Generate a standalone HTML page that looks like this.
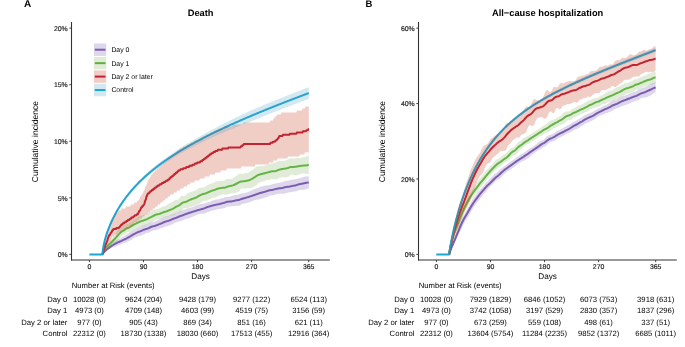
<!DOCTYPE html>
<html><head><meta charset="utf-8"><style>
html,body{margin:0;padding:0;background:#fff;}
svg{display:block;will-change:transform;} text{text-rendering:geometricPrecision;} .t{stroke:currentColor;stroke-width:0.18px;}
</style></head><body>
<svg width="685" height="347" viewBox="0 0 685 347">
<rect width="685" height="347" fill="#fff"/>
<text x="24.0" y="6.8" font-family="&quot;Liberation Sans&quot;, sans-serif" font-size="10" font-weight="bold" fill="#000">A</text>
<text x="365.6" y="6.9" font-family="&quot;Liberation Sans&quot;, sans-serif" font-size="9.5" font-weight="bold" fill="#000">B</text>
<line x1="71.5" y1="22" x2="71.5" y2="260.5" stroke="#333333" stroke-width="1.1"/>
<line x1="71.0" y1="260" x2="329.8" y2="260" stroke="#333333" stroke-width="1.1"/>
<line x1="69.3" y1="254.4" x2="71.5" y2="254.4" stroke="#333333" stroke-width="0.9"/>
<text class="t" x="67.7" y="257.20" font-family="&quot;Liberation Sans&quot;, sans-serif" font-size="6.9" fill="#262626" color="#262626" text-anchor="end">0%</text>
<line x1="69.3" y1="197.82" x2="71.5" y2="197.82" stroke="#333333" stroke-width="0.9"/>
<text class="t" x="67.7" y="200.62" font-family="&quot;Liberation Sans&quot;, sans-serif" font-size="6.9" fill="#262626" color="#262626" text-anchor="end">5%</text>
<line x1="69.3" y1="141.24" x2="71.5" y2="141.24" stroke="#333333" stroke-width="0.9"/>
<text class="t" x="67.7" y="144.04" font-family="&quot;Liberation Sans&quot;, sans-serif" font-size="6.9" fill="#262626" color="#262626" text-anchor="end">10%</text>
<line x1="69.3" y1="84.66" x2="71.5" y2="84.66" stroke="#333333" stroke-width="0.9"/>
<text class="t" x="67.7" y="87.46" font-family="&quot;Liberation Sans&quot;, sans-serif" font-size="6.9" fill="#262626" color="#262626" text-anchor="end">15%</text>
<line x1="69.3" y1="28.080000000000013" x2="71.5" y2="28.080000000000013" stroke="#333333" stroke-width="0.9"/>
<text class="t" x="67.7" y="30.88" font-family="&quot;Liberation Sans&quot;, sans-serif" font-size="6.9" fill="#262626" color="#262626" text-anchor="end">20%</text>
<line x1="89.40" y1="260" x2="89.40" y2="262.2" stroke="#333333" stroke-width="0.9"/>
<text class="t" x="89.40" y="269.0" font-family="&quot;Liberation Sans&quot;, sans-serif" font-size="6.9" fill="#262626" color="#262626" text-anchor="middle">0</text>
<line x1="143.47" y1="260" x2="143.47" y2="262.2" stroke="#333333" stroke-width="0.9"/>
<text class="t" x="143.47" y="269.0" font-family="&quot;Liberation Sans&quot;, sans-serif" font-size="6.9" fill="#262626" color="#262626" text-anchor="middle">90</text>
<line x1="197.54" y1="260" x2="197.54" y2="262.2" stroke="#333333" stroke-width="0.9"/>
<text class="t" x="197.54" y="269.0" font-family="&quot;Liberation Sans&quot;, sans-serif" font-size="6.9" fill="#262626" color="#262626" text-anchor="middle">180</text>
<line x1="251.62" y1="260" x2="251.62" y2="262.2" stroke="#333333" stroke-width="0.9"/>
<text class="t" x="251.62" y="269.0" font-family="&quot;Liberation Sans&quot;, sans-serif" font-size="6.9" fill="#262626" color="#262626" text-anchor="middle">270</text>
<line x1="308.69" y1="260" x2="308.69" y2="262.2" stroke="#333333" stroke-width="0.9"/>
<text class="t" x="308.69" y="269.0" font-family="&quot;Liberation Sans&quot;, sans-serif" font-size="6.9" fill="#262626" color="#262626" text-anchor="middle">365</text>
<text x="200.65" y="278.7" font-family="&quot;Liberation Sans&quot;, sans-serif" font-size="8.2" fill="#000" text-anchor="middle">Days</text>
<text x="200.65" y="16.2" font-family="&quot;Liberation Sans&quot;, sans-serif" font-size="9.3" font-weight="bold" fill="#000" text-anchor="middle">Death</text>
<text transform="translate(38.2,141.5) rotate(-90)" font-family="&quot;Liberation Sans&quot;, sans-serif" font-size="8.55" fill="#000" text-anchor="middle">Cumulative incidence</text>
<text x="71.7" y="287.5" font-family="&quot;Liberation Sans&quot;, sans-serif" font-size="7.7" fill="#000">Number at Risk (events)</text>
<text x="67.4" y="301.50" font-family="&quot;Liberation Sans&quot;, sans-serif" font-size="7.7" fill="#000" text-anchor="end">Day 0</text>
<text x="89.40" y="301.50" font-family="&quot;Liberation Sans&quot;, sans-serif" font-size="7.7" fill="#000" text-anchor="middle">10028 (0)</text>
<text x="143.47" y="301.50" font-family="&quot;Liberation Sans&quot;, sans-serif" font-size="7.7" fill="#000" text-anchor="middle">9624 (204)</text>
<text x="197.54" y="301.50" font-family="&quot;Liberation Sans&quot;, sans-serif" font-size="7.7" fill="#000" text-anchor="middle">9428 (179)</text>
<text x="251.62" y="301.50" font-family="&quot;Liberation Sans&quot;, sans-serif" font-size="7.7" fill="#000" text-anchor="middle">9277 (122)</text>
<text x="308.69" y="301.50" font-family="&quot;Liberation Sans&quot;, sans-serif" font-size="7.7" fill="#000" text-anchor="middle">6524 (113)</text>
<text x="67.4" y="313.13" font-family="&quot;Liberation Sans&quot;, sans-serif" font-size="7.7" fill="#000" text-anchor="end">Day 1</text>
<text x="89.40" y="313.13" font-family="&quot;Liberation Sans&quot;, sans-serif" font-size="7.7" fill="#000" text-anchor="middle">4973 (0)</text>
<text x="143.47" y="313.13" font-family="&quot;Liberation Sans&quot;, sans-serif" font-size="7.7" fill="#000" text-anchor="middle">4709 (148)</text>
<text x="197.54" y="313.13" font-family="&quot;Liberation Sans&quot;, sans-serif" font-size="7.7" fill="#000" text-anchor="middle">4603 (99)</text>
<text x="251.62" y="313.13" font-family="&quot;Liberation Sans&quot;, sans-serif" font-size="7.7" fill="#000" text-anchor="middle">4519 (75)</text>
<text x="308.69" y="313.13" font-family="&quot;Liberation Sans&quot;, sans-serif" font-size="7.7" fill="#000" text-anchor="middle">3156 (59)</text>
<text x="67.4" y="324.76" font-family="&quot;Liberation Sans&quot;, sans-serif" font-size="7.7" fill="#000" text-anchor="end">Day 2 or later</text>
<text x="89.40" y="324.76" font-family="&quot;Liberation Sans&quot;, sans-serif" font-size="7.7" fill="#000" text-anchor="middle">977 (0)</text>
<text x="143.47" y="324.76" font-family="&quot;Liberation Sans&quot;, sans-serif" font-size="7.7" fill="#000" text-anchor="middle">905 (43)</text>
<text x="197.54" y="324.76" font-family="&quot;Liberation Sans&quot;, sans-serif" font-size="7.7" fill="#000" text-anchor="middle">869 (34)</text>
<text x="251.62" y="324.76" font-family="&quot;Liberation Sans&quot;, sans-serif" font-size="7.7" fill="#000" text-anchor="middle">851 (16)</text>
<text x="308.69" y="324.76" font-family="&quot;Liberation Sans&quot;, sans-serif" font-size="7.7" fill="#000" text-anchor="middle">621 (11)</text>
<text x="67.4" y="336.39" font-family="&quot;Liberation Sans&quot;, sans-serif" font-size="7.7" fill="#000" text-anchor="end">Control</text>
<text x="89.40" y="336.39" font-family="&quot;Liberation Sans&quot;, sans-serif" font-size="7.7" fill="#000" text-anchor="middle">22312 (0)</text>
<text x="143.47" y="336.39" font-family="&quot;Liberation Sans&quot;, sans-serif" font-size="7.7" fill="#000" text-anchor="middle">18730 (1338)</text>
<text x="197.54" y="336.39" font-family="&quot;Liberation Sans&quot;, sans-serif" font-size="7.7" fill="#000" text-anchor="middle">18030 (660)</text>
<text x="251.62" y="336.39" font-family="&quot;Liberation Sans&quot;, sans-serif" font-size="7.7" fill="#000" text-anchor="middle">17513 (455)</text>
<text x="308.69" y="336.39" font-family="&quot;Liberation Sans&quot;, sans-serif" font-size="7.7" fill="#000" text-anchor="middle">12916 (364)</text>
<line x1="418.5" y1="22" x2="418.5" y2="260.5" stroke="#333333" stroke-width="1.1"/>
<line x1="418.0" y1="260" x2="676.8" y2="260" stroke="#333333" stroke-width="1.1"/>
<line x1="416.3" y1="254.4" x2="418.5" y2="254.4" stroke="#333333" stroke-width="0.9"/>
<text class="t" x="414.7" y="257.20" font-family="&quot;Liberation Sans&quot;, sans-serif" font-size="6.9" fill="#262626" color="#262626" text-anchor="end">0%</text>
<line x1="416.3" y1="178.97" x2="418.5" y2="178.97" stroke="#333333" stroke-width="0.9"/>
<text class="t" x="414.7" y="181.77" font-family="&quot;Liberation Sans&quot;, sans-serif" font-size="6.9" fill="#262626" color="#262626" text-anchor="end">20%</text>
<line x1="416.3" y1="103.53999999999999" x2="418.5" y2="103.53999999999999" stroke="#333333" stroke-width="0.9"/>
<text class="t" x="414.7" y="106.34" font-family="&quot;Liberation Sans&quot;, sans-serif" font-size="6.9" fill="#262626" color="#262626" text-anchor="end">40%</text>
<line x1="416.3" y1="28.109999999999985" x2="418.5" y2="28.109999999999985" stroke="#333333" stroke-width="0.9"/>
<text class="t" x="414.7" y="30.91" font-family="&quot;Liberation Sans&quot;, sans-serif" font-size="6.9" fill="#262626" color="#262626" text-anchor="end">60%</text>
<line x1="436.40" y1="260" x2="436.40" y2="262.2" stroke="#333333" stroke-width="0.9"/>
<text class="t" x="436.40" y="269.0" font-family="&quot;Liberation Sans&quot;, sans-serif" font-size="6.9" fill="#262626" color="#262626" text-anchor="middle">0</text>
<line x1="490.47" y1="260" x2="490.47" y2="262.2" stroke="#333333" stroke-width="0.9"/>
<text class="t" x="490.47" y="269.0" font-family="&quot;Liberation Sans&quot;, sans-serif" font-size="6.9" fill="#262626" color="#262626" text-anchor="middle">90</text>
<line x1="544.54" y1="260" x2="544.54" y2="262.2" stroke="#333333" stroke-width="0.9"/>
<text class="t" x="544.54" y="269.0" font-family="&quot;Liberation Sans&quot;, sans-serif" font-size="6.9" fill="#262626" color="#262626" text-anchor="middle">180</text>
<line x1="598.62" y1="260" x2="598.62" y2="262.2" stroke="#333333" stroke-width="0.9"/>
<text class="t" x="598.62" y="269.0" font-family="&quot;Liberation Sans&quot;, sans-serif" font-size="6.9" fill="#262626" color="#262626" text-anchor="middle">270</text>
<line x1="655.69" y1="260" x2="655.69" y2="262.2" stroke="#333333" stroke-width="0.9"/>
<text class="t" x="655.69" y="269.0" font-family="&quot;Liberation Sans&quot;, sans-serif" font-size="6.9" fill="#262626" color="#262626" text-anchor="middle">365</text>
<text x="547.65" y="278.7" font-family="&quot;Liberation Sans&quot;, sans-serif" font-size="8.2" fill="#000" text-anchor="middle">Days</text>
<text x="547.65" y="16.2" font-family="&quot;Liberation Sans&quot;, sans-serif" font-size="9.3" font-weight="bold" fill="#000" text-anchor="middle">All−cause hospitalization</text>
<text transform="translate(384.9,141.5) rotate(-90)" font-family="&quot;Liberation Sans&quot;, sans-serif" font-size="8.55" fill="#000" text-anchor="middle">Cumulative incidence</text>
<text x="418.7" y="287.5" font-family="&quot;Liberation Sans&quot;, sans-serif" font-size="7.7" fill="#000">Number at Risk (events)</text>
<text x="414.4" y="301.50" font-family="&quot;Liberation Sans&quot;, sans-serif" font-size="7.7" fill="#000" text-anchor="end">Day 0</text>
<text x="436.40" y="301.50" font-family="&quot;Liberation Sans&quot;, sans-serif" font-size="7.7" fill="#000" text-anchor="middle">10028 (0)</text>
<text x="490.47" y="301.50" font-family="&quot;Liberation Sans&quot;, sans-serif" font-size="7.7" fill="#000" text-anchor="middle">7929 (1829)</text>
<text x="544.54" y="301.50" font-family="&quot;Liberation Sans&quot;, sans-serif" font-size="7.7" fill="#000" text-anchor="middle">6846 (1052)</text>
<text x="598.62" y="301.50" font-family="&quot;Liberation Sans&quot;, sans-serif" font-size="7.7" fill="#000" text-anchor="middle">6073 (753)</text>
<text x="655.69" y="301.50" font-family="&quot;Liberation Sans&quot;, sans-serif" font-size="7.7" fill="#000" text-anchor="middle">3918 (631)</text>
<text x="414.4" y="313.13" font-family="&quot;Liberation Sans&quot;, sans-serif" font-size="7.7" fill="#000" text-anchor="end">Day 1</text>
<text x="436.40" y="313.13" font-family="&quot;Liberation Sans&quot;, sans-serif" font-size="7.7" fill="#000" text-anchor="middle">4973 (0)</text>
<text x="490.47" y="313.13" font-family="&quot;Liberation Sans&quot;, sans-serif" font-size="7.7" fill="#000" text-anchor="middle">3742 (1058)</text>
<text x="544.54" y="313.13" font-family="&quot;Liberation Sans&quot;, sans-serif" font-size="7.7" fill="#000" text-anchor="middle">3197 (529)</text>
<text x="598.62" y="313.13" font-family="&quot;Liberation Sans&quot;, sans-serif" font-size="7.7" fill="#000" text-anchor="middle">2830 (357)</text>
<text x="655.69" y="313.13" font-family="&quot;Liberation Sans&quot;, sans-serif" font-size="7.7" fill="#000" text-anchor="middle">1837 (296)</text>
<text x="414.4" y="324.76" font-family="&quot;Liberation Sans&quot;, sans-serif" font-size="7.7" fill="#000" text-anchor="end">Day 2 or later</text>
<text x="436.40" y="324.76" font-family="&quot;Liberation Sans&quot;, sans-serif" font-size="7.7" fill="#000" text-anchor="middle">977 (0)</text>
<text x="490.47" y="324.76" font-family="&quot;Liberation Sans&quot;, sans-serif" font-size="7.7" fill="#000" text-anchor="middle">673 (259)</text>
<text x="544.54" y="324.76" font-family="&quot;Liberation Sans&quot;, sans-serif" font-size="7.7" fill="#000" text-anchor="middle">559 (108)</text>
<text x="598.62" y="324.76" font-family="&quot;Liberation Sans&quot;, sans-serif" font-size="7.7" fill="#000" text-anchor="middle">498 (61)</text>
<text x="655.69" y="324.76" font-family="&quot;Liberation Sans&quot;, sans-serif" font-size="7.7" fill="#000" text-anchor="middle">337 (51)</text>
<text x="414.4" y="336.39" font-family="&quot;Liberation Sans&quot;, sans-serif" font-size="7.7" fill="#000" text-anchor="end">Control</text>
<text x="436.40" y="336.39" font-family="&quot;Liberation Sans&quot;, sans-serif" font-size="7.7" fill="#000" text-anchor="middle">22312 (0)</text>
<text x="490.47" y="336.39" font-family="&quot;Liberation Sans&quot;, sans-serif" font-size="7.7" fill="#000" text-anchor="middle">13604 (5754)</text>
<text x="544.54" y="336.39" font-family="&quot;Liberation Sans&quot;, sans-serif" font-size="7.7" fill="#000" text-anchor="middle">11284 (2235)</text>
<text x="598.62" y="336.39" font-family="&quot;Liberation Sans&quot;, sans-serif" font-size="7.7" fill="#000" text-anchor="middle">9852 (1372)</text>
<text x="655.69" y="336.39" font-family="&quot;Liberation Sans&quot;, sans-serif" font-size="7.7" fill="#000" text-anchor="middle">6685 (1011)</text>
<path d="M102.40,254.40L102.90,253.42L103.40,252.78L103.90,252.21L104.40,251.68L104.90,251.19L105.40,250.72L105.90,250.27L106.40,249.85L106.90,249.43L107.40,249.03L107.90,248.63L108.40,248.25L108.90,247.86L109.40,247.48L109.90,247.09L110.40,246.71L110.90,246.34L111.40,245.98L111.90,245.64L112.40,245.33L112.90,245.04L113.40,244.76L113.90,244.48L114.40,244.21L114.90,243.93L115.40,243.64L115.90,243.36L116.40,243.09L116.90,242.83L117.40,242.58L117.90,242.36L118.40,242.15L118.90,241.95L119.40,241.75L119.90,241.55L120.40,241.35L120.90,241.13L121.40,240.89L121.90,240.65L122.40,240.41L122.90,240.17L123.40,239.94L123.90,239.71L124.40,239.48L124.90,239.25L125.40,239.02L125.90,238.77L126.40,238.52L126.90,238.24L127.40,237.96L127.90,237.66L128.40,237.37L128.90,237.08L129.40,236.80L129.90,236.53L130.40,236.25L130.90,235.96L131.40,235.65L131.90,235.34L132.40,235.03L132.90,234.72L133.40,234.43L133.90,234.16L134.40,233.91L134.90,233.66L135.40,233.42L135.90,233.16L136.40,232.90L136.90,232.64L137.40,232.40L137.90,232.17L138.40,231.97L138.90,231.79L139.40,231.61L139.90,231.43L140.40,231.23L140.90,231.03L141.40,230.82L141.90,230.60L142.40,230.39L142.90,230.17L143.40,229.95L143.90,229.74L144.40,229.55L144.90,229.37L145.40,229.22L145.90,229.07L146.40,228.93L146.90,228.78L147.40,228.62L147.90,228.43L148.40,228.23L148.90,228.00L149.40,227.75L149.90,227.49L150.40,227.23L150.90,226.98L151.40,226.76L151.90,226.58L152.40,226.45L152.90,226.33L153.40,226.23L153.90,226.12L154.40,225.99L154.90,225.84L155.40,225.68L155.90,225.51L156.40,225.34L156.90,225.16L157.40,224.97L157.90,224.77L158.40,224.57L158.90,224.37L159.40,224.18L159.90,223.99L160.40,223.81L160.90,223.63L161.40,223.43L161.90,223.22L162.40,222.98L162.90,222.73L163.40,222.48L163.90,222.23L164.40,222.02L164.90,221.82L165.40,221.65L165.90,221.50L166.40,221.36L166.90,221.23L167.40,221.09L167.90,220.95L168.40,220.81L168.90,220.65L169.40,220.48L169.90,220.29L170.40,220.08L170.90,219.86L171.40,219.63L171.90,219.40L172.40,219.18L172.90,218.96L173.40,218.75L173.90,218.56L174.40,218.38L174.90,218.21L175.40,218.05L175.90,217.88L176.40,217.70L176.90,217.49L177.40,217.28L177.90,217.05L178.40,216.83L178.90,216.62L179.40,216.42L179.90,216.23L180.40,216.06L180.90,215.90L181.40,215.73L181.90,215.57L182.40,215.39L182.90,215.21L183.40,215.00L183.90,214.80L184.40,214.59L184.90,214.40L185.40,214.22L185.90,214.05L186.40,213.89L186.90,213.72L187.40,213.54L187.90,213.35L188.40,213.17L188.90,212.98L189.40,212.81L189.90,212.65L190.40,212.50L190.90,212.34L191.40,212.18L191.90,212.02L192.40,211.86L192.90,211.70L193.40,211.55L193.90,211.40L194.40,211.26L194.90,211.10L195.40,210.94L195.90,210.77L196.40,210.60L196.90,210.43L197.40,210.27L197.90,210.13L198.40,210.01L198.90,209.89L199.40,209.77L199.90,209.64L200.40,209.50L200.90,209.35L201.40,209.20L201.90,209.06L202.40,208.92L202.90,208.79L203.40,208.65L203.90,208.50L204.40,208.32L204.90,208.11L205.40,207.89L205.90,207.66L206.40,207.45L206.90,207.25L207.40,207.06L207.90,206.89L208.40,206.73L208.90,206.59L209.40,206.45L209.90,206.31L210.40,206.17L210.90,206.02L211.40,205.86L211.90,205.71L212.40,205.58L212.90,205.45L213.40,205.34L213.90,205.23L214.40,205.11L214.90,204.99L215.40,204.86L215.90,204.73L216.40,204.61L216.90,204.51L217.40,204.43L217.90,204.37L218.40,204.30L218.90,204.21L219.40,204.10L219.90,203.97L220.40,203.82L220.90,203.66L221.40,203.51L221.90,203.38L222.40,203.25L222.90,203.14L223.40,203.02L223.90,202.89L224.40,202.73L224.90,202.54L225.40,202.33L225.90,202.12L226.40,201.94L226.90,201.80L227.40,201.70L227.90,201.65L228.40,201.63L228.90,201.61L229.40,201.59L229.90,201.55L230.40,201.51L230.90,201.45L231.40,201.39L231.90,201.31L232.40,201.22L232.90,201.12L233.40,201.01L233.90,200.89L234.40,200.76L234.90,200.64L235.40,200.52L235.90,200.42L236.40,200.32L236.90,200.25L237.40,200.18L237.90,200.11L238.40,200.03L238.90,199.92L239.40,199.77L239.90,199.59L240.40,199.40L240.90,199.20L241.40,199.01L241.90,198.83L242.40,198.68L242.90,198.54L243.40,198.42L243.90,198.30L244.40,198.17L244.90,198.03L245.40,197.87L245.90,197.70L246.40,197.53L246.90,197.37L247.40,197.23L247.90,197.10L248.40,196.98L248.90,196.84L249.40,196.68L249.90,196.51L250.40,196.33L250.90,196.16L251.40,195.99L251.90,195.84L252.40,195.68L252.90,195.52L253.40,195.35L253.90,195.18L254.40,195.01L254.90,194.84L255.40,194.66L255.90,194.48L256.40,194.29L256.90,194.11L257.40,193.94L257.90,193.76L258.40,193.59L258.90,193.41L259.40,193.24L259.90,193.07L260.40,192.92L260.90,192.78L261.40,192.67L261.90,192.56L262.40,192.46L262.90,192.34L263.40,192.20L263.90,192.05L264.40,191.90L264.90,191.74L265.40,191.59L265.90,191.44L266.40,191.29L266.90,191.13L267.40,190.95L267.90,190.76L268.40,190.58L268.90,190.42L269.40,190.30L269.90,190.21L270.40,190.15L270.90,190.10L271.40,190.06L271.90,190.00L272.40,189.91L272.90,189.80L273.40,189.66L273.90,189.51L274.40,189.37L274.90,189.23L275.40,189.11L275.90,189.00L276.40,188.89L276.90,188.78L277.40,188.68L277.90,188.58L278.40,188.50L278.90,188.42L279.40,188.36L279.90,188.30L280.40,188.24L280.90,188.18L281.40,188.13L281.90,188.06L282.40,187.97L282.90,187.86L283.40,187.71L283.90,187.55L284.40,187.38L284.90,187.23L285.40,187.11L285.90,187.01L286.40,186.94L286.90,186.87L287.40,186.82L287.90,186.77L288.40,186.72L288.90,186.67L289.40,186.61L289.90,186.52L290.40,186.41L290.90,186.27L291.40,186.13L291.90,186.00L292.40,185.88L292.90,185.79L293.40,185.73L293.90,185.67L294.40,185.61L294.90,185.53L295.40,185.42L295.90,185.28L296.40,185.10L296.90,184.92L297.40,184.74L297.90,184.58L298.40,184.44L298.90,184.32L299.40,184.23L299.90,184.13L300.40,184.03L300.90,183.93L301.40,183.82L301.90,183.71L302.40,183.61L302.90,183.51L303.40,183.41L303.90,183.29L304.40,183.17L304.90,183.05L305.40,182.94L305.90,182.85L306.40,182.77L306.90,182.70L307.40,182.63L307.90,182.56L308.40,182.48L308.80,182.40" fill="none" stroke="#7a5cb0" stroke-width="2.0" stroke-linejoin="round"/>
<path d="M102.40,254.40L102.90,252.60L103.40,251.52L103.90,250.65L104.40,249.89L104.90,249.21L105.40,248.57L105.90,247.96L106.40,247.39L106.90,246.85L107.40,246.33L107.90,245.82L108.40,245.33L108.90,244.84L109.40,244.34L109.90,243.84L110.40,243.33L110.90,242.82L111.40,242.32L111.90,241.81L112.40,241.30L112.90,240.80L113.40,240.28L113.90,239.77L114.40,239.25L114.90,238.72L115.40,238.19L115.90,237.65L116.40,237.10L116.90,236.53L117.40,235.95L117.90,235.35L118.40,234.76L118.90,234.19L119.40,233.65L119.90,233.14L120.40,232.66L120.90,232.23L121.40,231.83L121.90,231.49L122.40,231.18L122.90,230.90L123.40,230.62L123.90,230.31L124.40,229.98L124.90,229.62L125.40,229.25L125.90,228.90L126.40,228.59L126.90,228.34L127.40,228.12L127.90,227.94L128.40,227.76L128.90,227.55L129.40,227.31L129.90,227.03L130.40,226.72L130.90,226.41L131.40,226.09L131.90,225.78L132.40,225.48L132.90,225.20L133.40,224.92L133.90,224.66L134.40,224.41L134.90,224.16L135.40,223.93L135.90,223.69L136.40,223.45L136.90,223.19L137.40,222.93L137.90,222.66L138.40,222.38L138.90,222.11L139.40,221.86L139.90,221.64L140.40,221.45L140.90,221.29L141.40,221.13L141.90,220.98L142.40,220.82L142.90,220.64L143.40,220.46L143.90,220.26L144.40,220.07L144.90,219.89L145.40,219.72L145.90,219.56L146.40,219.39L146.90,219.19L147.40,218.95L147.90,218.69L148.40,218.42L148.90,218.16L149.40,217.90L149.90,217.67L150.40,217.44L150.90,217.21L151.40,216.95L151.90,216.68L152.40,216.39L152.90,216.10L153.40,215.80L153.90,215.52L154.40,215.26L154.90,215.02L155.40,214.81L155.90,214.65L156.40,214.52L156.90,214.42L157.40,214.33L157.90,214.24L158.40,214.13L158.90,214.00L159.40,213.85L159.90,213.67L160.40,213.49L160.90,213.29L161.40,213.08L161.90,212.87L162.40,212.65L162.90,212.45L163.40,212.26L163.90,212.09L164.40,211.95L164.90,211.81L165.40,211.68L165.90,211.54L166.40,211.38L166.90,211.20L167.40,210.99L167.90,210.77L168.40,210.55L168.90,210.33L169.40,210.12L169.90,209.93L170.40,209.75L170.90,209.57L171.40,209.38L171.90,209.18L172.40,208.96L172.90,208.72L173.40,208.44L173.90,208.14L174.40,207.81L174.90,207.47L175.40,207.14L175.90,206.83L176.40,206.57L176.90,206.34L177.40,206.14L177.90,205.94L178.40,205.72L178.90,205.46L179.40,205.16L179.90,204.80L180.40,204.40L180.90,203.98L181.40,203.55L181.90,203.16L182.40,202.82L182.90,202.56L183.40,202.37L183.90,202.24L184.40,202.15L184.90,202.06L185.40,201.95L185.90,201.80L186.40,201.60L186.90,201.37L187.40,201.11L187.90,200.84L188.40,200.58L188.90,200.33L189.40,200.10L189.90,199.89L190.40,199.68L190.90,199.46L191.40,199.25L191.90,199.04L192.40,198.84L192.90,198.66L193.40,198.51L193.90,198.36L194.40,198.19L194.90,198.01L195.40,197.79L195.90,197.56L196.40,197.31L196.90,197.05L197.40,196.78L197.90,196.49L198.40,196.19L198.90,195.88L199.40,195.58L199.90,195.29L200.40,195.04L200.90,194.82L201.40,194.62L201.90,194.44L202.40,194.27L202.90,194.11L203.40,193.97L203.90,193.84L204.40,193.72L204.90,193.61L205.40,193.47L205.90,193.30L206.40,193.11L206.90,192.88L207.40,192.65L207.90,192.42L208.40,192.20L208.90,192.00L209.40,191.80L209.90,191.59L210.40,191.37L210.90,191.14L211.40,190.91L211.90,190.70L212.40,190.51L212.90,190.36L213.40,190.23L213.90,190.11L214.40,189.97L214.90,189.81L215.40,189.61L215.90,189.39L216.40,189.17L216.90,188.96L217.40,188.79L217.90,188.65L218.40,188.52L218.90,188.41L219.40,188.30L219.90,188.20L220.40,188.11L220.90,188.02L221.40,187.95L221.90,187.88L222.40,187.82L222.90,187.76L223.40,187.72L223.90,187.69L224.40,187.65L224.90,187.58L225.40,187.48L225.90,187.32L226.40,187.13L226.90,186.91L227.40,186.70L227.90,186.51L228.40,186.35L228.90,186.22L229.40,186.11L229.90,186.01L230.40,185.91L230.90,185.82L231.40,185.72L231.90,185.62L232.40,185.50L232.90,185.35L233.40,185.17L233.90,184.96L234.40,184.74L234.90,184.50L235.40,184.26L235.90,184.01L236.40,183.76L236.90,183.50L237.40,183.23L237.90,182.94L238.40,182.64L238.90,182.35L239.40,182.08L239.90,181.84L240.40,181.66L240.90,181.52L241.40,181.44L241.90,181.40L242.40,181.38L242.90,181.36L243.40,181.34L243.90,181.29L244.40,181.22L244.90,181.13L245.40,181.03L245.90,180.93L246.40,180.84L246.90,180.76L247.40,180.67L247.90,180.57L248.40,180.44L248.90,180.28L249.40,180.10L249.90,179.88L250.40,179.65L250.90,179.40L251.40,179.13L251.90,178.86L252.40,178.57L252.90,178.29L253.40,178.00L253.90,177.70L254.40,177.40L254.90,177.08L255.40,176.75L255.90,176.41L256.40,176.08L256.90,175.75L257.40,175.45L257.90,175.19L258.40,174.96L258.90,174.77L259.40,174.60L259.90,174.46L260.40,174.32L260.90,174.19L261.40,174.07L261.90,173.94L262.40,173.80L262.90,173.67L263.40,173.54L263.90,173.42L264.40,173.29L264.90,173.16L265.40,173.03L265.90,172.90L266.40,172.77L266.90,172.64L267.40,172.50L267.90,172.37L268.40,172.24L268.90,172.10L269.40,171.96L269.90,171.81L270.40,171.66L270.90,171.53L271.40,171.43L271.90,171.36L272.40,171.34L272.90,171.33L273.40,171.34L273.90,171.33L274.40,171.29L274.90,171.22L275.40,171.11L275.90,170.97L276.40,170.80L276.90,170.60L277.40,170.39L277.90,170.18L278.40,169.98L278.90,169.79L279.40,169.62L279.90,169.47L280.40,169.35L280.90,169.24L281.40,169.14L281.90,169.06L282.40,168.99L282.90,168.91L283.40,168.84L283.90,168.77L284.40,168.69L284.90,168.62L285.40,168.54L285.90,168.45L286.40,168.35L286.90,168.23L287.40,168.09L287.90,167.94L288.40,167.76L288.90,167.58L289.40,167.39L289.90,167.23L290.40,167.09L290.90,167.00L291.40,166.94L291.90,166.91L292.40,166.89L292.90,166.89L293.40,166.89L293.90,166.88L294.40,166.86L294.90,166.82L295.40,166.76L295.90,166.67L296.40,166.58L296.90,166.49L297.40,166.40L297.90,166.32L298.40,166.24L298.90,166.17L299.40,166.09L299.90,166.00L300.40,165.91L300.90,165.83L301.40,165.75L301.90,165.69L302.40,165.63L302.90,165.59L303.40,165.55L303.90,165.51L304.40,165.49L304.90,165.48L305.40,165.47L305.90,165.45L306.40,165.41L306.90,165.33L307.40,165.21L307.90,165.06L308.40,164.91L308.80,164.80" fill="none" stroke="#5cb43c" stroke-width="2.0" stroke-linejoin="round"/>
<path d="M102.40,254.40L102.90,253.25L103.40,252.10L103.90,249.80L104.40,248.65L104.90,246.35L105.40,245.20L105.90,244.05L106.40,242.90L106.90,241.75L107.40,240.60L107.90,238.30L108.40,237.15L108.90,236.00L109.40,234.85L109.90,234.85L110.40,233.70L110.90,232.55L111.40,232.55L111.90,231.40L112.40,230.25L112.90,230.25L113.40,229.10L113.90,229.10L114.40,229.10L114.90,229.10L115.40,229.10L115.90,229.10L116.40,227.95L116.90,227.95L117.40,227.95L117.90,227.95L118.40,227.95L118.90,227.95L119.40,226.80L119.90,226.80L120.40,225.65L120.90,225.65L121.40,224.50L121.90,224.50L122.40,224.50L122.90,223.35L123.40,223.35L123.90,223.35L124.40,222.20L124.90,222.20L125.40,222.20L125.90,222.20L126.40,221.05L126.90,221.05L127.40,221.05L127.90,219.90L128.40,219.90L128.90,219.90L129.40,219.90L129.90,218.75L130.40,218.75L130.90,218.75L131.40,217.60L131.90,217.60L132.40,217.60L132.90,217.60L133.40,216.45L133.90,216.45L134.40,216.45L134.90,215.30L135.40,215.30L135.90,215.30L136.40,215.30L136.90,214.15L137.40,214.15L137.90,214.15L138.40,213.00L138.90,211.85L139.40,210.70L139.90,210.70L140.40,209.55L140.90,208.40L141.40,207.25L141.90,207.25L142.40,206.10L142.90,206.10L143.40,204.95L143.90,204.95L144.40,203.80L144.90,201.50L145.40,200.35L145.90,199.20L146.40,196.90L146.90,195.75L147.40,194.60L147.90,193.45L148.40,193.45L148.90,193.45L149.40,192.30L149.90,192.30L150.40,191.15L150.90,191.15L151.40,191.15L151.90,190.00L152.40,190.00L152.90,190.00L153.40,188.85L153.90,188.85L154.40,188.85L154.90,187.70L155.40,187.70L155.90,187.70L156.40,186.55L156.90,186.55L157.40,186.55L157.90,185.40L158.40,185.40L158.90,185.40L159.40,185.40L159.90,184.25L160.40,184.25L160.90,184.25L161.40,184.25L161.90,183.10L162.40,183.10L162.90,183.10L163.40,183.10L163.90,181.95L164.40,181.95L164.90,181.95L165.40,181.95L165.90,180.80L166.40,180.80L166.90,180.80L167.40,180.80L167.90,179.65L168.40,179.65L168.90,179.65L169.40,178.50L169.90,178.50L170.40,177.35L170.90,177.35L171.40,177.35L171.90,176.20L172.40,176.20L172.90,176.20L173.40,175.05L173.90,175.05L174.40,173.90L174.90,173.90L175.40,173.90L175.90,172.75L176.40,172.75L176.90,172.75L177.40,171.60L177.90,171.60L178.40,170.45L178.90,170.45L179.40,170.45L179.90,170.45L180.40,169.30L180.90,169.30L181.40,169.30L181.90,169.30L182.40,169.30L182.90,169.30L183.40,168.15L183.90,168.15L184.40,168.15L184.90,168.15L185.40,168.15L185.90,168.15L186.40,167.00L186.90,167.00L187.40,167.00L187.90,167.00L188.40,167.00L188.90,167.00L189.40,165.85L189.90,165.85L190.40,165.85L190.90,165.85L191.40,165.85L191.90,165.85L192.40,164.70L192.90,164.70L193.40,164.70L193.90,164.70L194.40,164.70L194.90,163.55L195.40,163.55L195.90,163.55L196.40,163.55L196.90,163.55L197.40,162.40L197.90,162.40L198.40,162.40L198.90,162.40L199.40,162.40L199.90,162.40L200.40,161.25L200.90,161.25L201.40,161.25L201.90,161.25L202.40,160.10L202.90,160.10L203.40,160.10L203.90,158.95L204.40,158.95L204.90,158.95L205.40,157.80L205.90,157.80L206.40,157.80L206.90,156.65L207.40,156.65L207.90,156.65L208.40,155.50L208.90,155.50L209.40,155.50L209.90,154.35L210.40,154.35L210.90,154.35L211.40,153.20L211.90,153.20L212.40,153.20L212.90,153.20L213.40,152.05L213.90,152.05L214.40,152.05L214.90,152.05L215.40,150.90L215.90,150.90L216.40,150.90L216.90,150.90L217.40,150.90L217.90,149.75L218.40,149.75L218.90,149.75L219.40,149.75L219.90,149.75L220.40,149.75L220.90,149.75L221.40,149.75L221.90,149.75L222.40,148.60L222.90,148.60L223.40,148.60L223.90,148.60L224.40,148.60L224.90,148.60L225.40,148.60L225.90,148.60L226.40,148.60L226.90,148.60L227.40,148.60L227.90,148.60L228.40,147.45L228.90,147.45L229.40,147.45L229.90,147.45L230.40,147.45L230.90,147.45L231.40,147.45L231.90,147.45L232.40,147.45L232.90,147.45L233.40,147.45L233.90,147.45L234.40,147.45L234.90,147.45L235.40,147.45L235.90,147.45L236.40,147.45L236.90,147.45L237.40,147.45L237.90,147.45L238.40,147.45L238.90,147.45L239.40,147.45L239.90,147.45L240.40,147.45L240.90,146.30L241.40,146.30L241.90,146.30L242.40,145.15L242.90,145.15L243.40,145.15L243.90,144.00L244.40,144.00L244.90,144.00L245.40,144.00L245.90,144.00L246.40,144.00L246.90,144.00L247.40,144.00L247.90,144.00L248.40,144.00L248.90,144.00L249.40,144.00L249.90,144.00L250.40,144.00L250.90,144.00L251.40,144.00L251.90,144.00L252.40,144.00L252.90,144.00L253.40,144.00L253.90,144.00L254.40,144.00L254.90,144.00L255.40,144.00L255.90,144.00L256.40,144.00L256.90,144.00L257.40,144.00L257.90,144.00L258.40,144.00L258.90,144.00L259.40,144.00L259.90,144.00L260.40,144.00L260.90,144.00L261.40,144.00L261.90,144.00L262.40,144.00L262.90,144.00L263.40,144.00L263.90,144.00L264.40,144.00L264.90,144.00L265.40,144.00L265.90,144.00L266.40,144.00L266.90,144.00L267.40,144.00L267.90,144.00L268.40,144.00L268.90,144.00L269.40,144.00L269.90,144.00L270.40,142.85L270.90,142.85L271.40,142.85L271.90,142.85L272.40,142.85L272.90,141.70L273.40,141.70L273.90,141.70L274.40,141.70L274.90,141.70L275.40,140.55L275.90,140.55L276.40,140.55L276.90,139.40L277.40,139.40L277.90,138.25L278.40,138.25L278.90,137.10L279.40,135.95L279.90,135.95L280.40,135.95L280.90,135.95L281.40,135.95L281.90,135.95L282.40,135.95L282.90,134.80L283.40,134.80L283.90,134.80L284.40,134.80L284.90,134.80L285.40,134.80L285.90,134.80L286.40,134.80L286.90,134.80L287.40,134.80L287.90,134.80L288.40,134.80L288.90,134.80L289.40,134.80L289.90,133.65L290.40,133.65L290.90,133.65L291.40,133.65L291.90,133.65L292.40,133.65L292.90,133.65L293.40,133.65L293.90,133.65L294.40,133.65L294.90,133.65L295.40,133.65L295.90,133.65L296.40,133.65L296.90,132.50L297.40,132.50L297.90,132.50L298.40,132.50L298.90,132.50L299.40,132.50L299.90,132.50L300.40,132.50L300.90,132.50L301.40,132.50L301.90,132.50L302.40,132.50L302.90,131.35L303.40,131.35L303.90,131.35L304.40,131.35L304.90,131.35L305.40,131.35L305.90,131.35L306.40,130.20L306.90,130.20L307.40,130.20L307.90,130.20L308.40,129.05L308.80,129.05" fill="none" stroke="#c41e3a" stroke-width="2.0" stroke-linejoin="round"/>
<path d="M89.40,254.40L102.40,254.40L102.90,249.58L103.40,246.66L103.90,244.22L104.40,242.05L104.90,240.08L105.40,238.25L105.90,236.53L106.40,234.91L106.90,233.37L107.40,231.89L107.90,230.48L108.40,229.12L108.90,227.82L109.40,226.55L109.90,225.33L110.40,224.14L110.90,222.98L111.40,221.86L111.90,220.77L112.40,219.70L112.90,218.66L113.40,217.64L113.90,216.65L114.40,215.68L114.90,214.73L115.40,213.80L115.90,212.88L116.40,211.99L116.90,211.11L117.40,210.24L117.90,209.40L118.40,208.56L118.90,207.74L119.40,206.94L119.90,206.15L120.40,205.37L120.90,204.60L121.40,203.84L121.90,203.10L122.40,202.36L122.90,201.64L123.40,200.93L123.90,200.22L124.40,199.53L124.90,198.84L125.40,198.17L125.90,197.50L126.40,196.84L126.90,196.19L127.40,195.55L127.90,194.91L128.40,194.29L128.90,193.67L129.40,193.05L129.90,192.45L130.40,191.85L130.90,191.26L131.40,190.67L131.90,190.09L132.40,189.52L132.90,188.95L133.40,188.39L133.90,187.83L134.40,187.28L134.90,186.73L135.40,186.19L135.90,185.66L136.40,185.13L136.90,184.61L137.40,184.09L137.90,183.57L138.40,183.06L138.90,182.56L139.40,182.06L139.90,181.56L140.40,181.07L140.90,180.58L141.40,180.09L141.90,179.61L142.40,179.14L142.90,178.67L143.40,178.20L143.90,177.73L144.40,177.27L144.90,176.82L145.40,176.36L145.90,175.91L146.40,175.47L146.90,175.02L147.40,174.58L147.90,174.15L148.40,173.71L148.90,173.28L149.40,172.86L149.90,172.43L150.40,172.01L150.90,171.59L151.40,171.18L151.90,170.76L152.40,170.35L152.90,169.95L153.40,169.54L153.90,169.14L154.40,168.74L154.90,168.35L155.40,167.95L155.90,167.56L156.40,167.17L156.90,166.78L157.40,166.40L157.90,166.02L158.40,165.64L158.90,165.26L159.40,164.89L159.90,164.51L160.40,164.14L160.90,163.78L161.40,163.41L161.90,163.04L162.40,162.68L162.90,162.32L163.40,161.96L163.90,161.61L164.40,161.25L164.90,160.90L165.40,160.55L165.90,160.20L166.40,159.86L166.90,159.51L167.40,159.17L167.90,158.83L168.40,158.49L168.90,158.15L169.40,157.81L169.90,157.48L170.40,157.14L170.90,156.81L171.40,156.48L171.90,156.16L172.40,155.83L172.90,155.50L173.40,155.18L173.90,154.86L174.40,154.54L174.90,154.22L175.40,153.90L175.90,153.58L176.40,153.27L176.90,152.96L177.40,152.64L177.90,152.33L178.40,152.02L178.90,151.72L179.40,151.41L179.90,151.10L180.40,150.80L180.90,150.50L181.40,150.20L181.90,149.89L182.40,149.60L182.90,149.30L183.40,149.00L183.90,148.70L184.40,148.41L184.90,148.12L185.40,147.82L185.90,147.53L186.40,147.24L186.90,146.95L187.40,146.67L187.90,146.38L188.40,146.09L188.90,145.81L189.40,145.53L189.90,145.24L190.40,144.96L190.90,144.68L191.40,144.40L191.90,144.12L192.40,143.85L192.90,143.57L193.40,143.29L193.90,143.02L194.40,142.74L194.90,142.47L195.40,142.20L195.90,141.93L196.40,141.66L196.90,141.39L197.40,141.12L197.90,140.85L198.40,140.59L198.90,140.32L199.40,140.05L199.90,139.79L200.40,139.53L200.90,139.26L201.40,139.00L201.90,138.74L202.40,138.48L202.90,138.22L203.40,137.96L203.90,137.70L204.40,137.45L204.90,137.19L205.40,136.93L205.90,136.68L206.40,136.42L206.90,136.17L207.40,135.92L207.90,135.67L208.40,135.41L208.90,135.16L209.40,134.91L209.90,134.66L210.40,134.41L210.90,134.17L211.40,133.92L211.90,133.67L212.40,133.42L212.90,133.18L213.40,132.93L213.90,132.69L214.40,132.44L214.90,132.20L215.40,131.96L215.90,131.72L216.40,131.48L216.90,131.23L217.40,130.99L217.90,130.75L218.40,130.52L218.90,130.28L219.40,130.04L219.90,129.80L220.40,129.56L220.90,129.33L221.40,129.09L221.90,128.86L222.40,128.62L222.90,128.39L223.40,128.15L223.90,127.92L224.40,127.69L224.90,127.45L225.40,127.22L225.90,126.99L226.40,126.76L226.90,126.53L227.40,126.30L227.90,126.07L228.40,125.84L228.90,125.61L229.40,125.38L229.90,125.16L230.40,124.93L230.90,124.70L231.40,124.48L231.90,124.25L232.40,124.03L232.90,123.80L233.40,123.58L233.90,123.35L234.40,123.13L234.90,122.91L235.40,122.68L235.90,122.46L236.40,122.24L236.90,122.02L237.40,121.80L237.90,121.58L238.40,121.35L238.90,121.13L239.40,120.91L239.90,120.70L240.40,120.48L240.90,120.26L241.40,120.04L241.90,119.82L242.40,119.61L242.90,119.39L243.40,119.17L243.90,118.95L244.40,118.74L244.90,118.52L245.40,118.31L245.90,118.09L246.40,117.88L246.90,117.66L247.40,117.45L247.90,117.24L248.40,117.02L248.90,116.81L249.40,116.60L249.90,116.39L250.40,116.17L250.90,115.96L251.40,115.75L251.90,115.54L252.40,115.33L252.90,115.12L253.40,114.91L253.90,114.70L254.40,114.49L254.90,114.28L255.40,114.07L255.90,113.86L256.40,113.65L256.90,113.45L257.40,113.24L257.90,113.03L258.40,112.82L258.90,112.62L259.40,112.41L259.90,112.20L260.40,112.00L260.90,111.79L261.40,111.59L261.90,111.38L262.40,111.18L262.90,110.97L263.40,110.77L263.90,110.56L264.40,110.36L264.90,110.16L265.40,109.95L265.90,109.75L266.40,109.55L266.90,109.34L267.40,109.14L267.90,108.94L268.40,108.74L268.90,108.53L269.40,108.33L269.90,108.13L270.40,107.93L270.90,107.73L271.40,107.53L271.90,107.33L272.40,107.13L272.90,106.93L273.40,106.73L273.90,106.53L274.40,106.33L274.90,106.13L275.40,105.93L275.90,105.73L276.40,105.53L276.90,105.34L277.40,105.14L277.90,104.94L278.40,104.74L278.90,104.55L279.40,104.35L279.90,104.15L280.40,103.95L280.90,103.76L281.40,103.56L281.90,103.37L282.40,103.17L282.90,102.97L283.40,102.78L283.90,102.58L284.40,102.39L284.90,102.19L285.40,102.00L285.90,101.80L286.40,101.61L286.90,101.41L287.40,101.22L287.90,101.03L288.40,100.83L288.90,100.64L289.40,100.44L289.90,100.25L290.40,100.06L290.90,99.86L291.40,99.67L291.90,99.48L292.40,99.29L292.90,99.09L293.40,98.90L293.90,98.71L294.40,98.52L294.90,98.33L295.40,98.14L295.90,97.94L296.40,97.75L296.90,97.56L297.40,97.37L297.90,97.18L298.40,96.99L298.90,96.80L299.40,96.61L299.90,96.42L300.40,96.23L300.90,96.04L301.40,95.85L301.90,95.66L302.40,95.47L302.90,95.28L303.40,95.09L303.90,94.90L304.40,94.71L304.90,94.53L305.40,94.34L305.90,94.15L306.40,93.96L306.90,93.77L307.40,93.58L307.90,93.40L308.40,93.21L308.80,93.06" fill="none" stroke="#1ba5d2" stroke-width="2.0" stroke-linejoin="round"/>
<path d="M102.40,254.40L102.90,253.24L103.40,252.48L103.90,251.78L104.40,251.12L104.90,250.51L105.40,249.91L105.90,249.34L106.40,248.79L106.90,248.24L107.40,247.71L107.90,247.18L108.40,246.65L108.90,246.12L109.40,245.59L109.90,245.05L110.40,244.53L110.90,244.02L111.40,243.55L111.90,243.12L112.40,242.72L112.90,242.35L113.40,241.98L113.90,241.60L114.40,241.23L114.90,240.85L115.40,240.56L115.90,240.30L116.40,240.06L116.90,239.83L117.40,239.62L117.90,239.43L118.40,239.23L118.90,239.02L119.40,238.79L119.90,238.55L120.40,238.27L120.90,237.98L121.40,237.67L121.90,237.37L122.40,237.06L122.90,236.76L123.40,236.46L123.90,236.17L124.40,235.86L124.90,235.55L125.40,235.23L125.90,234.89L126.40,234.53L126.90,234.17L127.40,233.81L127.90,233.47L128.40,233.17L128.90,232.88L129.40,232.61L129.90,232.33L130.40,232.02L130.90,231.69L131.40,231.34L131.90,231.00L132.40,230.69L132.90,230.43L133.40,230.21L133.90,230.02L134.40,229.83L134.90,229.61L135.40,229.34L135.90,229.05L136.40,228.74L136.90,228.45L137.40,228.20L137.90,227.97L138.40,227.74L138.90,227.52L139.40,227.28L139.90,227.02L140.40,226.77L140.90,226.52L141.40,226.28L141.90,226.03L142.40,225.79L142.90,225.56L143.40,225.35L143.90,225.17L144.40,225.02L144.90,224.89L145.40,224.77L145.90,224.65L146.40,224.50L146.90,224.31L147.40,224.09L147.90,223.83L148.40,223.54L148.90,223.23L149.40,222.92L149.90,222.65L150.40,222.45L150.90,222.33L151.40,222.27L151.90,222.24L152.40,222.21L152.90,222.14L153.40,222.02L153.90,221.86L154.40,221.64L154.90,221.40L155.40,221.16L155.90,220.92L156.40,220.68L156.90,220.44L157.40,220.20L157.90,219.96L158.40,219.73L158.90,219.51L159.40,219.31L159.90,219.11L160.40,218.89L160.90,218.65L161.40,218.37L161.90,218.04L162.40,217.71L162.90,217.40L163.40,217.14L163.90,216.95L164.40,216.82L164.90,216.71L165.40,216.61L165.90,216.52L166.40,216.41L166.90,216.30L167.40,216.17L167.90,216.04L168.40,215.88L168.90,215.71L169.40,215.51L169.90,215.28L170.40,215.04L170.90,214.81L171.40,214.58L171.90,214.38L172.40,214.20L172.90,214.03L173.40,213.89L173.90,213.76L174.40,213.65L174.90,213.52L175.40,213.37L175.90,213.18L176.40,212.95L176.90,212.69L177.40,212.44L177.90,212.21L178.40,211.99L178.90,211.77L179.40,211.56L179.90,211.35L180.40,211.13L180.90,210.91L181.40,210.68L181.90,210.45L182.40,210.23L182.90,210.02L183.40,209.84L183.90,209.70L184.40,209.60L184.90,209.53L185.40,209.45L185.90,209.34L186.40,209.18L186.90,208.98L187.40,208.76L187.90,208.53L188.40,208.33L188.90,208.16L189.40,208.03L189.90,207.91L190.40,207.78L190.90,207.64L191.40,207.48L191.90,207.30L192.40,207.12L192.90,206.93L193.40,206.73L193.90,206.52L194.40,206.29L194.90,206.04L195.40,205.77L195.90,205.50L196.40,205.26L196.90,205.06L197.40,204.90L197.90,204.78L198.40,204.67L198.90,204.56L199.40,204.45L199.90,204.34L200.40,204.22L200.90,204.11L201.40,204.02L201.90,203.96L202.40,203.90L202.90,203.84L203.40,203.75L203.90,203.61L204.40,203.42L204.90,203.20L205.40,202.99L205.90,202.81L206.40,202.65L206.90,202.51L207.40,202.36L207.90,202.22L208.40,202.09L208.90,201.95L209.40,201.81L209.90,201.64L210.40,201.45L210.90,201.24L211.40,201.04L211.90,200.85L212.40,200.68L212.90,200.53L213.40,200.36L213.90,200.19L214.40,200.00L214.90,199.81L215.40,199.65L215.90,199.53L216.40,199.46L216.90,199.42L217.40,199.40L217.90,199.37L218.40,199.31L218.90,199.20L219.40,199.04L219.90,198.83L220.40,198.62L220.90,198.43L221.40,198.28L221.90,198.16L222.40,198.06L222.90,197.96L223.40,197.83L223.90,197.67L224.40,197.47L224.90,197.26L225.40,197.09L225.90,197.01L226.40,197.02L226.90,197.06L227.40,197.08L227.90,197.06L228.40,197.01L228.90,196.91L229.40,196.78L229.90,196.62L230.40,196.44L230.90,196.26L231.40,196.08L231.90,195.91L232.40,195.75L232.90,195.60L233.40,195.47L233.90,195.35L234.40,195.25L234.90,195.16L235.40,195.09L235.90,195.02L236.40,194.95L236.90,194.89L237.40,194.81L237.90,194.72L238.40,194.58L238.90,194.39L239.40,194.15L239.90,193.90L240.40,193.68L240.90,193.54L241.40,193.46L241.90,193.42L242.40,193.41L242.90,193.39L243.40,193.36L243.90,193.30L244.40,193.19L244.90,193.03L245.40,192.85L245.90,192.67L246.40,192.52L246.90,192.39L247.40,192.28L247.90,192.14L248.40,191.95L248.90,191.72L249.40,191.44L249.90,191.16L250.40,190.90L250.90,190.65L251.40,190.42L251.90,190.19L252.40,189.96L252.90,189.72L253.40,189.48L253.90,189.27L254.40,189.07L254.90,188.88L255.40,188.70L255.90,188.54L256.40,188.40L256.90,188.26L257.40,188.12L257.90,187.94L258.40,187.72L258.90,187.48L259.40,187.25L259.90,187.04L260.40,186.87L260.90,186.74L261.40,186.62L261.90,186.52L262.40,186.40L262.90,186.27L263.40,186.13L263.90,185.99L264.40,185.87L264.90,185.79L265.40,185.73L265.90,185.67L266.40,185.59L266.90,185.48L267.40,185.35L267.90,185.22L268.40,185.12L268.90,185.04L269.40,184.97L269.90,184.89L270.40,184.79L270.90,184.68L271.40,184.57L271.90,184.43L272.40,184.26L272.90,184.07L273.40,183.88L273.90,183.74L274.40,183.64L274.90,183.56L275.40,183.48L275.90,183.39L276.40,183.29L276.90,183.18L277.40,183.09L277.90,183.01L278.40,182.93L278.90,182.85L279.40,182.76L279.90,182.67L280.40,182.57L280.90,182.47L281.40,182.38L281.90,182.26L282.40,182.11L282.90,181.92L283.40,181.69L283.90,181.47L284.40,181.31L284.90,181.19L285.40,181.08L285.90,180.97L286.40,180.86L286.90,180.74L287.40,180.65L287.90,180.57L288.40,180.52L288.90,180.47L289.40,180.41L289.90,180.29L290.40,180.12L290.90,179.94L291.40,179.78L291.90,179.66L292.40,179.58L292.90,179.52L293.40,179.48L293.90,179.44L294.40,179.41L294.90,179.34L295.40,179.22L295.90,179.06L296.40,178.89L296.90,178.76L297.40,178.66L297.90,178.59L298.40,178.52L298.90,178.43L299.40,178.31L299.90,178.16L300.40,177.99L300.90,177.82L301.40,177.65L301.90,177.50L302.40,177.35L302.90,177.21L303.40,177.05L303.90,176.89L304.40,176.74L304.90,176.64L305.40,176.57L305.90,176.54L306.40,176.52L306.90,176.51L307.40,176.49L307.90,176.45L308.40,176.38L308.80,176.31L308.80,188.57L308.40,188.65L307.90,188.72L307.40,188.81L306.90,188.92L306.40,189.05L305.90,189.21L305.40,189.38L304.90,189.55L304.40,189.68L303.90,189.78L303.40,189.83L302.90,189.86L302.40,189.89L301.90,189.92L301.40,189.96L300.90,190.00L300.40,190.02L299.90,190.05L299.40,190.09L298.90,190.16L298.40,190.30L297.90,190.50L297.40,190.74L296.90,190.98L296.40,191.18L295.90,191.32L295.40,191.41L294.90,191.47L294.40,191.52L293.90,191.56L293.40,191.60L292.90,191.66L292.40,191.75L291.90,191.88L291.40,192.01L290.90,192.11L290.40,192.18L289.90,192.22L289.40,192.27L288.90,192.35L288.40,192.46L287.90,192.59L287.40,192.73L286.90,192.88L286.40,193.02L285.90,193.16L285.40,193.32L284.90,193.49L284.40,193.66L283.90,193.77L283.40,193.80L282.90,193.77L282.40,193.71L281.90,193.66L281.40,193.62L280.90,193.62L280.40,193.63L279.90,193.67L279.40,193.72L278.90,193.78L278.40,193.85L277.90,193.94L277.40,194.04L276.90,194.15L276.40,194.26L275.90,194.37L275.40,194.49L274.90,194.65L274.40,194.83L273.90,195.01L273.40,195.15L272.90,195.24L272.40,195.29L271.90,195.33L271.40,195.36L270.90,195.40L270.40,195.47L269.90,195.60L269.40,195.80L268.90,196.07L268.40,196.36L267.90,196.63L267.40,196.83L266.90,196.98L266.40,197.10L265.90,197.21L265.40,197.35L264.90,197.51L264.40,197.68L263.90,197.86L263.40,198.03L262.90,198.19L262.40,198.35L261.90,198.51L261.40,198.67L260.90,198.85L260.40,199.02L259.90,199.19L259.40,199.32L258.90,199.42L258.40,199.48L257.90,199.53L257.40,199.59L256.90,199.67L256.40,199.77L255.90,199.88L255.40,200.00L254.90,200.13L254.40,200.28L253.90,200.46L253.40,200.65L252.90,200.84L252.40,201.04L251.90,201.24L251.40,201.45L250.90,201.68L250.40,201.91L249.90,202.12L249.40,202.29L248.90,202.42L248.40,202.53L247.90,202.65L247.40,202.79L246.90,202.95L246.40,203.12L245.90,203.26L245.40,203.37L244.90,203.43L244.40,203.49L243.90,203.55L243.40,203.66L242.90,203.81L242.40,204.01L241.90,204.26L241.40,204.55L240.90,204.87L240.40,205.16L239.90,205.39L239.40,205.55L238.90,205.65L238.40,205.72L237.90,205.77L237.40,205.80L236.90,205.83L236.40,205.86L235.90,205.90L235.40,205.94L234.90,205.99L234.40,206.04L233.90,206.09L233.40,206.15L232.90,206.20L232.40,206.24L231.90,206.29L231.40,206.33L230.90,206.37L230.40,206.39L229.90,206.39L229.40,206.38L228.90,206.37L228.40,206.36L227.90,206.38L227.40,206.48L226.90,206.68L226.40,207.00L225.90,207.36L225.40,207.69L224.90,207.93L224.40,208.09L223.90,208.20L223.40,208.27L222.90,208.32L222.40,208.38L221.90,208.45L221.40,208.54L220.90,208.64L220.40,208.75L219.90,208.83L219.40,208.91L218.90,208.99L218.40,209.07L217.90,209.17L217.40,209.28L216.90,209.42L216.40,209.58L215.90,209.76L215.40,209.93L214.90,210.06L214.40,210.17L213.90,210.26L213.40,210.35L212.90,210.45L212.40,210.58L211.90,210.73L211.40,210.89L210.90,211.05L210.40,211.20L209.90,211.34L209.40,211.50L208.90,211.68L208.40,211.88L207.90,212.10L207.40,212.33L206.90,212.58L206.40,212.83L205.90,213.08L205.40,213.30L204.90,213.45L204.40,213.53L203.90,213.56L203.40,213.57L202.90,213.59L202.40,213.63L201.90,213.69L201.40,213.76L200.90,213.83L200.40,213.89L199.90,213.96L199.40,214.03L198.90,214.13L198.40,214.25L197.90,214.41L197.40,214.60L196.90,214.82L196.40,215.04L195.90,215.25L195.40,215.44L194.90,215.63L194.40,215.83L193.90,216.06L193.40,216.32L192.90,216.59L192.40,216.86L191.90,217.11L191.40,217.33L190.90,217.52L190.40,217.69L189.90,217.85L189.40,218.00L188.90,218.16L188.40,218.31L187.90,218.44L187.40,218.56L186.90,218.67L186.40,218.79L185.90,218.93L185.40,219.12L184.90,219.35L184.40,219.60L183.90,219.84L183.40,220.07L182.90,220.25L182.40,220.41L181.90,220.53L181.40,220.65L180.90,220.76L180.40,220.88L179.90,221.02L179.40,221.17L178.90,221.35L178.40,221.54L177.90,221.74L177.40,221.94L176.90,222.13L176.40,222.29L175.90,222.45L175.40,222.62L174.90,222.81L174.40,223.04L173.90,223.31L173.40,223.60L172.90,223.89L172.40,224.17L171.90,224.44L171.40,224.69L170.90,224.91L170.40,225.11L169.90,225.28L169.40,225.44L168.90,225.59L168.40,225.75L167.90,225.92L167.40,226.08L166.90,226.23L166.40,226.38L165.90,226.53L165.40,226.69L164.90,226.86L164.40,227.06L163.90,227.29L163.40,227.51L162.90,227.70L162.40,227.86L161.90,227.98L161.40,228.09L160.90,228.22L160.40,228.38L159.90,228.58L159.40,228.79L158.90,229.02L158.40,229.24L157.90,229.43L157.40,229.59L156.90,229.73L156.40,229.85L155.90,229.97L155.40,230.08L154.90,230.18L154.40,230.26L153.90,230.34L153.40,230.42L152.90,230.52L152.40,230.66L151.90,230.88L151.40,231.16L150.90,231.49L150.40,231.81L149.90,232.09L149.40,232.31L148.90,232.48L148.40,232.63L147.90,232.75L147.40,232.87L146.90,232.99L146.40,233.12L145.90,233.28L145.40,233.46L144.90,233.67L144.40,233.92L143.90,234.18L143.40,234.44L142.90,234.69L142.40,234.93L141.90,235.17L141.40,235.39L140.90,235.60L140.40,235.79L139.90,235.95L139.40,236.07L138.90,236.18L138.40,236.31L137.90,236.46L137.40,236.64L136.90,236.83L136.40,237.02L135.90,237.19L135.40,237.34L134.90,237.52L134.40,237.73L133.90,238.00L133.40,238.32L132.90,238.67L132.40,239.02L131.90,239.36L131.40,239.66L130.90,239.94L130.40,240.22L129.90,240.50L129.40,240.80L128.90,241.12L128.40,241.44L127.90,241.74L127.40,242.02L126.90,242.24L126.40,242.43L125.90,242.58L125.40,242.72L124.90,242.85L124.40,242.98L123.90,243.12L123.40,243.28L122.90,243.47L122.40,243.67L121.90,243.89L121.40,244.12L120.90,244.34L120.40,244.55L119.90,244.75L119.40,244.94L118.90,245.14L118.40,245.33L117.90,245.53L117.40,245.75L116.90,245.97L116.40,246.18L115.90,246.40L115.40,246.61L114.90,246.80L114.40,246.92L113.90,247.04L113.40,247.18L112.90,247.34L112.40,247.54L111.90,247.76L111.40,248.01L110.90,248.26L110.40,248.51L109.90,248.75L109.40,249.00L108.90,249.25L108.40,249.52L107.90,249.80L107.40,250.10L106.90,250.41L106.40,250.74L105.90,251.09L105.40,251.45L104.90,251.83L104.40,252.22L103.90,252.64L103.40,253.09L102.90,253.61L102.40,254.40Z" fill="#7a5cb0" fill-opacity="0.25" stroke="none"/>
<path d="M102.40,254.40L102.90,252.22L103.40,250.98L103.90,249.94L104.40,249.01L104.90,248.16L105.40,247.36L105.90,246.60L106.40,245.88L106.90,245.19L107.40,244.52L107.90,243.87L108.40,243.21L108.90,242.55L109.40,241.89L109.90,241.22L110.40,240.56L110.90,239.90L111.40,239.24L111.90,238.56L112.40,237.86L112.90,237.13L113.40,236.38L113.90,235.60L114.40,234.81L114.90,234.01L115.40,233.29L115.90,232.57L116.40,231.84L116.90,231.10L117.40,230.35L117.90,229.66L118.40,229.07L118.90,228.56L119.40,228.11L119.90,227.72L120.40,227.39L120.90,227.13L121.40,226.93L121.90,226.76L122.40,226.57L122.90,226.32L123.40,225.98L123.90,225.57L124.40,225.10L124.90,224.66L125.40,224.33L125.90,224.14L126.40,224.06L126.90,224.04L127.40,224.01L127.90,223.92L128.40,223.75L128.90,223.47L129.40,223.10L129.90,222.65L130.40,222.20L130.90,221.76L131.40,221.35L131.90,220.97L132.40,220.60L132.90,220.23L133.40,219.87L133.90,219.54L134.40,219.23L134.90,218.92L135.40,218.61L135.90,218.27L136.40,217.91L136.90,217.54L137.40,217.16L137.90,216.81L138.40,216.50L138.90,216.25L139.40,216.08L139.90,215.96L140.40,215.89L140.90,215.82L141.40,215.72L141.90,215.58L142.40,215.41L142.90,215.21L143.40,215.01L143.90,214.82L144.40,214.66L144.90,214.52L145.40,214.40L145.90,214.24L146.40,214.03L146.90,213.75L147.40,213.40L147.90,213.06L148.40,212.77L148.90,212.53L149.40,212.31L149.90,212.08L150.40,211.82L150.90,211.50L151.40,211.14L151.90,210.79L152.40,210.46L152.90,210.20L153.40,209.99L153.90,209.82L154.40,209.70L154.90,209.60L155.40,209.53L155.90,209.47L156.40,209.39L156.90,209.28L157.40,209.14L157.90,208.96L158.40,208.75L158.90,208.51L159.40,208.26L159.90,208.02L160.40,207.77L160.90,207.51L161.40,207.27L161.90,207.05L162.40,206.87L162.90,206.73L163.40,206.61L163.90,206.49L164.40,206.35L164.90,206.17L165.40,205.94L165.90,205.66L166.40,205.32L166.90,204.93L167.40,204.53L167.90,204.16L168.40,203.84L168.90,203.58L169.40,203.36L169.90,203.17L170.40,202.98L170.90,202.78L171.40,202.55L171.90,202.28L172.40,201.97L172.90,201.62L173.40,201.22L173.90,200.81L174.40,200.43L174.90,200.14L175.40,199.98L175.90,199.93L176.40,199.93L176.90,199.90L177.40,199.79L177.90,199.57L178.40,199.22L178.90,198.73L179.40,198.12L179.90,197.43L180.40,196.76L180.90,196.22L181.40,195.91L181.90,195.84L182.40,195.94L182.90,196.06L183.40,196.12L183.90,196.08L184.40,195.96L184.90,195.77L185.40,195.49L185.90,195.09L186.40,194.60L186.90,194.10L187.40,193.64L187.90,193.27L188.40,192.98L188.90,192.76L189.40,192.56L189.90,192.36L190.40,192.13L190.90,191.87L191.40,191.64L191.90,191.45L192.40,191.33L192.90,191.23L193.40,191.13L193.90,190.99L194.40,190.79L194.90,190.54L195.40,190.28L195.90,190.02L196.40,189.77L196.90,189.50L197.40,189.17L197.90,188.81L198.40,188.46L198.90,188.16L199.40,187.96L199.90,187.85L200.40,187.80L200.90,187.75L201.40,187.67L201.90,187.55L202.40,187.41L202.90,187.28L203.40,187.17L203.90,187.07L204.40,186.94L204.90,186.77L205.40,186.51L205.90,186.17L206.40,185.78L206.90,185.41L207.40,185.11L207.90,184.90L208.40,184.73L208.90,184.55L209.40,184.34L209.90,184.08L210.40,183.80L210.90,183.56L211.40,183.40L211.90,183.32L212.40,183.27L212.90,183.21L213.40,183.08L213.90,182.88L214.40,182.57L214.90,182.19L215.40,181.78L215.90,181.44L216.40,181.23L216.90,181.15L217.40,181.14L217.90,181.14L218.40,181.14L218.90,181.12L219.40,181.10L219.90,181.07L220.40,181.04L220.90,181.00L221.40,180.94L221.90,180.86L222.40,180.78L222.90,180.70L223.40,180.63L223.90,180.55L224.40,180.45L224.90,180.28L225.40,179.99L225.90,179.60L226.40,179.22L226.90,178.94L227.40,178.82L227.90,178.81L228.40,178.85L228.90,178.90L229.40,178.92L229.90,178.93L230.40,178.92L230.90,178.88L231.40,178.81L231.90,178.68L232.40,178.48L232.90,178.21L233.40,177.87L233.90,177.50L234.40,177.15L234.90,176.83L235.40,176.52L235.90,176.20L236.40,175.86L236.90,175.46L237.40,175.03L237.90,174.60L238.40,174.22L238.90,173.95L239.40,173.80L239.90,173.76L240.40,173.76L240.90,173.76L241.40,173.74L241.90,173.71L242.40,173.69L242.90,173.67L243.40,173.63L243.90,173.56L244.40,173.45L244.90,173.32L245.40,173.21L245.90,173.13L246.40,173.05L246.90,172.97L247.40,172.86L247.90,172.70L248.40,172.48L248.90,172.21L249.40,171.89L249.90,171.56L250.40,171.23L250.90,170.90L251.40,170.57L251.90,170.26L252.40,169.96L252.90,169.66L253.40,169.35L253.90,168.99L254.40,168.57L254.90,168.09L255.40,167.60L255.90,167.13L256.40,166.75L256.90,166.50L257.40,166.35L257.90,166.28L258.40,166.24L258.90,166.20L259.40,166.17L259.90,166.15L260.40,166.12L260.90,166.08L261.40,166.02L261.90,165.95L262.40,165.88L262.90,165.80L263.40,165.72L263.90,165.63L264.40,165.53L264.90,165.42L265.40,165.30L265.90,165.19L266.40,165.07L266.90,164.93L267.40,164.78L267.90,164.62L268.40,164.42L268.90,164.20L269.40,163.96L269.90,163.73L270.40,163.55L270.90,163.43L271.40,163.34L271.90,163.27L272.40,163.20L272.90,163.14L273.40,163.09L273.90,163.05L274.40,162.96L274.90,162.81L275.40,162.57L275.90,162.27L276.40,161.95L276.90,161.65L277.40,161.39L277.90,161.19L278.40,161.06L278.90,160.99L279.40,160.96L279.90,160.95L280.40,160.95L280.90,160.95L281.40,160.94L281.90,160.92L282.40,160.89L282.90,160.84L283.40,160.79L283.90,160.74L284.40,160.68L284.90,160.61L285.40,160.52L285.90,160.39L286.40,160.22L286.90,160.00L287.40,159.72L287.90,159.41L288.40,159.09L288.90,158.82L289.40,158.62L289.90,158.52L290.40,158.48L290.90,158.46L291.40,158.44L291.90,158.44L292.40,158.45L292.90,158.48L293.40,158.51L293.90,158.52L294.40,158.51L294.90,158.44L295.40,158.34L295.90,158.22L296.40,158.12L296.90,158.06L297.40,158.04L297.90,158.05L298.40,158.06L298.90,158.05L299.40,158.02L299.90,157.96L300.40,157.88L300.90,157.80L301.40,157.70L301.90,157.59L302.40,157.47L302.90,157.34L303.40,157.22L303.90,157.11L304.40,157.03L304.90,156.95L305.40,156.87L305.90,156.76L306.40,156.58L306.90,156.30L307.40,155.96L307.90,155.65L308.40,155.47L308.80,155.35L308.80,173.67L308.40,173.79L307.90,173.94L307.40,173.97L306.90,173.90L306.40,173.80L305.90,173.71L305.40,173.63L304.90,173.55L304.40,173.50L303.90,173.47L303.40,173.46L302.90,173.48L302.40,173.51L301.90,173.56L301.40,173.66L300.90,173.79L300.40,173.95L299.90,174.12L299.40,174.30L298.90,174.49L298.40,174.69L297.90,174.90L297.40,175.11L296.90,175.31L296.40,175.45L295.90,175.52L295.40,175.51L294.90,175.43L294.40,175.30L293.90,175.14L293.40,174.97L292.90,174.80L292.40,174.67L291.90,174.60L291.40,174.63L290.90,174.79L290.40,175.09L289.90,175.50L289.40,175.96L288.90,176.38L288.40,176.73L287.90,177.00L287.40,177.20L286.90,177.35L286.40,177.45L285.90,177.51L285.40,177.52L284.90,177.49L284.40,177.43L283.90,177.36L283.40,177.28L282.90,177.20L282.40,177.15L281.90,177.13L281.40,177.16L280.90,177.24L280.40,177.37L279.90,177.56L279.40,177.81L278.90,178.09L278.40,178.40L277.90,178.71L277.40,178.98L276.90,179.20L276.40,179.33L275.90,179.40L275.40,179.39L274.90,179.35L274.40,179.30L273.90,179.25L273.40,179.20L272.90,179.15L272.40,179.12L271.90,179.15L271.40,179.26L270.90,179.45L270.40,179.65L269.90,179.81L269.40,179.92L268.90,179.98L268.40,180.03L267.90,180.08L267.40,180.14L266.90,180.22L266.40,180.32L265.90,180.43L265.40,180.57L264.90,180.71L264.40,180.87L263.90,181.03L263.40,181.21L262.90,181.39L262.40,181.57L261.90,181.74L261.40,181.90L260.90,182.06L260.40,182.23L259.90,182.43L259.40,182.67L258.90,182.96L258.40,183.32L257.90,183.77L257.40,184.28L256.90,184.81L256.40,185.30L255.90,185.70L255.40,186.01L254.90,186.25L254.40,186.47L253.90,186.70L253.40,186.95L252.90,187.21L252.40,187.47L251.90,187.71L251.40,187.91L250.90,188.07L250.40,188.18L249.90,188.23L249.40,188.22L248.90,188.18L248.40,188.13L247.90,188.11L247.40,188.14L246.90,188.22L246.40,188.34L245.90,188.49L245.40,188.62L244.90,188.70L244.40,188.71L243.90,188.66L243.40,188.59L242.90,188.52L242.40,188.47L241.90,188.47L241.40,188.56L240.90,188.80L240.40,189.21L239.90,189.77L239.40,190.40L238.90,191.01L238.40,191.52L237.90,191.91L237.40,192.19L236.90,192.40L236.40,192.59L235.90,192.76L235.40,192.93L234.90,193.08L234.40,193.21L233.90,193.28L233.40,193.31L232.90,193.31L232.40,193.31L231.90,193.34L231.40,193.38L230.90,193.44L230.40,193.50L229.90,193.55L229.40,193.62L228.90,193.72L228.40,193.89L227.90,194.12L227.40,194.41L226.90,194.65L226.40,194.76L225.90,194.73L225.40,194.63L224.90,194.51L224.40,194.43L223.90,194.38L223.40,194.36L222.90,194.38L222.40,194.45L221.90,194.55L221.40,194.68L220.90,194.85L220.40,195.03L219.90,195.24L219.40,195.45L218.90,195.66L218.40,195.87L217.90,196.11L217.40,196.41L216.90,196.75L216.40,197.09L215.90,197.34L215.40,197.47L214.90,197.48L214.40,197.46L213.90,197.45L213.40,197.52L212.90,197.66L212.40,197.92L211.90,198.25L211.40,198.61L210.90,198.91L210.40,199.12L209.90,199.28L209.40,199.43L208.90,199.62L208.40,199.86L207.90,200.14L207.40,200.40L206.90,200.59L206.40,200.68L205.90,200.68L205.40,200.67L204.90,200.67L204.40,200.74L203.90,200.87L203.40,201.07L202.90,201.33L202.40,201.61L201.90,201.90L201.40,202.22L200.90,202.58L200.40,202.97L199.90,203.39L199.40,203.77L198.90,204.07L198.40,204.28L197.90,204.43L197.40,204.57L196.90,204.74L196.40,204.96L195.90,205.19L195.40,205.41L194.90,205.59L194.40,205.74L193.90,205.89L193.40,206.07L192.90,206.28L192.40,206.53L191.90,206.77L191.40,206.97L190.90,207.12L190.40,207.24L189.90,207.38L189.40,207.56L188.90,207.79L188.40,208.04L187.90,208.26L187.40,208.41L186.90,208.45L186.40,208.40L185.90,208.30L185.40,208.21L184.90,208.16L184.40,208.18L183.90,208.29L183.40,208.57L182.90,209.07L182.40,209.80L181.90,210.65L181.40,211.46L180.90,212.10L180.40,212.51L179.90,212.72L179.40,212.81L178.90,212.84L178.40,212.87L177.90,212.93L177.40,213.04L176.90,213.24L176.40,213.55L175.90,213.94L175.40,214.36L174.90,214.72L174.40,214.97L173.90,215.12L173.40,215.20L172.90,215.26L172.40,215.32L171.90,215.41L171.40,215.51L170.90,215.64L170.40,215.79L169.90,215.97L169.40,216.16L168.90,216.36L168.40,216.53L167.90,216.67L167.40,216.76L166.90,216.83L166.40,216.88L165.90,216.96L165.40,217.06L164.90,217.19L164.40,217.34L163.90,217.53L163.40,217.73L162.90,217.94L162.40,218.14L161.90,218.31L161.40,218.46L160.90,218.59L160.40,218.72L159.90,218.86L159.40,219.01L158.90,219.14L158.40,219.23L157.90,219.29L157.40,219.33L156.90,219.38L156.40,219.47L155.90,219.64L155.40,219.90L154.90,220.23L154.40,220.60L153.90,220.98L153.40,221.36L152.90,221.70L152.40,222.00L151.90,222.22L151.40,222.38L150.90,222.52L150.40,222.68L149.90,222.90L149.40,223.21L148.90,223.59L148.40,223.99L147.90,224.36L147.40,224.67L146.90,224.92L146.40,225.14L145.90,225.37L145.40,225.60L144.90,225.84L144.40,226.06L143.90,226.24L143.40,226.36L142.90,226.43L142.40,226.46L141.90,226.49L141.40,226.55L140.90,226.65L140.40,226.84L139.90,227.11L139.40,227.42L138.90,227.76L138.40,228.09L137.90,228.38L137.40,228.63L136.90,228.85L136.40,229.04L135.90,229.22L135.40,229.41L134.90,229.60L134.40,229.82L133.90,230.03L133.40,230.25L132.90,230.45L132.40,230.67L131.90,230.90L131.40,231.16L130.90,231.41L130.40,231.64L129.90,231.80L129.40,231.92L128.90,232.01L128.40,232.11L127.90,232.25L127.40,232.47L126.90,232.79L126.40,233.21L125.90,233.69L125.40,234.14L124.90,234.49L124.40,234.73L123.90,234.89L123.40,235.03L122.90,235.22L122.40,235.50L121.90,235.87L121.40,236.35L120.90,236.91L120.40,237.52L119.90,238.15L119.40,238.82L118.90,239.50L118.40,240.17L117.90,240.79L117.40,241.31L116.90,241.73L116.40,242.11L115.90,242.47L115.40,242.82L114.90,243.17L114.40,243.45L113.90,243.76L113.40,244.09L112.90,244.43L112.40,244.79L111.90,245.16L111.40,245.53L110.90,245.89L110.40,246.24L109.90,246.56L109.40,246.87L108.90,247.17L108.40,247.47L107.90,247.78L107.40,248.12L106.90,248.47L106.40,248.86L105.90,249.27L105.40,249.71L104.90,250.18L104.40,250.71L103.90,251.31L103.40,252.03L102.90,252.95L102.40,254.40Z" fill="#83b363" fill-opacity="0.25" stroke="none"/>
<path d="M102.40,254.40L102.90,252.40L103.40,250.40L103.90,248.40L104.40,246.40L104.90,244.40L105.40,242.40L105.90,240.40L106.40,238.40L106.90,236.40L107.40,234.40L107.90,234.40L108.40,232.40L108.90,230.40L109.40,228.40L109.90,228.40L110.40,226.40L110.90,224.40L111.40,224.40L111.90,222.40L112.40,220.40L112.90,220.40L113.40,218.40L113.90,218.40L114.40,216.40L114.90,216.40L115.40,214.40L115.90,214.40L116.40,212.40L116.90,212.40L117.40,212.40L117.90,212.40L118.40,210.40L118.90,210.40L119.40,210.40L119.90,210.40L120.40,210.40L120.90,210.40L121.40,208.40L121.90,208.40L122.40,208.40L122.90,208.40L123.40,208.40L123.90,208.40L124.40,208.40L124.90,208.40L125.40,208.40L125.90,206.40L126.40,206.40L126.90,206.40L127.40,206.40L127.90,206.40L128.40,206.40L128.90,206.40L129.40,206.40L129.90,206.40L130.40,206.40L130.90,204.40L131.40,204.40L131.90,204.40L132.40,204.40L132.90,204.40L133.40,204.40L133.90,204.40L134.40,202.40L134.90,202.40L135.40,202.40L135.90,202.40L136.40,202.40L136.90,202.40L137.40,200.40L137.90,200.40L138.40,200.40L138.90,200.40L139.40,198.40L139.90,198.40L140.40,196.40L140.90,196.40L141.40,194.40L141.90,194.40L142.40,194.40L142.90,192.40L143.40,192.40L143.90,190.40L144.40,190.40L144.90,188.40L145.40,186.40L145.90,186.40L146.40,184.40L146.90,184.40L147.40,182.40L147.90,180.40L148.40,180.40L148.90,178.40L149.40,178.40L149.90,178.40L150.40,176.40L150.90,176.40L151.40,174.40L151.90,174.40L152.40,174.40L152.90,172.40L153.40,172.40L153.90,172.40L154.40,172.40L154.90,170.40L155.40,170.40L155.90,170.40L156.40,170.40L156.90,168.40L157.40,168.40L157.90,168.40L158.40,168.40L158.90,166.40L159.40,166.40L159.90,166.40L160.40,166.40L160.90,164.40L161.40,164.40L161.90,164.40L162.40,164.40L162.90,164.40L163.40,162.40L163.90,162.40L164.40,162.40L164.90,162.40L165.40,160.40L165.90,160.40L166.40,160.40L166.90,160.40L167.40,160.40L167.90,158.40L168.40,158.40L168.90,158.40L169.40,158.40L169.90,156.40L170.40,156.40L170.90,156.40L171.40,156.40L171.90,156.40L172.40,154.40L172.90,154.40L173.40,154.40L173.90,154.40L174.40,154.40L174.90,152.40L175.40,152.40L175.90,152.40L176.40,152.40L176.90,150.40L177.40,150.40L177.90,150.40L178.40,150.40L178.90,150.40L179.40,148.40L179.90,148.40L180.40,148.40L180.90,148.40L181.40,148.40L181.90,148.40L182.40,148.40L182.90,146.40L183.40,146.40L183.90,146.40L184.40,146.40L184.90,146.40L185.40,146.40L185.90,146.40L186.40,146.40L186.90,144.40L187.40,144.40L187.90,144.40L188.40,144.40L188.90,144.40L189.40,144.40L189.90,144.40L190.40,144.40L190.90,142.40L191.40,142.40L191.90,142.40L192.40,142.40L192.90,142.40L193.40,142.40L193.90,142.40L194.40,142.40L194.90,140.40L195.40,140.40L195.90,140.40L196.40,140.40L196.90,140.40L197.40,140.40L197.90,140.40L198.40,140.40L198.90,138.40L199.40,138.40L199.90,138.40L200.40,138.40L200.90,138.40L201.40,138.40L201.90,138.40L202.40,138.40L202.90,136.40L203.40,136.40L203.90,136.40L204.40,136.40L204.90,136.40L205.40,136.40L205.90,136.40L206.40,134.40L206.90,134.40L207.40,134.40L207.90,134.40L208.40,134.40L208.90,134.40L209.40,134.40L209.90,134.40L210.40,132.40L210.90,132.40L211.40,132.40L211.90,132.40L212.40,132.40L212.90,132.40L213.40,132.40L213.90,132.40L214.40,130.40L214.90,130.40L215.40,130.40L215.90,130.40L216.40,130.40L216.90,130.40L217.40,130.40L217.90,130.40L218.40,128.40L218.90,128.40L219.40,128.40L219.90,128.40L220.40,128.40L220.90,128.40L221.40,128.40L221.90,128.40L222.40,128.40L222.90,128.40L223.40,128.40L223.90,128.40L224.40,126.40L224.90,126.40L225.40,126.40L225.90,126.40L226.40,126.40L226.90,126.40L227.40,126.40L227.90,126.40L228.40,126.40L228.90,126.40L229.40,126.40L229.90,126.40L230.40,126.40L230.90,126.40L231.40,126.40L231.90,126.40L232.40,126.40L232.90,124.40L233.40,124.40L233.90,124.40L234.40,124.40L234.90,124.40L235.40,124.40L235.90,124.40L236.40,124.40L236.90,124.40L237.40,124.40L237.90,124.40L238.40,124.40L238.90,124.40L239.40,124.40L239.90,124.40L240.40,124.40L240.90,124.40L241.40,124.40L241.90,124.40L242.40,124.40L242.90,124.40L243.40,122.40L243.90,122.40L244.40,122.40L244.90,122.40L245.40,122.40L245.90,122.40L246.40,122.40L246.90,122.40L247.40,122.40L247.90,122.40L248.40,122.40L248.90,122.40L249.40,122.40L249.90,122.40L250.40,122.40L250.90,122.40L251.40,122.40L251.90,122.40L252.40,122.40L252.90,122.40L253.40,122.40L253.90,122.40L254.40,122.40L254.90,122.40L255.40,122.40L255.90,122.40L256.40,122.40L256.90,122.40L257.40,122.40L257.90,122.40L258.40,122.40L258.90,122.40L259.40,122.40L259.90,122.40L260.40,122.40L260.90,122.40L261.40,122.40L261.90,122.40L262.40,122.40L262.90,122.40L263.40,122.40L263.90,122.40L264.40,122.40L264.90,122.40L265.40,122.40L265.90,122.40L266.40,122.40L266.90,122.40L267.40,122.40L267.90,122.40L268.40,122.40L268.90,122.40L269.40,122.40L269.90,122.40L270.40,120.40L270.90,120.40L271.40,120.40L271.90,120.40L272.40,120.40L272.90,120.40L273.40,118.40L273.90,118.40L274.40,118.40L274.90,116.40L275.40,116.40L275.90,116.40L276.40,116.40L276.90,114.40L277.40,114.40L277.90,114.40L278.40,114.40L278.90,114.40L279.40,114.40L279.90,114.40L280.40,114.40L280.90,114.40L281.40,112.40L281.90,112.40L282.40,112.40L282.90,112.40L283.40,112.40L283.90,112.40L284.40,112.40L284.90,112.40L285.40,112.40L285.90,112.40L286.40,112.40L286.90,112.40L287.40,112.40L287.90,112.40L288.40,112.40L288.90,112.40L289.40,112.40L289.90,112.40L290.40,112.40L290.90,112.40L291.40,112.40L291.90,112.40L292.40,112.40L292.90,112.40L293.40,112.40L293.90,112.40L294.40,112.40L294.90,112.40L295.40,112.40L295.90,112.40L296.40,112.40L296.90,110.40L297.40,110.40L297.90,110.40L298.40,110.40L298.90,110.40L299.40,110.40L299.90,110.40L300.40,110.40L300.90,110.40L301.40,110.40L301.90,110.40L302.40,108.40L302.90,108.40L303.40,108.40L303.90,108.40L304.40,108.40L304.90,108.40L305.40,106.40L305.90,106.40L306.40,106.40L306.90,106.40L307.40,106.40L307.90,106.40L308.40,106.40L308.80,106.40L308.80,152.40L308.40,152.40L307.90,152.40L307.40,152.40L306.90,152.40L306.40,152.40L305.90,152.40L305.40,152.40L304.90,152.40L304.40,154.40L303.90,154.40L303.40,154.40L302.90,154.40L302.40,154.40L301.90,154.40L301.40,154.40L300.90,154.40L300.40,154.40L299.90,154.40L299.40,156.40L298.90,156.40L298.40,156.40L297.90,156.40L297.40,156.40L296.90,156.40L296.40,156.40L295.90,156.40L295.40,156.40L294.90,156.40L294.40,156.40L293.90,156.40L293.40,156.40L292.90,156.40L292.40,156.40L291.90,156.40L291.40,156.40L290.90,156.40L290.40,156.40L289.90,156.40L289.40,156.40L288.90,156.40L288.40,156.40L287.90,156.40L287.40,158.40L286.90,158.40L286.40,158.40L285.90,158.40L285.40,158.40L284.90,158.40L284.40,158.40L283.90,158.40L283.40,158.40L282.90,158.40L282.40,158.40L281.90,158.40L281.40,158.40L280.90,158.40L280.40,158.40L279.90,158.40L279.40,158.40L278.90,158.40L278.40,158.40L277.90,158.40L277.40,158.40L276.90,160.40L276.40,160.40L275.90,160.40L275.40,160.40L274.90,160.40L274.40,160.40L273.90,160.40L273.40,160.40L272.90,162.40L272.40,162.40L271.90,162.40L271.40,162.40L270.90,162.40L270.40,162.40L269.90,162.40L269.40,162.40L268.90,162.40L268.40,164.40L267.90,164.40L267.40,164.40L266.90,164.40L266.40,164.40L265.90,164.40L265.40,164.40L264.90,164.40L264.40,164.40L263.90,164.40L263.40,164.40L262.90,164.40L262.40,164.40L261.90,164.40L261.40,164.40L260.90,164.40L260.40,164.40L259.90,164.40L259.40,164.40L258.90,164.40L258.40,164.40L257.90,164.40L257.40,164.40L256.90,164.40L256.40,164.40L255.90,164.40L255.40,164.40L254.90,166.40L254.40,166.40L253.90,166.40L253.40,166.40L252.90,166.40L252.40,166.40L251.90,166.40L251.40,166.40L250.90,166.40L250.40,166.40L249.90,166.40L249.40,166.40L248.90,166.40L248.40,166.40L247.90,166.40L247.40,166.40L246.90,166.40L246.40,166.40L245.90,166.40L245.40,166.40L244.90,166.40L244.40,166.40L243.90,166.40L243.40,166.40L242.90,166.40L242.40,166.40L241.90,166.40L241.40,166.40L240.90,168.40L240.40,168.40L239.90,168.40L239.40,168.40L238.90,168.40L238.40,168.40L237.90,168.40L237.40,168.40L236.90,168.40L236.40,168.40L235.90,168.40L235.40,168.40L234.90,168.40L234.40,168.40L233.90,168.40L233.40,168.40L232.90,168.40L232.40,168.40L231.90,168.40L231.40,168.40L230.90,168.40L230.40,168.40L229.90,168.40L229.40,168.40L228.90,168.40L228.40,168.40L227.90,168.40L227.40,168.40L226.90,168.40L226.40,170.40L225.90,170.40L225.40,170.40L224.90,170.40L224.40,170.40L223.90,170.40L223.40,170.40L222.90,170.40L222.40,170.40L221.90,170.40L221.40,170.40L220.90,170.40L220.40,172.40L219.90,172.40L219.40,172.40L218.90,172.40L218.40,172.40L217.90,172.40L217.40,172.40L216.90,172.40L216.40,172.40L215.90,172.40L215.40,172.40L214.90,174.40L214.40,174.40L213.90,174.40L213.40,174.40L212.90,174.40L212.40,174.40L211.90,174.40L211.40,174.40L210.90,174.40L210.40,174.40L209.90,174.40L209.40,176.40L208.90,176.40L208.40,176.40L207.90,176.40L207.40,176.40L206.90,176.40L206.40,176.40L205.90,176.40L205.40,176.40L204.90,176.40L204.40,178.40L203.90,178.40L203.40,178.40L202.90,178.40L202.40,178.40L201.90,178.40L201.40,178.40L200.90,178.40L200.40,178.40L199.90,178.40L199.40,180.40L198.90,180.40L198.40,180.40L197.90,180.40L197.40,180.40L196.90,180.40L196.40,180.40L195.90,180.40L195.40,180.40L194.90,180.40L194.40,182.40L193.90,182.40L193.40,182.40L192.90,182.40L192.40,182.40L191.90,182.40L191.40,182.40L190.90,182.40L190.40,182.40L189.90,184.40L189.40,184.40L188.90,184.40L188.40,184.40L187.90,184.40L187.40,184.40L186.90,186.40L186.40,186.40L185.90,186.40L185.40,186.40L184.90,186.40L184.40,186.40L183.90,186.40L183.40,188.40L182.90,188.40L182.40,188.40L181.90,188.40L181.40,188.40L180.90,188.40L180.40,188.40L179.90,190.40L179.40,190.40L178.90,190.40L178.40,190.40L177.90,190.40L177.40,190.40L176.90,190.40L176.40,192.40L175.90,192.40L175.40,192.40L174.90,192.40L174.40,192.40L173.90,192.40L173.40,194.40L172.90,194.40L172.40,194.40L171.90,194.40L171.40,194.40L170.90,194.40L170.40,194.40L169.90,196.40L169.40,196.40L168.90,196.40L168.40,196.40L167.90,196.40L167.40,198.40L166.90,198.40L166.40,198.40L165.90,198.40L165.40,198.40L164.90,200.40L164.40,200.40L163.90,200.40L163.40,200.40L162.90,200.40L162.40,202.40L161.90,202.40L161.40,202.40L160.90,202.40L160.40,202.40L159.90,204.40L159.40,204.40L158.90,204.40L158.40,204.40L157.90,204.40L157.40,206.40L156.90,206.40L156.40,206.40L155.90,206.40L155.40,206.40L154.90,208.40L154.40,208.40L153.90,208.40L153.40,208.40L152.90,208.40L152.40,210.40L151.90,210.40L151.40,210.40L150.90,210.40L150.40,210.40L149.90,212.40L149.40,212.40L148.90,212.40L148.40,212.40L147.90,212.40L147.40,214.40L146.90,214.40L146.40,214.40L145.90,214.40L145.40,214.40L144.90,214.40L144.40,216.40L143.90,216.40L143.40,216.40L142.90,216.40L142.40,216.40L141.90,218.40L141.40,218.40L140.90,218.40L140.40,218.40L139.90,218.40L139.40,220.40L138.90,220.40L138.40,220.40L137.90,220.40L137.40,220.40L136.90,222.40L136.40,222.40L135.90,222.40L135.40,222.40L134.90,222.40L134.40,222.40L133.90,224.40L133.40,224.40L132.90,224.40L132.40,224.40L131.90,224.40L131.40,226.40L130.90,226.40L130.40,226.40L129.90,226.40L129.40,226.40L128.90,226.40L128.40,228.40L127.90,228.40L127.40,228.40L126.90,228.40L126.40,228.40L125.90,228.40L125.40,228.40L124.90,228.40L124.40,230.40L123.90,230.40L123.40,230.40L122.90,230.40L122.40,230.40L121.90,230.40L121.40,230.40L120.90,232.40L120.40,232.40L119.90,232.40L119.40,232.40L118.90,232.40L118.40,232.40L117.90,232.40L117.40,234.40L116.90,234.40L116.40,234.40L115.90,234.40L115.40,234.40L114.90,234.40L114.40,234.40L113.90,236.40L113.40,236.40L112.90,236.40L112.40,236.40L111.90,238.40L111.40,238.40L110.90,240.40L110.40,240.40L109.90,242.40L109.40,242.40L108.90,244.40L108.40,244.40L107.90,244.40L107.40,246.40L106.90,246.40L106.40,248.40L105.90,248.40L105.40,250.40L104.90,250.40L104.40,252.40L103.90,252.40L103.40,254.40L102.90,254.40L102.40,254.40Z" fill="#c33717" fill-opacity="0.25" stroke="none"/>
<path d="M102.40,254.40L102.90,249.40L103.40,246.41L103.90,243.90L104.40,241.66L104.90,239.63L105.40,237.74L105.90,235.97L106.40,234.30L106.90,232.72L107.40,231.20L107.90,229.75L108.40,228.35L108.90,227.00L109.40,225.70L109.90,224.43L110.40,223.21L110.90,222.02L111.40,220.87L111.90,219.74L112.40,218.64L112.90,217.57L113.40,216.52L113.90,215.50L114.40,214.50L114.90,213.52L115.40,212.56L115.90,211.61L116.40,210.69L116.90,209.78L117.40,208.89L117.90,208.02L118.40,207.16L118.90,206.31L119.40,205.48L119.90,204.66L120.40,203.87L120.90,203.10L121.40,202.34L121.90,201.58L122.40,200.84L122.90,200.11L123.40,199.39L123.90,198.68L124.40,197.98L124.90,197.29L125.40,196.60L125.90,195.93L126.40,195.26L126.90,194.60L127.40,193.95L127.90,193.31L128.40,192.67L128.90,192.04L129.40,191.42L129.90,190.81L130.40,190.20L130.90,189.60L131.40,189.00L131.90,188.41L132.40,187.83L132.90,187.25L133.40,186.68L133.90,186.12L134.40,185.56L134.90,185.00L135.40,184.46L135.90,183.91L136.40,183.37L136.90,182.84L137.40,182.31L137.90,181.79L138.40,181.27L138.90,180.75L139.40,180.24L139.90,179.73L140.40,179.23L140.90,178.73L141.40,178.24L141.90,177.75L142.40,177.26L142.90,176.78L143.40,176.30L143.90,175.83L144.40,175.36L144.90,174.89L145.40,174.43L145.90,173.97L146.40,173.51L146.90,173.06L147.40,172.61L147.90,172.16L148.40,171.72L148.90,171.28L149.40,170.84L149.90,170.40L150.40,169.97L150.90,169.54L151.40,169.12L151.90,168.70L152.40,168.28L152.90,167.86L153.40,167.44L153.90,167.03L154.40,166.62L154.90,166.21L155.40,165.81L155.90,165.41L156.40,165.01L156.90,164.61L157.40,164.22L157.90,163.82L158.40,163.43L158.90,163.04L159.40,162.66L159.90,162.27L160.40,161.89L160.90,161.51L161.40,161.13L161.90,160.75L162.40,160.37L162.90,160.00L163.40,159.63L163.90,159.26L164.40,158.89L164.90,158.52L165.40,158.16L165.90,157.79L166.40,157.43L166.90,157.07L167.40,156.72L167.90,156.36L168.40,156.01L168.90,155.66L169.40,155.30L169.90,154.96L170.40,154.61L170.90,154.26L171.40,153.92L171.90,153.58L172.40,153.24L172.90,152.90L173.40,152.56L173.90,152.22L174.40,151.89L174.90,151.55L175.40,151.22L175.90,150.89L176.40,150.56L176.90,150.24L177.40,149.91L177.90,149.58L178.40,149.26L178.90,148.94L179.40,148.62L179.90,148.30L180.40,147.98L180.90,147.66L181.40,147.34L181.90,147.03L182.40,146.72L182.90,146.40L183.40,146.09L183.90,145.78L184.40,145.47L184.90,145.17L185.40,144.86L185.90,144.55L186.40,144.25L186.90,143.95L187.40,143.64L187.90,143.34L188.40,143.04L188.90,142.74L189.40,142.44L189.90,142.15L190.40,141.85L190.90,141.56L191.40,141.26L191.90,140.97L192.40,140.68L192.90,140.39L193.40,140.09L193.90,139.81L194.40,139.52L194.90,139.23L195.40,138.94L195.90,138.66L196.40,138.37L196.90,138.09L197.40,137.80L197.90,137.52L198.40,137.24L198.90,136.96L199.40,136.68L199.90,136.40L200.40,136.12L200.90,135.84L201.40,135.55L201.90,135.27L202.40,134.99L202.90,134.71L203.40,134.43L203.90,134.15L204.40,133.88L204.90,133.60L205.40,133.32L205.90,133.05L206.40,132.77L206.90,132.50L207.40,132.22L207.90,131.95L208.40,131.68L208.90,131.41L209.40,131.14L209.90,130.87L210.40,130.60L210.90,130.33L211.40,130.06L211.90,129.79L212.40,129.53L212.90,129.26L213.40,129.00L213.90,128.73L214.40,128.47L214.90,128.20L215.40,127.94L215.90,127.68L216.40,127.42L216.90,127.15L217.40,126.89L217.90,126.63L218.40,126.37L218.90,126.12L219.40,125.86L219.90,125.60L220.40,125.34L220.90,125.08L221.40,124.83L221.90,124.57L222.40,124.32L222.90,124.06L223.40,123.81L223.90,123.55L224.40,123.30L224.90,123.05L225.40,122.80L225.90,122.54L226.40,122.29L226.90,122.04L227.40,121.79L227.90,121.54L228.40,121.29L228.90,121.04L229.40,120.80L229.90,120.55L230.40,120.30L230.90,120.05L231.40,119.81L231.90,119.56L232.40,119.31L232.90,119.07L233.40,118.82L233.90,118.58L234.40,118.34L234.90,118.09L235.40,117.85L235.90,117.61L236.40,117.36L236.90,117.12L237.40,116.88L237.90,116.64L238.40,116.40L238.90,116.16L239.40,115.92L239.90,115.68L240.40,115.44L240.90,115.20L241.40,114.96L241.90,114.72L242.40,114.49L242.90,114.25L243.40,114.01L243.90,113.77L244.40,113.54L244.90,113.30L245.40,113.07L245.90,112.83L246.40,112.60L246.90,112.36L247.40,112.13L247.90,111.89L248.40,111.66L248.90,111.42L249.40,111.19L249.90,110.96L250.40,110.74L250.90,110.53L251.40,110.31L251.90,110.10L252.40,109.88L252.90,109.67L253.40,109.45L253.90,109.24L254.40,109.03L254.90,108.82L255.40,108.60L255.90,108.39L256.40,108.18L256.90,107.97L257.40,107.76L257.90,107.55L258.40,107.34L258.90,107.12L259.40,106.91L259.90,106.70L260.40,106.50L260.90,106.29L261.40,106.08L261.90,105.87L262.40,105.66L262.90,105.45L263.40,105.24L263.90,105.03L264.40,104.83L264.90,104.62L265.40,104.41L265.90,104.21L266.40,104.00L266.90,103.79L267.40,103.59L267.90,103.38L268.40,103.18L268.90,102.97L269.40,102.76L269.90,102.56L270.40,102.35L270.90,102.15L271.40,101.95L271.90,101.74L272.40,101.54L272.90,101.33L273.40,101.13L273.90,100.93L274.40,100.72L274.90,100.52L275.40,100.32L275.90,100.12L276.40,99.91L276.90,99.71L277.40,99.51L277.90,99.31L278.40,99.11L278.90,98.91L279.40,98.71L279.90,98.50L280.40,98.30L280.90,98.10L281.40,97.90L281.90,97.70L282.40,97.50L282.90,97.30L283.40,97.10L283.90,96.90L284.40,96.71L284.90,96.51L285.40,96.31L285.90,96.11L286.40,95.91L286.90,95.71L287.40,95.51L287.90,95.32L288.40,95.12L288.90,94.92L289.40,94.72L289.90,94.53L290.40,94.33L290.90,94.13L291.40,93.94L291.90,93.74L292.40,93.54L292.90,93.35L293.40,93.15L293.90,92.95L294.40,92.76L294.90,92.56L295.40,92.37L295.90,92.17L296.40,91.98L296.90,91.78L297.40,91.59L297.90,91.39L298.40,91.20L298.90,91.00L299.40,90.81L299.90,90.62L300.40,90.42L300.90,90.23L301.40,90.03L301.90,89.84L302.40,89.65L302.90,89.45L303.40,89.26L303.90,89.07L304.40,88.87L304.90,88.68L305.40,88.49L305.90,88.30L306.40,88.10L306.90,87.91L307.40,87.72L307.90,87.53L308.40,87.34L308.80,87.18L308.80,98.93L308.40,99.08L307.90,99.26L307.40,99.45L306.90,99.63L306.40,99.81L305.90,100.00L305.40,100.18L304.90,100.37L304.40,100.55L303.90,100.74L303.40,100.92L302.90,101.11L302.40,101.29L301.90,101.48L301.40,101.66L300.90,101.85L300.40,102.04L299.90,102.22L299.40,102.41L298.90,102.59L298.40,102.78L297.90,102.97L297.40,103.15L296.90,103.34L296.40,103.53L295.90,103.72L295.40,103.90L294.90,104.09L294.40,104.28L293.90,104.47L293.40,104.65L292.90,104.84L292.40,105.03L291.90,105.22L291.40,105.41L290.90,105.60L290.40,105.79L289.90,105.98L289.40,106.16L288.90,106.35L288.40,106.54L287.90,106.73L287.40,106.92L286.90,107.11L286.40,107.30L285.90,107.50L285.40,107.69L284.90,107.88L284.40,108.07L283.90,108.26L283.40,108.45L282.90,108.64L282.40,108.84L281.90,109.03L281.40,109.22L280.90,109.41L280.40,109.61L279.90,109.80L279.40,109.99L278.90,110.19L278.40,110.38L277.90,110.57L277.40,110.77L276.90,110.96L276.40,111.16L275.90,111.35L275.40,111.54L274.90,111.74L274.40,111.94L273.90,112.13L273.40,112.33L272.90,112.52L272.40,112.72L271.90,112.92L271.40,113.11L270.90,113.31L270.40,113.51L269.90,113.70L269.40,113.90L268.90,114.10L268.40,114.30L267.90,114.50L267.40,114.69L266.90,114.89L266.40,115.09L265.90,115.29L265.40,115.49L264.90,115.69L264.40,115.89L263.90,116.09L263.40,116.29L262.90,116.49L262.40,116.69L261.90,116.90L261.40,117.10L260.90,117.30L260.40,117.50L259.90,117.70L259.40,117.91L258.90,118.11L258.40,118.31L257.90,118.52L257.40,118.72L256.90,118.93L256.40,119.13L255.90,119.33L255.40,119.54L254.90,119.75L254.40,119.95L253.90,120.16L253.40,120.36L252.90,120.57L252.40,120.78L251.90,120.98L251.40,121.19L250.90,121.40L250.40,121.61L249.90,121.81L249.40,122.00L248.90,122.20L248.40,122.39L247.90,122.58L247.40,122.78L246.90,122.97L246.40,123.16L245.90,123.36L245.40,123.55L244.90,123.75L244.40,123.94L243.90,124.14L243.40,124.33L242.90,124.53L242.40,124.73L241.90,124.92L241.40,125.12L240.90,125.32L240.40,125.52L239.90,125.71L239.40,125.91L238.90,126.11L238.40,126.31L237.90,126.51L237.40,126.71L236.90,126.91L236.40,127.11L235.90,127.31L235.40,127.52L234.90,127.72L234.40,127.92L233.90,128.13L233.40,128.33L232.90,128.53L232.40,128.74L231.90,128.94L231.40,129.15L230.90,129.35L230.40,129.56L229.90,129.77L229.40,129.97L228.90,130.18L228.40,130.39L227.90,130.60L227.40,130.81L226.90,131.02L226.40,131.23L225.90,131.44L225.40,131.65L224.90,131.86L224.40,132.07L223.90,132.28L223.40,132.50L222.90,132.71L222.40,132.92L221.90,133.14L221.40,133.35L220.90,133.57L220.40,133.79L219.90,134.00L219.40,134.22L218.90,134.44L218.40,134.66L217.90,134.87L217.40,135.09L216.90,135.31L216.40,135.53L215.90,135.76L215.40,135.98L214.90,136.20L214.40,136.42L213.90,136.65L213.40,136.87L212.90,137.10L212.40,137.32L211.90,137.55L211.40,137.77L210.90,138.00L210.40,138.23L209.90,138.46L209.40,138.69L208.90,138.92L208.40,139.15L207.90,139.38L207.40,139.61L206.90,139.84L206.40,140.08L205.90,140.31L205.40,140.55L204.90,140.78L204.40,141.02L203.90,141.25L203.40,141.49L202.90,141.73L202.40,141.97L201.90,142.21L201.40,142.45L200.90,142.69L200.40,142.93L199.90,143.18L199.40,143.43L198.90,143.68L198.40,143.93L197.90,144.18L197.40,144.44L196.90,144.69L196.40,144.94L195.90,145.20L195.40,145.46L194.90,145.71L194.40,145.97L193.90,146.23L193.40,146.49L192.90,146.75L192.40,147.02L191.90,147.28L191.40,147.54L190.90,147.81L190.40,148.07L189.90,148.34L189.40,148.61L188.90,148.88L188.40,149.15L187.90,149.42L187.40,149.69L186.90,149.96L186.40,150.24L185.90,150.51L185.40,150.79L184.90,151.07L184.40,151.35L183.90,151.63L183.40,151.91L182.90,152.19L182.40,152.47L181.90,152.76L181.40,153.05L180.90,153.33L180.40,153.62L179.90,153.91L179.40,154.20L178.90,154.49L178.40,154.79L177.90,155.08L177.40,155.38L176.90,155.68L176.40,155.98L175.90,156.28L175.40,156.58L174.90,156.88L174.40,157.19L173.90,157.49L173.40,157.80L172.90,158.11L172.40,158.42L171.90,158.73L171.40,159.05L170.90,159.36L170.40,159.68L169.90,160.00L169.40,160.32L168.90,160.64L168.40,160.97L167.90,161.29L167.40,161.62L166.90,161.95L166.40,162.28L165.90,162.61L165.40,162.94L164.90,163.28L164.40,163.62L163.90,163.96L163.40,164.30L162.90,164.65L162.40,164.99L161.90,165.34L161.40,165.69L160.90,166.04L160.40,166.40L159.90,166.75L159.40,167.12L158.90,167.48L158.40,167.85L157.90,168.22L157.40,168.59L156.90,168.96L156.40,169.34L155.90,169.71L155.40,170.09L154.90,170.48L154.40,170.86L153.90,171.25L153.40,171.64L152.90,172.04L152.40,172.43L151.90,172.83L151.40,173.23L150.90,173.64L150.40,174.05L149.90,174.46L149.40,174.87L148.90,175.29L148.40,175.71L147.90,176.13L147.40,176.56L146.90,176.99L146.40,177.42L145.90,177.86L145.40,178.30L144.90,178.74L144.40,179.19L143.90,179.64L143.40,180.09L142.90,180.55L142.40,181.01L141.90,181.48L141.40,181.95L140.90,182.42L140.40,182.90L139.90,183.38L139.40,183.87L138.90,184.36L138.40,184.86L137.90,185.36L137.40,185.86L136.90,186.37L136.40,186.89L135.90,187.41L135.40,187.93L134.90,188.46L134.40,189.00L133.90,189.54L133.40,190.09L132.90,190.64L132.40,191.20L131.90,191.76L131.40,192.34L130.90,192.91L130.40,193.50L129.90,194.09L129.40,194.68L128.90,195.29L128.40,195.90L127.90,196.52L127.40,197.15L126.90,197.78L126.40,198.42L125.90,199.07L125.40,199.73L124.90,200.40L124.40,201.08L123.90,201.76L123.40,202.46L122.90,203.17L122.40,203.88L121.90,204.61L121.40,205.35L120.90,206.10L120.40,206.86L119.90,207.63L119.40,208.40L118.90,209.18L118.40,209.97L117.90,210.77L117.40,211.60L116.90,212.43L116.40,213.28L115.90,214.15L115.40,215.04L114.90,215.94L114.40,216.86L113.90,217.80L113.40,218.77L112.90,219.75L112.40,220.76L111.90,221.79L111.40,222.85L110.90,223.94L110.40,225.06L109.90,226.22L109.40,227.40L108.90,228.63L108.40,229.90L107.90,231.22L107.40,232.59L106.90,234.02L106.40,235.51L105.90,237.08L105.40,238.75L104.90,240.52L104.40,242.44L103.90,244.54L103.40,246.91L102.90,249.76L102.40,254.40Z" fill="#4fa3c7" fill-opacity="0.25" stroke="none"/>
<path d="M449.20,254.40L449.70,252.82L450.20,251.23L450.70,249.79L451.20,248.45L451.70,247.17L452.20,245.95L452.70,244.76L453.20,243.59L453.70,242.42L454.20,241.24L454.70,240.06L455.20,238.86L455.70,237.64L456.20,236.42L456.70,235.19L457.20,233.97L457.70,232.74L458.20,231.52L458.70,230.31L459.20,229.11L459.70,227.92L460.20,226.75L460.70,225.59L461.20,224.46L461.70,223.36L462.20,222.29L462.70,221.27L463.20,220.30L463.70,219.37L464.20,218.47L464.70,217.61L465.20,216.76L465.70,215.91L466.20,215.07L466.70,214.22L467.20,213.36L467.70,212.49L468.20,211.60L468.70,210.72L469.20,209.84L469.70,208.97L470.20,208.12L470.70,207.28L471.20,206.45L471.70,205.62L472.20,204.81L472.70,204.00L473.20,203.22L473.70,202.48L474.20,201.76L474.70,201.08L475.20,200.41L475.70,199.75L476.20,199.09L476.70,198.42L477.20,197.75L477.70,197.08L478.20,196.42L478.70,195.76L479.20,195.11L479.70,194.47L480.20,193.83L480.70,193.20L481.20,192.59L481.70,191.99L482.20,191.41L482.70,190.84L483.20,190.28L483.70,189.72L484.20,189.15L484.70,188.58L485.20,188.00L485.70,187.43L486.20,186.87L486.70,186.33L487.20,185.82L487.70,185.34L488.20,184.88L488.70,184.42L489.20,183.97L489.70,183.50L490.20,183.02L490.70,182.54L491.20,182.06L491.70,181.56L492.20,181.06L492.70,180.54L493.20,180.02L493.70,179.48L494.20,178.96L494.70,178.46L495.20,177.99L495.70,177.55L496.20,177.16L496.70,176.78L497.20,176.40L497.70,176.00L498.20,175.57L498.70,175.12L499.20,174.65L499.70,174.18L500.20,173.71L500.70,173.24L501.20,172.78L501.70,172.33L502.20,171.89L502.70,171.45L503.20,171.02L503.70,170.60L504.20,170.19L504.70,169.80L505.20,169.42L505.70,169.06L506.20,168.71L506.70,168.35L507.20,167.98L507.70,167.61L508.20,167.24L508.70,166.87L509.20,166.50L509.70,166.15L510.20,165.80L510.70,165.46L511.20,165.12L511.70,164.78L512.20,164.43L512.70,164.06L513.20,163.69L513.70,163.31L514.20,162.93L514.70,162.55L515.20,162.18L515.70,161.81L516.20,161.46L516.70,161.12L517.20,160.79L517.70,160.46L518.20,160.14L518.70,159.82L519.20,159.50L519.70,159.19L520.20,158.87L520.70,158.54L521.20,158.23L521.70,157.92L522.20,157.61L522.70,157.30L523.20,156.98L523.70,156.64L524.20,156.29L524.70,155.93L525.20,155.59L525.70,155.26L526.20,154.95L526.70,154.63L527.20,154.31L527.70,153.96L528.20,153.60L528.70,153.22L529.20,152.84L529.70,152.46L530.20,152.10L530.70,151.75L531.20,151.41L531.70,151.08L532.20,150.74L532.70,150.41L533.20,150.07L533.70,149.75L534.20,149.42L534.70,149.09L535.20,148.75L535.70,148.40L536.20,148.06L536.70,147.71L537.20,147.37L537.70,147.03L538.20,146.70L538.70,146.36L539.20,146.01L539.70,145.65L540.20,145.28L540.70,144.91L541.20,144.54L541.70,144.20L542.20,143.88L542.70,143.60L543.20,143.35L543.70,143.10L544.20,142.83L544.70,142.52L545.20,142.17L545.70,141.78L546.20,141.37L546.70,140.95L547.20,140.55L547.70,140.18L548.20,139.84L548.70,139.52L549.20,139.23L549.70,138.97L550.20,138.73L550.70,138.51L551.20,138.31L551.70,138.12L552.20,137.91L552.70,137.68L553.20,137.44L553.70,137.17L554.20,136.89L554.70,136.59L555.20,136.28L555.70,135.95L556.20,135.62L556.70,135.31L557.20,135.01L557.70,134.74L558.20,134.48L558.70,134.23L559.20,133.98L559.70,133.72L560.20,133.46L560.70,133.20L561.20,132.94L561.70,132.70L562.20,132.47L562.70,132.23L563.20,131.99L563.70,131.74L564.20,131.46L564.70,131.16L565.20,130.86L565.70,130.57L566.20,130.29L566.70,130.02L567.20,129.77L567.70,129.53L568.20,129.29L568.70,129.04L569.20,128.78L569.70,128.50L570.20,128.22L570.70,127.92L571.20,127.60L571.70,127.26L572.20,126.92L572.70,126.59L573.20,126.27L573.70,125.98L574.20,125.71L574.70,125.46L575.20,125.23L575.70,125.00L576.20,124.76L576.70,124.51L577.20,124.23L577.70,123.94L578.20,123.61L578.70,123.28L579.20,122.95L579.70,122.63L580.20,122.34L580.70,122.07L581.20,121.81L581.70,121.55L582.20,121.27L582.70,120.97L583.20,120.64L583.70,120.30L584.20,119.97L584.70,119.66L585.20,119.36L585.70,119.09L586.20,118.83L586.70,118.58L587.20,118.35L587.70,118.11L588.20,117.88L588.70,117.66L589.20,117.43L589.70,117.21L590.20,116.99L590.70,116.78L591.20,116.57L591.70,116.35L592.20,116.12L592.70,115.87L593.20,115.60L593.70,115.30L594.20,114.99L594.70,114.68L595.20,114.36L595.70,114.05L596.20,113.76L596.70,113.47L597.20,113.19L597.70,112.92L598.20,112.66L598.70,112.41L599.20,112.17L599.70,111.93L600.20,111.70L600.70,111.46L601.20,111.21L601.70,110.94L602.20,110.66L602.70,110.37L603.20,110.08L603.70,109.81L604.20,109.56L604.70,109.33L605.20,109.13L605.70,108.94L606.20,108.76L606.70,108.56L607.20,108.36L607.70,108.13L608.20,107.89L608.70,107.64L609.20,107.38L609.70,107.12L610.20,106.84L610.70,106.55L611.20,106.26L611.70,105.97L612.20,105.69L612.70,105.45L613.20,105.23L613.70,105.04L614.20,104.86L614.70,104.67L615.20,104.49L615.70,104.30L616.20,104.11L616.70,103.92L617.20,103.71L617.70,103.48L618.20,103.22L618.70,102.93L619.20,102.64L619.70,102.36L620.20,102.10L620.70,101.86L621.20,101.63L621.70,101.41L622.20,101.19L622.70,100.98L623.20,100.78L623.70,100.59L624.20,100.42L624.70,100.25L625.20,100.07L625.70,99.88L626.20,99.68L626.70,99.46L627.20,99.24L627.70,99.04L628.20,98.85L628.70,98.68L629.20,98.51L629.70,98.33L630.20,98.14L630.70,97.94L631.20,97.73L631.70,97.53L632.20,97.33L632.70,97.14L633.20,96.95L633.70,96.77L634.20,96.59L634.70,96.42L635.20,96.26L635.70,96.09L636.20,95.91L636.70,95.71L637.20,95.48L637.70,95.23L638.20,94.95L638.70,94.66L639.20,94.37L639.70,94.10L640.20,93.85L640.70,93.62L641.20,93.42L641.70,93.24L642.20,93.08L642.70,92.93L643.20,92.80L643.70,92.66L644.20,92.51L644.70,92.34L645.20,92.15L645.70,91.92L646.20,91.68L646.70,91.43L647.20,91.19L647.70,90.94L648.20,90.70L648.70,90.47L649.20,90.24L649.70,90.00L650.20,89.77L650.70,89.52L651.20,89.28L651.70,89.05L652.20,88.82L652.70,88.59L653.20,88.38L653.70,88.16L654.20,87.95L654.70,87.74L655.20,87.53L655.60,87.36" fill="none" stroke="#7a5cb0" stroke-width="2.0" stroke-linejoin="round"/>
<path d="M449.20,254.40L449.70,250.42L450.20,247.69L450.70,245.36L451.20,243.26L451.70,241.34L452.20,239.54L452.70,237.85L453.20,236.24L453.70,234.71L454.20,233.24L454.70,231.82L455.20,230.46L455.70,229.13L456.20,227.83L456.70,226.55L457.20,225.29L457.70,224.03L458.20,222.78L458.70,221.51L459.20,220.24L459.70,218.96L460.20,217.69L460.70,216.45L461.20,215.23L461.70,214.04L462.20,212.85L462.70,211.66L463.20,210.46L463.70,209.29L464.20,208.15L464.70,207.09L465.20,206.09L465.70,205.14L466.20,204.22L466.70,203.31L467.20,202.39L467.70,201.45L468.20,200.50L468.70,199.55L469.20,198.63L469.70,197.75L470.20,196.94L470.70,196.18L471.20,195.45L471.70,194.74L472.20,194.02L472.70,193.29L473.20,192.54L473.70,191.80L474.20,191.08L474.70,190.39L475.20,189.72L475.70,189.07L476.20,188.43L476.70,187.77L477.20,187.10L477.70,186.42L478.20,185.73L478.70,185.04L479.20,184.36L479.70,183.70L480.20,183.06L480.70,182.45L481.20,181.86L481.70,181.29L482.20,180.73L482.70,180.16L483.20,179.57L483.70,178.95L484.20,178.33L484.70,177.71L485.20,177.10L485.70,176.49L486.20,175.89L486.70,175.28L487.20,174.67L487.70,174.07L488.20,173.48L488.70,172.90L489.20,172.33L489.70,171.76L490.20,171.19L490.70,170.63L491.20,170.08L491.70,169.55L492.20,169.04L492.70,168.52L493.20,168.01L493.70,167.49L494.20,166.96L494.70,166.44L495.20,165.92L495.70,165.43L496.20,164.97L496.70,164.54L497.20,164.14L497.70,163.79L498.20,163.45L498.70,163.12L499.20,162.79L499.70,162.45L500.20,162.09L500.70,161.74L501.20,161.38L501.70,161.02L502.20,160.64L502.70,160.24L503.20,159.83L503.70,159.43L504.20,159.05L504.70,158.71L505.20,158.41L505.70,158.11L506.20,157.79L506.70,157.42L507.20,156.99L507.70,156.53L508.20,156.03L508.70,155.51L509.20,154.98L509.70,154.45L510.20,153.91L510.70,153.37L511.20,152.87L511.70,152.42L512.20,152.03L512.70,151.69L513.20,151.40L513.70,151.11L514.20,150.81L514.70,150.47L515.20,150.08L515.70,149.65L516.20,149.17L516.70,148.66L517.20,148.14L517.70,147.63L518.20,147.15L518.70,146.71L519.20,146.33L519.70,145.98L520.20,145.66L520.70,145.35L521.20,145.03L521.70,144.69L522.20,144.31L522.70,143.90L523.20,143.48L523.70,143.07L524.20,142.67L524.70,142.30L525.20,141.96L525.70,141.65L526.20,141.35L526.70,141.05L527.20,140.75L527.70,140.43L528.20,140.09L528.70,139.73L529.20,139.37L529.70,139.01L530.20,138.67L530.70,138.34L531.20,138.04L531.70,137.73L532.20,137.43L532.70,137.11L533.20,136.79L533.70,136.46L534.20,136.14L534.70,135.81L535.20,135.50L535.70,135.19L536.20,134.89L536.70,134.57L537.20,134.24L537.70,133.89L538.20,133.54L538.70,133.21L539.20,132.90L539.70,132.60L540.20,132.30L540.70,131.99L541.20,131.66L541.70,131.31L542.20,130.96L542.70,130.60L543.20,130.27L543.70,129.96L544.20,129.68L544.70,129.43L545.20,129.20L545.70,128.97L546.20,128.73L546.70,128.47L547.20,128.18L547.70,127.85L548.20,127.51L548.70,127.14L549.20,126.78L549.70,126.41L550.20,126.05L550.70,125.70L551.20,125.36L551.70,125.05L552.20,124.76L552.70,124.50L553.20,124.24L553.70,123.99L554.20,123.72L554.70,123.44L555.20,123.17L555.70,122.89L556.20,122.63L556.70,122.36L557.20,122.09L557.70,121.80L558.20,121.52L558.70,121.23L559.20,120.94L559.70,120.66L560.20,120.39L560.70,120.11L561.20,119.83L561.70,119.54L562.20,119.23L562.70,118.89L563.20,118.54L563.70,118.17L564.20,117.79L564.70,117.42L565.20,117.06L565.70,116.74L566.20,116.45L566.70,116.19L567.20,115.97L567.70,115.78L568.20,115.60L568.70,115.43L569.20,115.25L569.70,115.04L570.20,114.82L570.70,114.57L571.20,114.30L571.70,114.01L572.20,113.71L572.70,113.42L573.20,113.16L573.70,112.93L574.20,112.73L574.70,112.53L575.20,112.34L575.70,112.12L576.20,111.89L576.70,111.64L577.20,111.38L577.70,111.12L578.20,110.85L578.70,110.57L579.20,110.30L579.70,110.04L580.20,109.80L580.70,109.58L581.20,109.39L581.70,109.22L582.20,109.04L582.70,108.83L583.20,108.60L583.70,108.34L584.20,108.07L584.70,107.81L585.20,107.57L585.70,107.33L586.20,107.09L586.70,106.84L587.20,106.57L587.70,106.28L588.20,105.98L588.70,105.69L589.20,105.43L589.70,105.19L590.20,104.98L590.70,104.77L591.20,104.56L591.70,104.33L592.20,104.08L592.70,103.82L593.20,103.55L593.70,103.28L594.20,103.03L594.70,102.78L595.20,102.55L595.70,102.34L596.20,102.16L596.70,102.01L597.20,101.89L597.70,101.78L598.20,101.65L598.70,101.49L599.20,101.27L599.70,101.00L600.20,100.70L600.70,100.40L601.20,100.13L601.70,99.88L602.20,99.67L602.70,99.48L603.20,99.28L603.70,99.08L604.20,98.86L604.70,98.63L605.20,98.37L605.70,98.11L606.20,97.86L606.70,97.62L607.20,97.40L607.70,97.19L608.20,96.99L608.70,96.77L609.20,96.55L609.70,96.32L610.20,96.09L610.70,95.89L611.20,95.70L611.70,95.53L612.20,95.36L612.70,95.18L613.20,94.96L613.70,94.71L614.20,94.45L614.70,94.17L615.20,93.90L615.70,93.64L616.20,93.40L616.70,93.17L617.20,92.97L617.70,92.77L618.20,92.58L618.70,92.37L619.20,92.14L619.70,91.88L620.20,91.59L620.70,91.29L621.20,91.01L621.70,90.74L622.20,90.49L622.70,90.24L623.20,89.98L623.70,89.70L624.20,89.41L624.70,89.12L625.20,88.86L625.70,88.64L626.20,88.47L626.70,88.33L627.20,88.22L627.70,88.12L628.20,87.99L628.70,87.83L629.20,87.64L629.70,87.42L630.20,87.20L630.70,87.01L631.20,86.84L631.70,86.68L632.20,86.52L632.70,86.33L633.20,86.09L633.70,85.79L634.20,85.47L634.70,85.16L635.20,84.89L635.70,84.67L636.20,84.52L636.70,84.41L637.20,84.31L637.70,84.20L638.20,84.05L638.70,83.86L639.20,83.63L639.70,83.40L640.20,83.17L640.70,82.96L641.20,82.77L641.70,82.58L642.20,82.39L642.70,82.17L643.20,81.94L643.70,81.69L644.20,81.44L644.70,81.21L645.20,81.00L645.70,80.82L646.20,80.65L646.70,80.49L647.20,80.32L647.70,80.16L648.20,80.02L648.70,79.88L649.20,79.75L649.70,79.61L650.20,79.46L650.70,79.28L651.20,79.06L651.70,78.82L652.20,78.55L652.70,78.29L653.20,78.05L653.70,77.85L654.20,77.68L654.70,77.53L655.20,77.38L655.60,77.26" fill="none" stroke="#5cb43c" stroke-width="2.0" stroke-linejoin="round"/>
<path d="M449.20,254.40L449.70,251.22L450.20,248.49L450.70,245.99L451.20,243.64L451.70,241.40L452.20,239.27L452.70,237.22L453.20,235.25L453.70,233.34L454.20,231.48L454.70,229.66L455.20,227.88L455.70,226.12L456.20,224.39L456.70,222.69L457.20,221.02L457.70,219.38L458.20,217.77L458.70,216.21L459.20,214.69L459.70,213.23L460.20,211.81L460.70,210.44L461.20,209.10L461.70,207.78L462.20,206.46L462.70,205.15L463.20,203.84L463.70,202.54L464.20,201.25L464.70,199.95L465.20,198.61L465.70,197.25L466.20,195.86L466.70,194.46L467.20,193.08L467.70,191.71L468.20,190.37L468.70,189.04L469.20,187.70L469.70,186.35L470.20,184.99L470.70,183.63L471.20,182.31L471.70,181.04L472.20,179.83L472.70,178.67L473.20,177.56L473.70,176.47L474.20,175.39L474.70,174.32L475.20,173.27L475.70,172.23L476.20,171.22L476.70,170.24L477.20,169.29L477.70,168.36L478.20,167.45L478.70,166.57L479.20,165.71L479.70,164.86L480.20,164.02L480.70,163.18L481.20,162.32L481.70,161.45L482.20,160.57L482.70,159.70L483.20,158.84L483.70,158.00L484.20,157.21L484.70,156.47L485.20,155.79L485.70,155.15L486.20,154.55L486.70,153.99L487.20,153.44L487.70,152.90L488.20,152.37L488.70,151.82L489.20,151.24L489.70,150.62L490.20,149.99L490.70,149.36L491.20,148.76L491.70,148.22L492.20,147.72L492.70,147.25L493.20,146.79L493.70,146.32L494.20,145.84L494.70,145.36L495.20,144.88L495.70,144.41L496.20,143.96L496.70,143.53L497.20,143.10L497.70,142.68L498.20,142.27L498.70,141.87L499.20,141.50L499.70,141.17L500.20,140.87L500.70,140.58L501.20,140.27L501.70,139.93L502.20,139.53L502.70,139.10L503.20,138.64L503.70,138.15L504.20,137.64L504.70,137.09L505.20,136.49L505.70,135.86L506.20,135.21L506.70,134.58L507.20,133.99L507.70,133.44L508.20,132.93L508.70,132.44L509.20,131.96L509.70,131.47L510.20,130.98L510.70,130.49L511.20,130.03L511.70,129.60L512.20,129.21L512.70,128.85L513.20,128.50L513.70,128.16L514.20,127.81L514.70,127.44L515.20,127.08L515.70,126.74L516.20,126.43L516.70,126.13L517.20,125.82L517.70,125.49L518.20,125.11L518.70,124.67L519.20,124.19L519.70,123.70L520.20,123.22L520.70,122.76L521.20,122.33L521.70,121.91L522.20,121.48L522.70,121.04L523.20,120.58L523.70,120.09L524.20,119.57L524.70,119.03L525.20,118.47L525.70,117.89L526.20,117.33L526.70,116.79L527.20,116.30L527.70,115.88L528.20,115.53L528.70,115.24L529.20,114.98L529.70,114.74L530.20,114.47L530.70,114.15L531.20,113.76L531.70,113.30L532.20,112.76L532.70,112.19L533.20,111.58L533.70,110.98L534.20,110.39L534.70,109.85L535.20,109.36L535.70,108.94L536.20,108.62L536.70,108.38L537.20,108.20L537.70,108.07L538.20,107.94L538.70,107.81L539.20,107.66L539.70,107.50L540.20,107.34L540.70,107.19L541.20,107.03L541.70,106.87L542.20,106.68L542.70,106.45L543.20,106.16L543.70,105.80L544.20,105.38L544.70,104.89L545.20,104.37L545.70,103.83L546.20,103.27L546.70,102.73L547.20,102.20L547.70,101.73L548.20,101.32L548.70,101.01L549.20,100.80L549.70,100.67L550.20,100.58L550.70,100.49L551.20,100.34L551.70,100.12L552.20,99.83L552.70,99.46L553.20,99.03L553.70,98.57L554.20,98.10L554.70,97.67L555.20,97.31L555.70,97.02L556.20,96.83L556.70,96.69L557.20,96.59L557.70,96.48L558.20,96.34L558.70,96.14L559.20,95.88L559.70,95.58L560.20,95.26L560.70,94.94L561.20,94.64L561.70,94.38L562.20,94.19L562.70,94.05L563.20,93.96L563.70,93.88L564.20,93.79L564.70,93.65L565.20,93.47L565.70,93.25L566.20,93.02L566.70,92.81L567.20,92.62L567.70,92.44L568.20,92.27L568.70,92.07L569.20,91.85L569.70,91.61L570.20,91.39L570.70,91.19L571.20,91.01L571.70,90.84L572.20,90.70L572.70,90.57L573.20,90.46L573.70,90.37L574.20,90.30L574.70,90.23L575.20,90.16L575.70,90.04L576.20,89.88L576.70,89.64L577.20,89.36L577.70,89.03L578.20,88.71L578.70,88.41L579.20,88.15L579.70,87.92L580.20,87.71L580.70,87.50L581.20,87.26L581.70,87.01L582.20,86.77L582.70,86.57L583.20,86.41L583.70,86.29L584.20,86.19L584.70,86.09L585.20,85.97L585.70,85.81L586.20,85.63L586.70,85.45L587.20,85.29L587.70,85.13L588.20,84.98L588.70,84.81L589.20,84.60L589.70,84.33L590.20,84.01L590.70,83.66L591.20,83.32L591.70,83.00L592.20,82.72L592.70,82.45L593.20,82.20L593.70,81.95L594.20,81.71L594.70,81.50L595.20,81.32L595.70,81.17L596.20,81.03L596.70,80.90L597.20,80.75L597.70,80.57L598.20,80.36L598.70,80.13L599.20,79.86L599.70,79.57L600.20,79.29L600.70,79.04L601.20,78.82L601.70,78.66L602.20,78.53L602.70,78.42L603.20,78.32L603.70,78.19L604.20,78.04L604.70,77.85L605.20,77.65L605.70,77.45L606.20,77.25L606.70,77.06L607.20,76.88L607.70,76.70L608.20,76.51L608.70,76.29L609.20,76.04L609.70,75.77L610.20,75.50L610.70,75.25L611.20,75.06L611.70,74.92L612.20,74.82L612.70,74.74L613.20,74.64L613.70,74.47L614.20,74.23L614.70,73.94L615.20,73.61L615.70,73.27L616.20,72.93L616.70,72.61L617.20,72.29L617.70,71.97L618.20,71.67L618.70,71.37L619.20,71.09L619.70,70.82L620.20,70.55L620.70,70.25L621.20,69.92L621.70,69.56L622.20,69.19L622.70,68.85L623.20,68.53L623.70,68.27L624.20,68.05L624.70,67.87L625.20,67.73L625.70,67.62L626.20,67.54L626.70,67.45L627.20,67.35L627.70,67.22L628.20,67.04L628.70,66.82L629.20,66.58L629.70,66.33L630.20,66.07L630.70,65.83L631.20,65.59L631.70,65.36L632.20,65.18L632.70,65.06L633.20,64.99L633.70,64.98L634.20,65.00L634.70,65.02L635.20,65.03L635.70,65.02L636.20,64.99L636.70,64.92L637.20,64.82L637.70,64.66L638.20,64.46L638.70,64.22L639.20,63.95L639.70,63.70L640.20,63.47L640.70,63.28L641.20,63.12L641.70,62.98L642.20,62.82L642.70,62.62L643.20,62.41L643.70,62.17L644.20,61.95L644.70,61.75L645.20,61.58L645.70,61.43L646.20,61.29L646.70,61.14L647.20,60.97L647.70,60.79L648.20,60.59L648.70,60.40L649.20,60.23L649.70,60.08L650.20,59.98L650.70,59.92L651.20,59.89L651.70,59.86L652.20,59.78L652.70,59.65L653.20,59.47L653.70,59.26L654.20,59.05L654.70,58.86L655.20,58.70L655.60,58.58" fill="none" stroke="#c41e3a" stroke-width="2.0" stroke-linejoin="round"/>
<path d="M436.30,254.40L449.20,254.40L449.70,250.49L450.20,247.32L450.70,244.43L451.20,241.71L451.70,239.12L452.20,236.65L452.70,234.27L453.20,231.98L453.70,229.76L454.20,227.60L454.70,225.51L455.20,223.48L455.70,221.50L456.20,219.58L456.70,217.69L457.20,215.86L457.70,214.06L458.20,212.31L458.70,210.59L459.20,208.91L459.70,207.27L460.20,205.66L460.70,204.08L461.20,202.53L461.70,201.01L462.20,199.52L462.70,198.06L463.20,196.62L463.70,195.22L464.20,193.83L464.70,192.47L465.20,191.14L465.70,189.82L466.20,188.53L466.70,187.27L467.20,186.02L467.70,184.79L468.20,183.58L468.70,182.39L469.20,181.23L469.70,180.07L470.20,178.94L470.70,177.83L471.20,176.73L471.70,175.64L472.20,174.58L472.70,173.53L473.20,172.49L473.70,171.47L474.20,170.47L474.70,169.48L475.20,168.50L475.70,167.54L476.20,166.59L476.70,165.65L477.20,164.73L477.70,163.82L478.20,162.92L478.70,162.03L479.20,161.16L479.70,160.30L480.20,159.44L480.70,158.60L481.20,157.77L481.70,156.95L482.20,156.15L482.70,155.35L483.20,154.56L483.70,153.78L484.20,153.01L484.70,152.25L485.20,151.50L485.70,150.76L486.20,150.03L486.70,149.30L487.20,148.59L487.70,147.88L488.20,147.18L488.70,146.49L489.20,145.81L489.70,145.13L490.20,144.47L490.70,143.81L491.20,143.15L491.70,142.51L492.20,141.87L492.70,141.24L493.20,140.62L493.70,140.00L494.20,139.39L494.70,138.78L495.20,138.18L495.70,137.59L496.20,137.01L496.70,136.43L497.20,135.85L497.70,135.29L498.20,134.73L498.70,134.17L499.20,133.62L499.70,133.07L500.20,132.53L500.70,132.00L501.20,131.47L501.70,130.94L502.20,130.43L502.70,129.91L503.20,129.40L503.70,128.90L504.20,128.40L504.70,127.90L505.20,127.41L505.70,126.92L506.20,126.44L506.70,125.96L507.20,125.49L507.70,125.02L508.20,124.56L508.70,124.10L509.20,123.64L509.70,123.18L510.20,122.74L510.70,122.29L511.20,121.85L511.70,121.41L512.20,120.98L512.70,120.54L513.20,120.12L513.70,119.69L514.20,119.27L514.70,118.85L515.20,118.44L515.70,118.03L516.20,117.62L516.70,117.22L517.20,116.82L517.70,116.42L518.20,116.02L518.70,115.63L519.20,115.24L519.70,114.85L520.20,114.47L520.70,114.09L521.20,113.71L521.70,113.34L522.20,112.96L522.70,112.59L523.20,112.23L523.70,111.86L524.20,111.50L524.70,111.14L525.20,110.78L525.70,110.42L526.20,110.07L526.70,109.72L527.20,109.37L527.70,109.03L528.20,108.68L528.70,108.34L529.20,108.00L529.70,107.66L530.20,107.33L530.70,106.99L531.20,106.66L531.70,106.33L532.20,106.01L532.70,105.68L533.20,105.36L533.70,105.03L534.20,104.71L534.70,104.40L535.20,104.08L535.70,103.77L536.20,103.45L536.70,103.14L537.20,102.83L537.70,102.53L538.20,102.22L538.70,101.92L539.20,101.61L539.70,101.31L540.20,101.01L540.70,100.71L541.20,100.42L541.70,100.12L542.20,99.83L542.70,99.54L543.20,99.25L543.70,98.96L544.20,98.67L544.70,98.38L545.20,98.10L545.70,97.81L546.20,97.53L546.70,97.25L547.20,96.97L547.70,96.69L548.20,96.41L548.70,96.14L549.20,95.86L549.70,95.59L550.20,95.32L550.70,95.04L551.20,94.77L551.70,94.51L552.20,94.24L552.70,93.97L553.20,93.70L553.70,93.44L554.20,93.18L554.70,92.91L555.20,92.65L555.70,92.39L556.20,92.13L556.70,91.87L557.20,91.61L557.70,91.36L558.20,91.10L558.70,90.85L559.20,90.59L559.70,90.34L560.20,90.09L560.70,89.84L561.20,89.59L561.70,89.34L562.20,89.09L562.70,88.84L563.20,88.59L563.70,88.35L564.20,88.10L564.70,87.86L565.20,87.61L565.70,87.37L566.20,87.13L566.70,86.88L567.20,86.64L567.70,86.40L568.20,86.16L568.70,85.93L569.20,85.69L569.70,85.45L570.20,85.21L570.70,84.98L571.20,84.74L571.70,84.51L572.20,84.27L572.70,84.04L573.20,83.81L573.70,83.57L574.20,83.34L574.70,83.11L575.20,82.88L575.70,82.65L576.20,82.42L576.70,82.19L577.20,81.97L577.70,81.74L578.20,81.51L578.70,81.29L579.20,81.06L579.70,80.83L580.20,80.61L580.70,80.38L581.20,80.16L581.70,79.94L582.20,79.72L582.70,79.49L583.20,79.27L583.70,79.05L584.20,78.83L584.70,78.61L585.20,78.39L585.70,78.17L586.20,77.95L586.70,77.73L587.20,77.51L587.70,77.30L588.20,77.08L588.70,76.86L589.20,76.64L589.70,76.43L590.20,76.21L590.70,76.00L591.20,75.78L591.70,75.57L592.20,75.35L592.70,75.14L593.20,74.93L593.70,74.71L594.20,74.50L594.70,74.29L595.20,74.08L595.70,73.87L596.20,73.65L596.70,73.44L597.20,73.23L597.70,73.02L598.20,72.81L598.70,72.60L599.20,72.39L599.70,72.18L600.20,71.98L600.70,71.77L601.20,71.56L601.70,71.35L602.20,71.14L602.70,70.94L603.20,70.73L603.70,70.52L604.20,70.32L604.70,70.11L605.20,69.91L605.70,69.70L606.20,69.50L606.70,69.29L607.20,69.09L607.70,68.88L608.20,68.68L608.70,68.47L609.20,68.27L609.70,68.07L610.20,67.86L610.70,67.66L611.20,67.46L611.70,67.25L612.20,67.05L612.70,66.85L613.20,66.65L613.70,66.45L614.20,66.25L614.70,66.04L615.20,65.84L615.70,65.64L616.20,65.44L616.70,65.24L617.20,65.04L617.70,64.84L618.20,64.64L618.70,64.44L619.20,64.24L619.70,64.04L620.20,63.85L620.70,63.65L621.20,63.45L621.70,63.25L622.20,63.05L622.70,62.85L623.20,62.66L623.70,62.46L624.20,62.26L624.70,62.06L625.20,61.87L625.70,61.67L626.20,61.47L626.70,61.28L627.20,61.08L627.70,60.88L628.20,60.69L628.70,60.49L629.20,60.29L629.70,60.10L630.20,59.90L630.70,59.71L631.20,59.51L631.70,59.32L632.20,59.12L632.70,58.93L633.20,58.73L633.70,58.54L634.20,58.34L634.70,58.15L635.20,57.96L635.70,57.76L636.20,57.57L636.70,57.37L637.20,57.18L637.70,56.99L638.20,56.79L638.70,56.60L639.20,56.41L639.70,56.21L640.20,56.02L640.70,55.83L641.20,55.63L641.70,55.44L642.20,55.25L642.70,55.06L643.20,54.86L643.70,54.67L644.20,54.48L644.70,54.29L645.20,54.10L645.70,53.90L646.20,53.71L646.70,53.52L647.20,53.33L647.70,53.14L648.20,52.95L648.70,52.75L649.20,52.56L649.70,52.37L650.20,52.18L650.70,51.99L651.20,51.80L651.70,51.61L652.20,51.42L652.70,51.23L653.20,51.04L653.70,50.85L654.20,50.66L654.70,50.47L655.20,50.28L655.60,50.12" fill="none" stroke="#1ba5d2" stroke-width="2.0" stroke-linejoin="round"/>
<path d="M449.20,254.40L449.70,252.53L450.20,250.67L450.70,249.01L451.20,247.45L451.70,245.96L452.20,244.51L452.70,243.10L453.20,241.68L453.70,240.26L454.20,238.82L454.70,237.36L455.20,235.87L455.70,234.38L456.20,232.88L456.70,231.39L457.20,229.92L457.70,228.46L458.20,227.02L458.70,225.60L459.20,224.21L459.70,222.86L460.20,221.61L460.70,220.51L461.20,219.46L461.70,218.47L462.20,217.55L462.70,216.70L463.20,215.90L463.70,215.13L464.20,214.39L464.70,213.63L465.20,212.82L465.70,211.98L466.20,211.10L466.70,210.16L467.20,209.19L467.70,208.21L468.20,207.23L468.70,206.27L469.20,205.34L469.70,204.44L470.20,203.55L470.70,202.66L471.20,201.76L471.70,200.86L472.20,199.98L472.70,199.15L473.20,198.39L473.70,197.69L474.20,197.04L474.70,196.40L475.20,195.74L475.70,195.05L476.20,194.35L476.70,193.65L477.20,192.98L477.70,192.35L478.20,191.75L478.70,191.17L479.20,190.60L479.70,190.04L480.20,189.49L480.70,188.98L481.20,188.48L481.70,187.98L482.20,187.47L482.70,186.93L483.20,186.36L483.70,185.76L484.20,185.13L484.70,184.50L485.20,183.87L485.70,183.26L486.20,182.70L486.70,182.19L487.20,181.70L487.70,181.22L488.20,180.71L488.70,180.17L489.20,179.60L489.70,179.02L490.20,178.46L490.70,177.92L491.20,177.41L491.70,176.89L492.20,176.36L492.70,175.81L493.20,175.26L493.70,174.73L494.20,174.26L494.70,173.86L495.20,173.52L495.70,173.23L496.20,172.94L496.70,172.61L497.20,172.22L497.70,171.78L498.20,171.29L498.70,170.79L499.20,170.30L499.70,169.84L500.20,169.41L500.70,168.98L501.20,168.55L501.70,168.13L502.20,167.71L502.70,167.31L503.20,166.93L503.70,166.58L504.20,166.26L504.70,165.95L505.20,165.64L505.70,165.30L506.20,164.92L506.70,164.51L507.20,164.06L507.70,163.62L508.20,163.19L508.70,162.80L509.20,162.45L509.70,162.13L510.20,161.84L510.70,161.56L511.20,161.28L511.70,160.98L512.20,160.67L512.70,160.33L513.20,159.98L513.70,159.62L514.20,159.25L514.70,158.89L515.20,158.53L515.70,158.17L516.20,157.81L516.70,157.45L517.20,157.09L517.70,156.72L518.20,156.36L518.70,156.00L519.20,155.64L519.70,155.28L520.20,154.93L520.70,154.60L521.20,154.30L521.70,154.02L522.20,153.72L522.70,153.40L523.20,153.05L523.70,152.67L524.20,152.31L524.70,151.98L525.20,151.69L525.70,151.40L526.20,151.10L526.70,150.75L527.20,150.36L527.70,149.93L528.20,149.49L528.70,149.09L529.20,148.74L529.70,148.46L530.20,148.21L530.70,147.97L531.20,147.72L531.70,147.45L532.20,147.16L532.70,146.86L533.20,146.55L533.70,146.22L534.20,145.86L534.70,145.47L535.20,145.05L535.70,144.62L536.20,144.19L536.70,143.77L537.20,143.37L537.70,142.98L538.20,142.60L538.70,142.23L539.20,141.87L539.70,141.52L540.20,141.20L540.70,140.92L541.20,140.70L541.70,140.52L542.20,140.37L542.70,140.19L543.20,139.95L543.70,139.61L544.20,139.17L544.70,138.63L545.20,138.04L545.70,137.45L546.20,136.94L546.70,136.52L547.20,136.19L547.70,135.91L548.20,135.65L548.70,135.42L549.20,135.21L549.70,135.03L550.20,134.88L550.70,134.75L551.20,134.61L551.70,134.44L552.20,134.23L552.70,133.98L553.20,133.68L553.70,133.35L554.20,132.98L554.70,132.58L555.20,132.18L555.70,131.79L556.20,131.46L556.70,131.18L557.20,130.95L557.70,130.73L558.20,130.50L558.70,130.25L559.20,129.97L559.70,129.68L560.20,129.39L560.70,129.13L561.20,128.89L561.70,128.67L562.20,128.45L562.70,128.21L563.20,127.95L563.70,127.65L564.20,127.34L564.70,127.03L565.20,126.76L565.70,126.52L566.20,126.30L566.70,126.08L567.20,125.83L567.70,125.55L568.20,125.25L568.70,124.93L569.20,124.61L569.70,124.29L570.20,123.97L570.70,123.64L571.20,123.29L571.70,122.95L572.20,122.63L572.70,122.35L573.20,122.11L573.70,121.90L574.20,121.68L574.70,121.46L575.20,121.22L575.70,120.95L576.20,120.67L576.70,120.37L577.20,120.04L577.70,119.69L578.20,119.34L578.70,119.03L579.20,118.76L579.70,118.53L580.20,118.32L580.70,118.08L581.20,117.80L581.70,117.46L582.20,117.06L582.70,116.63L583.20,116.22L583.70,115.87L584.20,115.57L584.70,115.32L585.20,115.10L585.70,114.88L586.20,114.67L586.70,114.45L587.20,114.23L587.70,114.01L588.20,113.77L588.70,113.53L589.20,113.29L589.70,113.07L590.20,112.87L590.70,112.69L591.20,112.50L591.70,112.30L592.20,112.06L592.70,111.78L593.20,111.46L593.70,111.12L594.20,110.78L594.70,110.45L595.20,110.14L595.70,109.84L596.20,109.54L596.70,109.25L597.20,108.97L597.70,108.70L598.20,108.46L598.70,108.24L599.20,108.05L599.70,107.86L600.20,107.67L600.70,107.44L601.20,107.19L601.70,106.90L602.20,106.59L602.70,106.30L603.20,106.04L603.70,105.83L604.20,105.66L604.70,105.51L605.20,105.36L605.70,105.19L606.20,104.98L606.70,104.73L607.20,104.43L607.70,104.09L608.20,103.72L608.70,103.34L609.20,102.94L609.70,102.52L610.20,102.10L610.70,101.67L611.20,101.29L611.70,100.99L612.20,100.77L612.70,100.61L613.20,100.48L613.70,100.34L614.20,100.18L614.70,100.00L615.20,99.81L615.70,99.62L616.20,99.42L616.70,99.19L617.20,98.91L617.70,98.57L618.20,98.19L618.70,97.81L619.20,97.48L619.70,97.22L620.20,97.00L620.70,96.80L621.20,96.61L621.70,96.41L622.20,96.23L622.70,96.07L623.20,95.95L623.70,95.85L624.20,95.76L624.70,95.64L625.20,95.49L625.70,95.30L626.20,95.08L626.70,94.86L627.20,94.66L627.70,94.48L628.20,94.29L628.70,94.07L629.20,93.83L629.70,93.55L630.20,93.27L630.70,93.02L631.20,92.81L631.70,92.63L632.20,92.49L632.70,92.35L633.20,92.22L633.70,92.08L634.20,91.94L634.70,91.78L635.20,91.61L635.70,91.40L636.20,91.16L636.70,90.87L637.20,90.53L637.70,90.17L638.20,89.80L638.70,89.47L639.20,89.20L639.70,88.97L640.20,88.78L640.70,88.60L641.20,88.42L641.70,88.26L642.20,88.11L642.70,87.98L643.20,87.85L643.70,87.72L644.20,87.56L644.70,87.34L645.20,87.07L645.70,86.77L646.20,86.47L646.70,86.18L647.20,85.90L647.70,85.62L648.20,85.34L648.70,85.06L649.20,84.77L649.70,84.49L650.20,84.21L650.70,83.96L651.20,83.74L651.70,83.53L652.20,83.33L652.70,83.14L653.20,82.95L653.70,82.76L654.20,82.54L654.70,82.32L655.20,82.10L655.60,81.92L655.60,92.31L655.20,92.51L654.70,92.77L654.20,93.04L653.70,93.35L653.20,93.69L652.70,94.04L652.20,94.41L651.70,94.76L651.20,95.10L650.70,95.39L650.20,95.65L649.70,95.87L649.20,96.06L648.70,96.26L648.20,96.46L647.70,96.68L647.20,96.91L646.70,97.13L646.20,97.30L645.70,97.43L645.20,97.49L644.70,97.52L644.20,97.53L643.70,97.56L643.20,97.63L642.70,97.73L642.20,97.89L641.70,98.08L641.20,98.32L640.70,98.60L640.20,98.91L639.70,99.25L639.20,99.58L638.70,99.88L638.20,100.11L637.70,100.28L637.20,100.42L636.70,100.54L636.20,100.67L635.70,100.82L635.20,100.98L634.70,101.15L634.20,101.31L633.70,101.47L633.20,101.63L632.70,101.80L632.20,102.01L631.70,102.25L631.20,102.52L630.70,102.81L630.20,103.07L629.70,103.31L629.20,103.53L628.70,103.73L628.20,103.94L627.70,104.17L627.20,104.40L626.70,104.62L626.20,104.80L625.70,104.94L625.20,105.07L624.70,105.20L624.20,105.36L623.70,105.54L623.20,105.76L622.70,105.97L622.20,106.18L621.70,106.37L621.20,106.55L620.70,106.76L620.20,107.01L619.70,107.28L619.20,107.56L618.70,107.79L618.20,107.96L617.70,108.09L617.20,108.23L616.70,108.39L616.20,108.59L615.70,108.81L615.20,109.05L614.70,109.28L614.20,109.50L613.70,109.72L613.20,109.96L612.70,110.25L612.20,110.57L611.70,110.89L611.20,111.18L610.70,111.42L610.20,111.63L609.70,111.83L609.20,112.04L608.70,112.26L608.20,112.49L607.70,112.69L607.20,112.88L606.70,113.06L606.20,113.23L605.70,113.40L605.20,113.58L604.70,113.78L604.20,114.00L603.70,114.24L603.20,114.47L602.70,114.69L602.20,114.87L601.70,115.03L601.20,115.19L600.70,115.35L600.20,115.54L599.70,115.76L599.20,116.00L598.70,116.27L598.20,116.56L597.70,116.87L597.20,117.18L596.70,117.51L596.20,117.86L595.70,118.23L595.20,118.63L594.70,119.02L594.20,119.40L593.70,119.74L593.20,120.04L592.70,120.31L592.20,120.56L591.70,120.79L591.20,121.04L590.70,121.29L590.20,121.54L589.70,121.80L589.20,122.04L588.70,122.26L588.20,122.47L587.70,122.66L587.20,122.85L586.70,123.05L586.20,123.27L585.70,123.52L585.20,123.80L584.70,124.12L584.20,124.47L583.70,124.83L583.20,125.15L582.70,125.42L582.20,125.67L581.70,125.91L581.20,126.17L580.70,126.49L580.20,126.86L579.70,127.28L579.20,127.70L578.70,128.07L578.20,128.38L577.70,128.61L577.20,128.79L576.70,128.94L576.20,129.09L575.70,129.26L575.20,129.45L574.70,129.68L574.20,129.94L573.70,130.24L573.20,130.58L572.70,130.93L572.20,131.25L571.70,131.53L571.20,131.78L570.70,132.01L570.20,132.24L569.70,132.46L569.20,132.68L568.70,132.89L568.20,133.10L567.70,133.31L567.20,133.54L566.70,133.79L566.20,134.09L565.70,134.43L565.20,134.77L564.70,135.08L564.20,135.36L563.70,135.59L563.20,135.80L562.70,136.02L562.20,136.25L561.70,136.51L561.20,136.79L560.70,137.08L560.20,137.36L559.70,137.62L559.20,137.86L558.70,138.11L558.20,138.37L557.70,138.68L557.20,139.03L556.70,139.42L556.20,139.81L555.70,140.16L555.20,140.47L554.70,140.74L554.20,140.97L553.70,141.19L553.20,141.37L552.70,141.53L552.20,141.66L551.70,141.78L551.20,141.91L550.70,142.07L550.20,142.27L549.70,142.52L549.20,142.82L548.70,143.17L548.20,143.57L547.70,144.03L547.20,144.55L546.70,145.09L546.20,145.60L545.70,146.03L545.20,146.35L544.70,146.59L544.20,146.78L543.70,146.98L543.20,147.22L542.70,147.52L542.20,147.89L541.70,148.31L541.20,148.73L540.70,149.12L540.20,149.46L539.70,149.74L539.20,149.99L538.70,150.21L538.20,150.45L537.70,150.71L537.20,151.01L536.70,151.35L536.20,151.72L535.70,152.10L535.20,152.48L534.70,152.86L534.20,153.22L533.70,153.58L533.20,153.94L532.70,154.29L532.20,154.63L531.70,154.97L531.20,155.33L530.70,155.72L530.20,156.16L529.70,156.65L529.20,157.16L528.70,157.65L528.20,158.08L527.70,158.45L527.20,158.77L526.70,159.06L526.20,159.35L525.70,159.65L525.20,159.96L524.70,160.27L524.20,160.56L523.70,160.79L523.20,160.98L522.70,161.16L522.20,161.36L521.70,161.60L521.20,161.87L520.70,162.16L520.20,162.46L519.70,162.76L519.20,163.06L518.70,163.39L518.20,163.73L517.70,164.09L517.20,164.47L516.70,164.87L516.20,165.28L515.70,165.71L515.20,166.14L514.70,166.57L514.20,166.98L513.70,167.36L513.20,167.72L512.70,168.05L512.20,168.35L511.70,168.65L511.20,168.94L510.70,169.25L510.20,169.58L509.70,169.93L509.20,170.29L508.70,170.66L508.20,171.02L507.70,171.37L507.20,171.70L506.70,172.01L506.20,172.34L505.70,172.68L505.20,173.06L504.70,173.48L504.20,173.93L503.70,174.41L503.20,174.90L502.70,175.41L502.20,175.92L501.70,176.44L501.20,176.96L500.70,177.47L500.20,177.98L499.70,178.47L499.20,178.92L498.70,179.30L498.20,179.60L497.70,179.86L497.20,180.09L496.70,180.36L496.20,180.68L495.70,181.10L495.20,181.59L494.70,182.15L494.20,182.72L493.70,183.27L493.20,183.78L492.70,184.26L492.20,184.73L491.70,185.21L491.20,185.71L490.70,186.23L490.20,186.76L489.70,187.27L489.20,187.77L488.70,188.27L488.20,188.80L487.70,189.37L487.20,189.99L486.70,190.63L486.20,191.28L485.70,191.91L485.20,192.50L484.70,193.05L484.20,193.58L483.70,194.10L483.20,194.65L482.70,195.24L482.20,195.87L481.70,196.55L481.20,197.25L480.70,197.97L480.20,198.68L479.70,199.35L479.20,199.98L478.70,200.61L478.20,201.23L477.70,201.85L477.20,202.46L476.70,203.06L476.20,203.66L475.70,204.26L475.20,204.91L474.70,205.61L474.20,206.38L473.70,207.21L473.20,208.08L472.70,208.94L472.20,209.77L471.70,210.58L471.20,211.38L470.70,212.19L470.20,213.04L469.70,213.91L469.20,214.79L468.70,215.67L468.20,216.51L467.70,217.33L467.20,218.12L466.70,218.89L466.20,219.67L465.70,220.47L465.20,221.29L464.70,222.15L464.20,223.06L463.70,224.01L463.20,225.02L462.70,226.06L462.20,227.15L461.70,228.25L461.20,229.38L460.70,230.51L460.20,231.66L459.70,232.70L459.20,233.69L458.70,234.69L458.20,235.71L457.70,236.74L457.20,237.77L456.70,238.80L456.20,239.81L455.70,240.79L455.20,241.76L454.70,242.70L454.20,243.62L453.70,244.55L453.20,245.48L452.70,246.42L452.20,247.40L451.70,248.42L451.20,249.48L450.70,250.61L450.20,251.82L449.70,253.12L449.20,254.40Z" fill="#7a5cb0" fill-opacity="0.25" stroke="none"/>
<path d="M449.20,254.40L449.70,249.79L450.20,246.72L450.70,244.08L451.20,241.71L451.70,239.54L452.20,237.52L452.70,235.61L453.20,233.80L453.70,232.06L454.20,230.39L454.70,228.76L455.20,227.17L455.70,225.61L456.20,224.06L456.70,222.53L457.20,221.00L457.70,219.47L458.20,217.92L458.70,216.36L459.20,214.82L459.70,213.32L460.20,211.96L460.70,210.77L461.20,209.60L461.70,208.42L462.20,207.20L462.70,205.98L463.20,204.81L463.70,203.75L464.20,202.85L464.70,202.08L465.20,201.32L465.70,200.54L466.20,199.70L466.70,198.77L467.20,197.78L467.70,196.75L468.20,195.74L468.70,194.83L469.20,194.03L469.70,193.35L470.20,192.73L470.70,192.13L471.20,191.47L471.70,190.73L472.20,189.91L472.70,189.04L473.20,188.18L473.70,187.37L474.20,186.62L474.70,185.92L475.20,185.22L475.70,184.49L476.20,183.72L476.70,182.91L477.20,182.11L477.70,181.33L478.20,180.59L478.70,179.91L479.20,179.28L479.70,178.70L480.20,178.18L480.70,177.70L481.20,177.21L481.70,176.66L482.20,176.02L482.70,175.30L483.20,174.53L483.70,173.76L484.20,173.04L484.70,172.39L485.20,171.79L485.70,171.22L486.20,170.66L486.70,170.11L487.20,169.59L487.70,169.09L488.20,168.59L488.70,168.07L489.20,167.52L489.70,166.93L490.20,166.35L490.70,165.79L491.20,165.27L491.70,164.77L492.20,164.24L492.70,163.67L493.20,163.05L493.70,162.40L494.20,161.75L494.70,161.16L495.20,160.63L495.70,160.18L496.20,159.82L496.70,159.55L497.20,159.35L497.70,159.16L498.20,158.95L498.70,158.68L499.20,158.35L499.70,157.97L500.20,157.57L500.70,157.15L501.20,156.72L501.70,156.26L502.20,155.78L502.70,155.30L503.20,154.88L503.70,154.57L504.20,154.36L504.70,154.19L505.20,154.00L505.70,153.72L506.20,153.32L506.70,152.80L507.20,152.21L507.70,151.62L508.20,151.07L508.70,150.53L509.20,150.00L509.70,149.46L510.20,148.94L510.70,148.51L511.20,148.19L511.70,147.97L512.20,147.82L512.70,147.66L513.20,147.46L513.70,147.17L514.20,146.79L514.70,146.29L515.20,145.68L515.70,145.01L516.20,144.31L516.70,143.64L517.20,143.04L517.70,142.54L518.20,142.14L518.70,141.83L519.20,141.56L519.70,141.30L520.20,141.00L520.70,140.66L521.20,140.26L521.70,139.79L522.20,139.28L522.70,138.78L523.20,138.35L523.70,137.99L524.20,137.71L524.70,137.47L525.20,137.25L525.70,137.04L526.20,136.82L526.70,136.58L527.20,136.31L527.70,135.99L528.20,135.65L528.70,135.30L529.20,135.00L529.70,134.74L530.20,134.50L530.70,134.25L531.20,133.97L531.70,133.65L532.20,133.30L532.70,132.93L533.20,132.55L533.70,132.18L534.20,131.82L534.70,131.50L535.20,131.19L535.70,130.89L536.20,130.57L536.70,130.22L537.20,129.86L537.70,129.53L538.20,129.26L538.70,129.04L539.20,128.82L539.70,128.57L540.20,128.24L540.70,127.85L541.20,127.39L541.70,126.93L542.20,126.49L542.70,126.11L543.20,125.81L543.70,125.57L544.20,125.34L544.70,125.11L545.20,124.84L545.70,124.52L546.20,124.15L546.70,123.72L547.20,123.24L547.70,122.75L548.20,122.28L548.70,121.85L549.20,121.46L549.70,121.11L550.20,120.78L550.70,120.49L551.20,120.27L551.70,120.10L552.20,119.98L552.70,119.86L553.20,119.70L553.70,119.50L554.20,119.27L554.70,119.03L555.20,118.80L555.70,118.59L556.20,118.36L556.70,118.11L557.20,117.83L557.70,117.52L558.20,117.20L558.70,116.89L559.20,116.57L559.70,116.24L560.20,115.90L560.70,115.54L561.20,115.15L561.70,114.72L562.20,114.23L562.70,113.70L563.20,113.16L563.70,112.66L564.20,112.22L564.70,111.88L565.20,111.64L565.70,111.50L566.20,111.45L566.70,111.46L567.20,111.48L567.70,111.48L568.20,111.43L568.70,111.33L569.20,111.15L569.70,110.91L570.20,110.61L570.70,110.26L571.20,109.87L571.70,109.49L572.20,109.15L572.70,108.87L573.20,108.65L573.70,108.44L574.20,108.22L574.70,107.97L575.20,107.69L575.70,107.38L576.20,107.05L576.70,106.73L577.20,106.42L577.70,106.12L578.20,105.81L578.70,105.52L579.20,105.25L579.70,105.04L580.20,104.88L580.70,104.77L581.20,104.66L581.70,104.52L582.20,104.33L582.70,104.05L583.20,103.73L583.70,103.40L584.20,103.11L584.70,102.85L585.20,102.61L585.70,102.34L586.20,102.01L586.70,101.63L587.20,101.23L587.70,100.86L588.20,100.57L588.70,100.38L589.20,100.27L589.70,100.19L590.20,100.10L590.70,99.97L591.20,99.77L591.70,99.53L592.20,99.26L592.70,99.01L593.20,98.79L593.70,98.60L594.20,98.43L594.70,98.27L595.20,98.14L595.70,98.03L596.20,97.96L596.70,97.89L597.20,97.81L597.70,97.68L598.20,97.47L598.70,97.15L599.20,96.73L599.70,96.28L600.20,95.91L600.70,95.65L601.20,95.48L601.70,95.35L602.20,95.20L602.70,94.99L603.20,94.71L603.70,94.37L604.20,93.96L604.70,93.53L605.20,93.11L605.70,92.72L606.20,92.40L606.70,92.13L607.20,91.90L607.70,91.68L608.20,91.47L608.70,91.25L609.20,91.05L609.70,90.89L610.20,90.79L610.70,90.71L611.20,90.63L611.70,90.50L612.20,90.29L612.70,89.98L613.20,89.60L613.70,89.17L614.20,88.76L614.70,88.40L615.20,88.10L615.70,87.84L616.20,87.62L616.70,87.43L617.20,87.26L617.70,87.09L618.20,86.91L618.70,86.69L619.20,86.41L619.70,86.07L620.20,85.75L620.70,85.47L621.20,85.25L621.70,85.03L622.20,84.77L622.70,84.45L623.20,84.08L623.70,83.71L624.20,83.41L624.70,83.22L625.20,83.15L625.70,83.17L626.20,83.20L626.70,83.22L627.20,83.19L627.70,83.09L628.20,82.90L628.70,82.61L629.20,82.27L629.70,81.96L630.20,81.73L630.70,81.57L631.20,81.45L631.70,81.31L632.20,81.10L632.70,80.78L633.20,80.36L633.70,79.92L634.20,79.58L634.70,79.41L635.20,79.37L635.70,79.37L636.20,79.34L636.70,79.25L637.20,79.11L637.70,78.90L638.20,78.61L638.70,78.26L639.20,77.92L639.70,77.64L640.20,77.43L640.70,77.26L641.20,77.09L641.70,76.89L642.20,76.65L642.70,76.36L643.20,76.08L643.70,75.83L644.20,75.65L644.70,75.51L645.20,75.37L645.70,75.20L646.20,74.98L646.70,74.73L647.20,74.48L647.70,74.25L648.20,74.06L648.70,73.90L649.20,73.75L649.70,73.59L650.20,73.38L650.70,73.13L651.20,72.83L651.70,72.53L652.20,72.30L652.70,72.15L653.20,72.08L653.70,72.04L654.20,71.97L654.70,71.85L655.20,71.67L655.60,71.52L655.60,82.88L655.20,82.99L654.70,83.13L654.20,83.32L653.70,83.59L653.20,83.91L652.70,84.24L652.20,84.51L651.70,84.68L651.20,84.76L650.70,84.78L650.20,84.80L649.70,84.86L649.20,84.95L648.70,85.09L648.20,85.26L647.70,85.45L647.20,85.62L646.70,85.77L646.20,85.91L645.70,86.08L645.20,86.30L644.70,86.58L644.20,86.89L643.70,87.19L643.20,87.42L642.70,87.59L642.20,87.74L641.70,87.90L641.20,88.11L640.70,88.37L640.20,88.68L639.70,88.98L639.20,89.22L638.70,89.37L638.20,89.43L637.70,89.46L637.20,89.50L636.70,89.57L636.20,89.72L635.70,90.01L635.20,90.44L634.70,90.95L634.20,91.40L633.70,91.69L633.20,91.83L632.70,91.91L632.20,91.99L631.70,92.13L631.20,92.33L630.70,92.59L630.20,92.87L629.70,93.10L629.20,93.25L628.70,93.31L628.20,93.34L627.70,93.39L627.20,93.48L626.70,93.64L626.20,93.88L625.70,94.21L625.20,94.61L624.70,95.02L624.20,95.35L623.70,95.57L623.20,95.70L622.70,95.80L622.20,95.94L621.70,96.14L621.20,96.43L620.70,96.75L620.20,97.05L619.70,97.29L619.20,97.49L618.70,97.68L618.20,97.90L617.70,98.15L617.20,98.42L616.70,98.72L616.20,99.04L615.70,99.38L615.20,99.72L614.70,100.04L614.20,100.32L613.70,100.51L613.20,100.64L612.70,100.73L612.20,100.82L611.70,100.95L611.20,101.11L610.70,101.34L610.20,101.59L609.70,101.83L609.20,102.03L608.70,102.20L608.20,102.37L607.70,102.56L607.20,102.81L606.70,103.10L606.20,103.43L605.70,103.74L605.20,104.01L604.70,104.19L604.20,104.31L603.70,104.36L603.20,104.40L602.70,104.45L602.20,104.57L601.70,104.78L601.20,105.10L600.70,105.50L600.20,105.91L599.70,106.24L599.20,106.48L598.70,106.64L598.20,106.78L597.70,106.92L597.20,107.05L596.70,107.20L596.20,107.36L595.70,107.54L595.20,107.72L594.70,107.87L594.20,108.03L593.70,108.19L593.20,108.38L592.70,108.57L592.20,108.76L591.70,108.92L591.20,109.09L590.70,109.28L590.20,109.51L589.70,109.81L589.20,110.17L588.70,110.57L588.20,110.96L587.70,111.29L587.20,111.54L586.70,111.73L586.20,111.89L585.70,112.07L585.20,112.27L584.70,112.51L584.20,112.76L583.70,112.97L583.20,113.13L582.70,113.26L582.20,113.39L581.70,113.55L581.20,113.77L580.70,114.05L580.20,114.37L579.70,114.70L579.20,115.01L578.70,115.29L578.20,115.54L577.70,115.79L577.20,116.05L576.70,116.29L576.20,116.53L575.70,116.74L575.20,116.95L574.70,117.17L574.20,117.44L573.70,117.77L573.20,118.16L572.70,118.58L572.20,118.98L571.70,119.30L571.20,119.54L570.70,119.69L570.20,119.80L569.70,119.89L569.20,119.97L568.70,120.07L568.20,120.20L567.70,120.39L567.20,120.65L566.70,121.00L566.20,121.42L565.70,121.90L565.20,122.40L564.70,122.88L564.20,123.32L563.70,123.69L563.20,123.98L562.70,124.20L562.20,124.36L561.70,124.51L561.20,124.66L560.70,124.84L560.20,125.05L559.70,125.28L559.20,125.55L558.70,125.84L558.20,126.13L557.70,126.41L557.20,126.67L556.70,126.92L556.20,127.17L555.70,127.45L555.20,127.75L554.70,128.04L554.20,128.31L553.70,128.56L553.20,128.82L552.70,129.10L552.20,129.44L551.70,129.83L551.20,130.23L550.70,130.61L550.20,130.97L549.70,131.29L549.20,131.60L548.70,131.89L548.20,132.14L547.70,132.34L547.20,132.52L546.70,132.68L546.20,132.85L545.70,133.07L545.20,133.32L544.70,133.62L544.20,133.96L543.70,134.35L543.20,134.75L542.70,135.14L542.20,135.47L541.70,135.74L541.20,135.94L540.70,136.10L540.20,136.27L539.70,136.47L539.20,136.74L538.70,137.07L538.20,137.43L537.70,137.78L537.20,138.09L536.70,138.37L536.20,138.64L535.70,138.94L535.20,139.26L534.70,139.61L534.20,139.97L533.70,140.31L533.20,140.64L532.70,140.96L532.20,141.28L531.70,141.59L531.20,141.92L530.70,142.28L530.20,142.67L529.70,143.08L529.20,143.48L528.70,143.82L528.20,144.09L527.70,144.32L527.20,144.53L526.70,144.75L526.20,145.00L525.70,145.29L525.20,145.64L524.70,146.04L524.20,146.51L523.70,147.02L523.20,147.52L522.70,147.99L522.20,148.40L521.70,148.76L521.20,149.11L520.70,149.48L520.20,149.89L519.70,150.36L519.20,150.90L518.70,151.52L518.20,152.17L517.70,152.81L517.20,153.39L516.70,153.88L516.20,154.27L515.70,154.56L515.20,154.79L514.70,154.97L514.20,155.14L513.70,155.34L513.20,155.60L512.70,155.95L512.20,156.41L511.70,156.99L511.20,157.64L510.70,158.27L510.20,158.83L509.70,159.33L509.20,159.78L508.70,160.20L508.20,160.60L507.70,160.96L507.20,161.23L506.70,161.44L506.20,161.61L505.70,161.81L505.20,162.10L504.70,162.49L504.20,162.99L503.70,163.54L503.20,164.08L502.70,164.56L502.20,164.99L501.70,165.39L501.20,165.78L500.70,166.16L500.20,166.51L499.70,166.82L499.20,167.08L498.70,167.33L498.20,167.60L497.70,167.94L497.20,168.36L496.70,168.86L496.20,169.40L495.70,169.97L495.20,170.53L494.70,171.06L494.20,171.56L493.70,172.01L493.20,172.43L492.70,172.85L492.20,173.29L491.70,173.79L491.20,174.33L490.70,174.90L490.20,175.45L489.70,175.99L489.20,176.53L488.70,177.10L488.20,177.71L487.70,178.36L487.20,179.03L486.70,179.70L486.20,180.36L485.70,181.02L485.20,181.71L484.70,182.43L484.20,183.13L483.70,183.78L483.20,184.37L482.70,184.91L482.20,185.45L481.70,186.02L481.20,186.65L480.70,187.34L480.20,188.08L479.70,188.81L479.20,189.53L478.70,190.22L478.20,190.89L477.70,191.52L477.20,192.12L476.70,192.68L476.20,193.22L475.70,193.77L475.20,194.36L474.70,195.02L474.20,195.72L473.70,196.42L473.20,197.08L472.70,197.68L472.20,198.23L471.70,198.79L471.20,199.41L470.70,200.13L470.20,200.98L469.70,201.95L469.20,202.98L468.70,204.02L468.20,205.02L467.70,205.95L467.20,206.85L466.70,207.75L466.20,208.70L465.70,209.74L465.20,210.89L464.70,212.13L464.20,213.44L463.70,214.76L463.20,215.99L462.70,217.13L462.20,218.23L461.70,219.34L461.20,220.50L460.70,221.72L460.20,222.98L459.70,224.14L459.20,225.19L458.70,226.22L458.20,227.24L457.70,228.26L457.20,229.32L456.70,230.40L456.20,231.50L455.70,232.63L455.20,233.77L454.70,234.95L454.20,236.16L453.70,237.42L453.20,238.74L452.70,240.12L452.20,241.57L451.70,243.12L451.20,244.79L450.70,246.60L450.20,248.63L449.70,251.04L449.20,254.40Z" fill="#83b363" fill-opacity="0.25" stroke="none"/>
<path d="M449.20,254.40L449.70,250.26L450.20,246.79L450.70,243.59L451.20,240.59L451.70,237.75L452.20,235.06L452.70,232.48L453.20,230.02L453.70,227.64L454.20,225.31L454.70,223.02L455.20,220.77L455.70,218.55L456.20,216.36L456.70,214.21L457.20,212.11L457.70,210.09L458.20,208.16L458.70,206.35L459.20,204.66L459.70,203.07L460.20,201.67L460.70,200.42L461.20,199.09L461.70,197.66L462.20,196.16L462.70,194.64L463.20,193.15L463.70,191.68L464.20,190.12L464.70,188.46L465.20,186.74L465.70,184.99L466.20,183.32L466.70,181.78L467.20,180.38L467.70,179.02L468.20,177.61L468.70,176.09L469.20,174.45L469.70,172.76L470.20,171.16L470.70,169.74L471.20,168.53L471.70,167.49L472.20,166.54L472.70,165.57L473.20,164.51L473.70,163.37L474.20,162.19L474.70,161.04L475.20,159.99L475.70,159.06L476.20,158.24L476.70,157.49L477.20,156.74L477.70,155.99L478.20,155.27L478.70,154.59L479.20,153.90L479.70,153.13L480.20,152.24L480.70,151.24L481.20,150.18L481.70,149.11L482.20,148.11L482.70,147.22L483.20,146.49L483.70,145.94L484.20,145.58L484.70,145.35L485.20,145.16L485.70,144.95L486.20,144.68L486.70,144.36L487.20,143.98L487.70,143.51L488.20,142.89L488.70,142.08L489.20,141.12L489.70,140.14L490.20,139.33L490.70,138.79L491.20,138.50L491.70,138.31L492.20,138.07L492.70,137.69L493.20,137.19L493.70,136.65L494.20,136.14L494.70,135.73L495.20,135.42L495.70,135.20L496.20,135.01L496.70,134.81L497.20,134.57L497.70,134.30L498.20,134.06L498.70,133.91L499.20,133.83L499.70,133.72L500.20,133.49L500.70,133.06L501.20,132.39L501.70,131.51L502.20,130.55L502.70,129.63L503.20,128.79L503.70,127.97L504.20,127.07L504.70,126.08L505.20,125.08L505.70,124.22L506.20,123.65L506.70,123.38L507.20,123.30L507.70,123.25L508.20,123.07L508.70,122.73L509.20,122.24L509.70,121.69L510.20,121.20L510.70,120.85L511.20,120.65L511.70,120.55L512.20,120.47L512.70,120.32L513.20,120.04L513.70,119.64L514.20,119.18L514.70,118.75L515.20,118.43L515.70,118.22L516.20,118.02L516.70,117.74L517.20,117.29L517.70,116.64L518.20,115.84L518.70,115.02L519.20,114.35L519.70,113.93L520.20,113.71L520.70,113.58L521.20,113.39L521.70,113.05L522.20,112.54L522.70,111.87L523.20,111.08L523.70,110.23L524.20,109.33L524.70,108.45L525.20,107.65L525.70,107.01L526.20,106.62L526.70,106.51L527.20,106.61L527.70,106.83L528.20,107.01L528.70,107.08L529.20,106.98L529.70,106.70L530.20,106.18L530.70,105.37L531.20,104.29L531.70,103.08L532.20,101.91L532.70,100.90L533.20,100.10L533.70,99.53L534.20,99.20L534.70,99.15L535.20,99.34L535.70,99.70L536.20,100.07L536.70,100.33L537.20,100.45L537.70,100.47L538.20,100.42L538.70,100.31L539.20,100.18L539.70,100.04L540.20,99.89L540.70,99.69L541.20,99.43L541.70,99.07L542.20,98.55L542.70,97.81L543.20,96.85L543.70,95.69L544.20,94.46L544.70,93.27L545.20,92.23L545.70,91.37L546.20,90.70L546.70,90.24L547.20,90.06L547.70,90.22L548.20,90.69L548.70,91.26L549.20,91.71L549.70,91.93L550.20,91.96L550.70,91.83L551.20,91.43L551.70,90.71L552.20,89.75L552.70,88.70L553.20,87.74L553.70,87.03L554.20,86.68L554.70,86.72L555.20,87.02L555.70,87.35L556.20,87.51L556.70,87.45L557.20,87.22L557.70,86.85L558.20,86.29L558.70,85.56L559.20,84.78L559.70,84.07L560.20,83.53L560.70,83.22L561.20,83.13L561.70,83.22L562.20,83.36L562.70,83.45L563.20,83.44L563.70,83.36L564.20,83.17L564.70,82.83L565.20,82.41L565.70,82.06L566.20,81.89L566.70,81.85L567.20,81.84L567.70,81.76L568.20,81.56L568.70,81.29L569.20,81.03L569.70,80.91L570.20,80.95L570.70,81.07L571.20,81.17L571.70,81.23L572.20,81.25L572.70,81.25L573.20,81.23L573.70,81.18L574.20,81.08L574.70,80.90L575.20,80.61L575.70,80.12L576.20,79.38L576.70,78.45L577.20,77.52L577.70,76.81L578.20,76.46L578.70,76.41L579.20,76.47L579.70,76.50L580.20,76.39L580.70,76.15L581.20,75.84L581.70,75.60L582.20,75.54L582.70,75.59L583.20,75.63L583.70,75.56L584.20,75.40L584.70,75.16L585.20,74.85L585.70,74.52L586.20,74.28L586.70,74.16L587.20,74.11L587.70,74.05L588.20,73.90L588.70,73.57L589.20,73.01L589.70,72.31L590.20,71.67L590.70,71.28L591.20,71.17L591.70,71.19L592.20,71.20L592.70,71.10L593.20,70.93L593.70,70.76L594.20,70.67L594.70,70.64L595.20,70.63L595.70,70.56L596.20,70.39L596.70,70.12L597.20,69.75L597.70,69.26L598.20,68.68L598.70,68.05L599.20,67.45L599.70,67.00L600.20,66.77L600.70,66.73L601.20,66.78L601.70,66.80L602.20,66.72L602.70,66.56L603.20,66.33L603.70,66.05L604.20,65.75L604.70,65.49L605.20,65.35L605.70,65.35L606.20,65.44L606.70,65.57L607.20,65.65L607.70,65.63L608.20,65.46L608.70,65.14L609.20,64.74L609.70,64.41L610.20,64.26L610.70,64.31L611.20,64.46L611.70,64.53L612.20,64.47L612.70,64.27L613.20,63.87L613.70,63.20L614.20,62.34L614.70,61.53L615.20,60.96L615.70,60.64L616.20,60.46L616.70,60.31L617.20,60.18L617.70,60.07L618.20,60.04L618.70,60.06L619.20,60.07L619.70,59.97L620.20,59.67L620.70,59.17L621.20,58.57L621.70,58.06L622.20,57.76L622.70,57.70L623.20,57.78L623.70,57.88L624.20,57.92L624.70,57.91L625.20,57.84L625.70,57.73L626.20,57.57L626.70,57.35L627.20,57.02L627.70,56.54L628.20,55.96L628.70,55.40L629.20,54.95L629.70,54.66L630.20,54.46L630.70,54.35L631.20,54.36L631.70,54.55L632.20,54.86L632.70,55.17L633.20,55.34L633.70,55.37L634.20,55.32L634.70,55.22L635.20,55.06L635.70,54.85L636.20,54.56L636.70,54.20L637.20,53.72L637.70,53.12L638.20,52.47L638.70,51.89L639.20,51.52L639.70,51.39L640.20,51.40L640.70,51.39L641.20,51.26L641.70,51.00L642.20,50.61L642.70,50.17L643.20,49.79L643.70,49.65L644.20,49.76L644.70,50.05L645.20,50.36L645.70,50.59L646.20,50.69L646.70,50.63L647.20,50.45L647.70,50.18L648.20,49.88L648.70,49.60L649.20,49.39L649.70,49.26L650.20,49.15L650.70,49.01L651.20,48.85L651.70,48.64L652.20,48.28L652.70,47.71L653.20,47.11L653.70,46.68L654.20,46.44L654.70,46.29L655.20,46.14L655.60,45.99L655.60,70.66L655.20,70.82L654.70,71.12L654.20,71.51L653.70,71.88L653.20,72.07L652.70,72.04L652.20,71.92L651.70,71.86L651.20,71.86L650.70,71.85L650.20,71.89L649.70,72.03L649.20,72.19L648.70,72.30L648.20,72.32L647.70,72.25L647.20,72.12L646.70,71.97L646.20,71.86L645.70,71.84L645.20,71.96L644.70,72.27L644.20,72.70L643.70,73.12L643.20,73.42L642.70,73.57L642.20,73.67L641.70,73.82L641.20,74.09L640.70,74.49L640.20,75.03L639.70,75.64L639.20,76.14L638.70,76.41L638.20,76.45L637.70,76.37L637.20,76.30L636.70,76.31L636.20,76.38L635.70,76.49L635.20,76.60L634.70,76.68L634.20,76.73L633.70,76.74L633.20,76.78L632.70,76.97L632.20,77.36L631.70,77.83L631.20,78.25L630.70,78.58L630.20,78.88L629.70,79.20L629.20,79.52L628.70,79.75L628.20,79.84L627.70,79.84L627.20,79.83L626.70,79.83L626.20,79.84L625.70,79.85L625.20,79.88L624.70,79.99L624.20,80.20L623.70,80.57L623.20,81.12L622.70,81.78L622.20,82.41L621.70,82.86L621.20,83.10L620.70,83.23L620.20,83.38L619.70,83.67L619.20,84.10L618.70,84.62L618.20,85.14L617.70,85.57L617.20,85.91L616.70,86.22L616.20,86.54L615.70,86.87L615.20,87.11L614.70,87.12L614.20,86.85L613.70,86.46L613.20,86.14L612.70,86.01L612.20,86.02L611.70,86.19L611.20,86.59L610.70,87.16L610.20,87.73L609.70,88.14L609.20,88.35L608.70,88.45L608.20,88.54L607.70,88.71L607.20,88.96L606.70,89.28L606.20,89.63L605.70,89.94L605.20,90.15L604.70,90.21L604.20,90.15L603.70,90.03L603.20,89.92L602.70,89.88L602.20,89.96L601.70,90.23L601.20,90.72L600.70,91.39L600.20,92.09L599.70,92.65L599.20,92.99L598.70,93.13L598.20,93.14L597.70,93.10L597.20,93.05L596.70,93.02L596.20,93.03L595.70,93.13L595.20,93.32L594.70,93.63L594.20,93.97L593.70,94.29L593.20,94.54L592.70,94.80L592.20,95.16L591.70,95.67L591.20,96.28L590.70,96.79L590.20,97.04L589.70,96.98L589.20,96.77L588.70,96.61L588.20,96.61L587.70,96.77L587.20,97.05L586.70,97.39L586.20,97.68L585.70,97.85L585.20,97.91L584.70,97.91L584.20,97.94L583.70,98.02L583.20,98.22L582.70,98.57L582.20,98.98L581.70,99.28L581.20,99.39L580.70,99.40L580.20,99.48L579.70,99.77L579.20,100.33L578.70,101.12L578.20,101.94L577.70,102.55L577.20,102.79L576.70,102.69L576.20,102.43L575.70,102.21L575.20,102.11L574.70,102.10L574.20,102.16L573.70,102.28L573.20,102.47L572.70,102.69L572.20,102.92L571.70,103.13L571.20,103.35L570.70,103.60L570.20,103.89L569.70,104.12L569.20,104.21L568.70,104.15L568.20,104.03L567.70,103.99L567.20,104.11L566.70,104.40L566.20,104.76L565.70,105.05L565.20,105.18L564.70,105.21L564.20,105.27L563.70,105.44L563.20,105.72L562.70,106.11L562.20,106.69L561.70,107.44L561.20,108.21L560.70,108.84L560.20,109.22L559.70,109.32L559.20,109.16L558.70,108.82L558.20,108.45L557.70,108.18L557.20,108.06L556.70,108.10L556.20,108.41L555.70,109.12L555.20,110.20L554.70,111.41L554.20,112.44L553.70,113.07L553.20,113.26L552.70,113.06L552.20,112.63L551.70,112.12L551.20,111.71L550.70,111.51L550.20,111.49L549.70,111.64L549.20,112.08L548.70,112.97L548.20,114.23L547.70,115.57L547.20,116.71L546.70,117.56L546.20,118.15L545.70,118.56L545.20,118.79L544.70,118.80L544.20,118.58L543.70,118.21L543.20,117.78L542.70,117.44L542.20,117.22L541.70,117.13L541.20,117.14L540.70,117.21L540.20,117.32L539.70,117.45L539.20,117.57L538.70,117.69L538.20,117.83L537.70,118.03L537.20,118.36L536.70,118.89L536.20,119.73L535.70,120.87L535.20,122.16L534.70,123.42L534.20,124.48L533.70,125.29L533.20,125.85L532.70,126.16L532.20,126.19L531.70,125.94L531.20,125.53L530.70,125.15L530.20,124.97L529.70,125.04L529.20,125.36L528.70,125.93L528.20,126.78L527.70,127.91L527.20,129.22L526.70,130.55L526.20,131.72L525.70,132.61L525.20,133.23L524.70,133.61L524.20,133.85L523.70,134.00L523.20,134.10L522.70,134.21L522.20,134.36L521.70,134.63L521.20,135.09L520.70,135.73L520.20,136.48L519.70,137.18L519.20,137.62L518.70,137.73L518.20,137.56L517.70,137.31L517.20,137.16L516.70,137.22L516.20,137.50L515.70,137.95L515.20,138.45L514.70,138.88L514.20,139.20L513.70,139.44L513.20,139.74L512.70,140.17L512.20,140.78L511.70,141.53L511.20,142.32L510.70,143.03L510.20,143.59L509.70,143.99L509.20,144.32L508.70,144.72L508.20,145.34L507.70,146.24L507.20,147.39L506.70,148.62L506.20,149.68L505.70,150.37L505.20,150.67L504.70,150.70L504.20,150.67L503.70,150.72L503.20,150.85L502.70,150.98L502.20,151.02L501.70,150.94L501.20,150.86L500.70,150.90L500.20,151.15L499.70,151.60L499.20,152.20L498.70,152.85L498.20,153.41L497.70,153.85L497.20,154.20L496.70,154.55L496.20,154.95L495.70,155.40L495.20,155.88L494.70,156.35L494.20,156.76L493.70,157.13L493.20,157.49L492.70,157.95L492.20,158.59L491.70,159.47L491.20,160.53L490.70,161.58L490.20,162.38L489.70,162.85L489.20,163.03L488.70,163.11L488.20,163.25L487.70,163.54L487.20,163.98L486.70,164.55L486.20,165.24L485.70,166.08L485.20,167.09L484.70,168.28L484.20,169.55L483.70,170.79L483.20,171.91L482.70,172.83L482.20,173.57L481.70,174.15L481.20,174.61L480.70,175.03L480.20,175.50L479.70,176.11L479.20,176.91L478.70,177.88L478.20,178.95L477.70,180.06L477.20,181.21L476.70,182.42L476.20,183.71L475.70,185.01L475.20,186.30L474.70,187.55L474.20,188.77L473.70,189.99L473.20,191.31L472.70,192.78L472.20,194.40L471.70,196.11L471.20,197.80L470.70,199.33L470.20,200.61L469.70,201.63L469.20,202.49L468.70,203.29L468.20,204.17L467.70,205.17L467.20,206.28L466.70,207.39L466.20,208.43L465.70,209.35L465.20,210.20L464.70,211.07L464.20,212.01L463.70,213.12L463.20,214.35L462.70,215.59L462.20,216.81L461.70,218.03L461.20,219.29L460.70,220.65L460.20,222.12L459.70,223.53L459.20,224.88L458.70,226.21L458.20,227.52L457.70,228.80L457.20,230.05L456.70,231.29L456.20,232.52L455.70,233.77L455.20,235.03L454.70,236.32L454.20,237.65L453.70,239.04L453.20,240.48L452.70,241.98L452.20,243.54L451.70,245.14L451.20,246.79L450.70,248.50L450.20,250.29L449.70,252.23L449.20,254.40Z" fill="#c33717" fill-opacity="0.25" stroke="none"/>
<path d="M449.20,254.40L449.70,250.32L450.20,247.03L450.70,244.01L451.20,241.19L451.70,238.50L452.20,235.93L452.70,233.47L453.20,231.09L453.70,228.79L454.20,226.56L454.70,224.39L455.20,222.29L455.70,220.24L456.20,218.25L456.70,216.31L457.20,214.41L457.70,212.56L458.20,210.74L458.70,208.97L459.20,207.24L459.70,205.55L460.20,203.89L460.70,202.26L461.20,200.67L461.70,199.11L462.20,197.57L462.70,196.07L463.20,194.60L463.70,193.15L464.20,191.73L464.70,190.33L465.20,188.96L465.70,187.61L466.20,186.29L466.70,184.99L467.20,183.71L467.70,182.45L468.20,181.21L468.70,179.99L469.20,178.80L469.70,177.62L470.20,176.48L470.70,175.39L471.20,174.31L471.70,173.25L472.20,172.21L472.70,171.18L473.20,170.17L473.70,169.17L474.20,168.19L474.70,167.22L475.20,166.26L475.70,165.32L476.20,164.38L476.70,163.47L477.20,162.56L477.70,161.67L478.20,160.78L478.70,159.91L479.20,159.06L479.70,158.21L480.20,157.37L480.70,156.54L481.20,155.73L481.70,154.92L482.20,154.13L482.70,153.34L483.20,152.57L483.70,151.80L484.20,151.04L484.70,150.30L485.20,149.56L485.70,148.83L486.20,148.11L486.70,147.39L487.20,146.69L487.70,145.99L488.20,145.30L488.70,144.62L489.20,143.95L489.70,143.28L490.20,142.62L490.70,141.97L491.20,141.33L491.70,140.69L492.20,140.06L492.70,139.44L493.20,138.82L493.70,138.21L494.20,137.61L494.70,137.01L495.20,136.42L495.70,135.83L496.20,135.26L496.70,134.68L497.20,134.12L497.70,133.55L498.20,133.00L498.70,132.45L499.20,131.90L499.70,131.36L500.20,130.83L500.70,130.30L501.20,129.77L501.70,129.25L502.20,128.74L502.70,128.23L503.20,127.72L503.70,127.22L504.20,126.73L504.70,126.23L505.20,125.75L505.70,125.26L506.20,124.79L506.70,124.31L507.20,123.84L507.70,123.37L508.20,122.91L508.70,122.45L509.20,122.00L509.70,121.55L510.20,121.10L510.70,120.66L511.20,120.22L511.70,119.78L512.20,119.35L512.70,118.92L513.20,118.50L513.70,118.08L514.20,117.66L514.70,117.24L515.20,116.83L515.70,116.42L516.20,116.01L516.70,115.61L517.20,115.21L517.70,114.81L518.20,114.42L518.70,114.03L519.20,113.64L519.70,113.25L520.20,112.87L520.70,112.49L521.20,112.11L521.70,111.74L522.20,111.37L522.70,111.00L523.20,110.63L523.70,110.27L524.20,109.90L524.70,109.54L525.20,109.19L525.70,108.83L526.20,108.48L526.70,108.13L527.20,107.78L527.70,107.43L528.20,107.09L528.70,106.75L529.20,106.41L529.70,106.07L530.20,105.73L530.70,105.40L531.20,105.07L531.70,104.74L532.20,104.41L532.70,104.08L533.20,103.76L533.70,103.44L534.20,103.12L534.70,102.80L535.20,102.48L535.70,102.17L536.20,101.85L536.70,101.54L537.20,101.23L537.70,100.92L538.20,100.62L538.70,100.31L539.20,100.01L539.70,99.71L540.20,99.41L540.70,99.11L541.20,98.81L541.70,98.51L542.20,98.22L542.70,97.93L543.20,97.63L543.70,97.34L544.20,97.05L544.70,96.77L545.20,96.48L545.70,96.20L546.20,95.91L546.70,95.63L547.20,95.35L547.70,95.07L548.20,94.79L548.70,94.51L549.20,94.24L549.70,93.96L550.20,93.69L550.70,93.41L551.20,93.14L551.70,92.87L552.20,92.60L552.70,92.33L553.20,92.06L553.70,91.80L554.20,91.53L554.70,91.27L555.20,91.01L555.70,90.74L556.20,90.48L556.70,90.22L557.20,89.96L557.70,89.70L558.20,89.45L558.70,89.19L559.20,88.93L559.70,88.68L560.20,88.42L560.70,88.17L561.20,87.92L561.70,87.67L562.20,87.42L562.70,87.17L563.20,86.92L563.70,86.67L564.20,86.42L564.70,86.17L565.20,85.93L565.70,85.68L566.20,85.44L566.70,85.20L567.20,84.95L567.70,84.71L568.20,84.47L568.70,84.23L569.20,83.99L569.70,83.75L570.20,83.51L570.70,83.27L571.20,83.03L571.70,82.80L572.20,82.56L572.70,82.33L573.20,82.09L573.70,81.86L574.20,81.62L574.70,81.39L575.20,81.16L575.70,80.93L576.20,80.69L576.70,80.46L577.20,80.23L577.70,80.00L578.20,79.77L578.70,79.54L579.20,79.32L579.70,79.09L580.20,78.86L580.70,78.64L581.20,78.41L581.70,78.18L582.20,77.96L582.70,77.73L583.20,77.51L583.70,77.29L584.20,77.06L584.70,76.84L585.20,76.62L585.70,76.40L586.20,76.17L586.70,75.95L587.20,75.73L587.70,75.51L588.20,75.29L588.70,75.07L589.20,74.86L589.70,74.64L590.20,74.42L590.70,74.20L591.20,73.98L591.70,73.77L592.20,73.55L592.70,73.33L593.20,73.12L593.70,72.90L594.20,72.69L594.70,72.47L595.20,72.26L595.70,72.04L596.20,71.83L596.70,71.62L597.20,71.40L597.70,71.19L598.20,70.98L598.70,70.77L599.20,70.56L599.70,70.34L600.20,70.13L600.70,69.92L601.20,69.71L601.70,69.50L602.20,69.29L602.70,69.08L603.20,68.87L603.70,68.66L604.20,68.45L604.70,68.25L605.20,68.04L605.70,67.83L606.20,67.62L606.70,67.41L607.20,67.21L607.70,67.00L608.20,66.79L608.70,66.59L609.20,66.38L609.70,66.17L610.20,65.97L610.70,65.76L611.20,65.56L611.70,65.35L612.20,65.15L612.70,64.94L613.20,64.74L613.70,64.53L614.20,64.33L614.70,64.13L615.20,63.92L615.70,63.72L616.20,63.52L616.70,63.31L617.20,63.11L617.70,62.91L618.20,62.71L618.70,62.50L619.20,62.30L619.70,62.10L620.20,61.90L620.70,61.70L621.20,61.50L621.70,61.30L622.20,61.09L622.70,60.89L623.20,60.69L623.70,60.49L624.20,60.29L624.70,60.09L625.20,59.89L625.70,59.69L626.20,59.49L626.70,59.29L627.20,59.10L627.70,58.90L628.20,58.70L628.70,58.50L629.20,58.30L629.70,58.10L630.20,57.90L630.70,57.70L631.20,57.51L631.70,57.31L632.20,57.11L632.70,56.91L633.20,56.72L633.70,56.52L634.20,56.32L634.70,56.12L635.20,55.93L635.70,55.73L636.20,55.53L636.70,55.34L637.20,55.14L637.70,54.94L638.20,54.75L638.70,54.55L639.20,54.36L639.70,54.16L640.20,53.96L640.70,53.77L641.20,53.57L641.70,53.38L642.20,53.18L642.70,52.99L643.20,52.79L643.70,52.60L644.20,52.40L644.70,52.21L645.20,52.01L645.70,51.82L646.20,51.62L646.70,51.43L647.20,51.24L647.70,51.04L648.20,50.85L648.70,50.65L649.20,50.46L649.70,50.27L650.20,50.07L650.70,49.88L651.20,49.68L651.70,49.49L652.20,49.30L652.70,49.10L653.20,48.91L653.70,48.72L654.20,48.52L654.70,48.33L655.20,48.14L655.60,47.98L655.60,52.26L655.20,52.41L654.70,52.60L654.20,52.79L653.70,52.98L653.20,53.16L652.70,53.35L652.20,53.54L651.70,53.73L651.20,53.91L650.70,54.10L650.20,54.29L649.70,54.48L649.20,54.67L648.70,54.86L648.20,55.04L647.70,55.23L647.20,55.42L646.70,55.61L646.20,55.80L645.70,55.99L645.20,56.18L644.70,56.37L644.20,56.56L643.70,56.75L643.20,56.94L642.70,57.12L642.20,57.31L641.70,57.50L641.20,57.69L640.70,57.88L640.20,58.07L639.70,58.26L639.20,58.46L638.70,58.65L638.20,58.84L637.70,59.03L637.20,59.22L636.70,59.41L636.20,59.60L635.70,59.79L635.20,59.98L634.70,60.17L634.20,60.37L633.70,60.56L633.20,60.75L632.70,60.94L632.20,61.13L631.70,61.33L631.20,61.52L630.70,61.71L630.20,61.90L629.70,62.10L629.20,62.29L628.70,62.48L628.20,62.68L627.70,62.87L627.20,63.06L626.70,63.26L626.20,63.45L625.70,63.65L625.20,63.84L624.70,64.03L624.20,64.23L623.70,64.42L623.20,64.62L622.70,64.81L622.20,65.01L621.70,65.21L621.20,65.40L620.70,65.60L620.20,65.79L619.70,65.99L619.20,66.19L618.70,66.38L618.20,66.58L617.70,66.78L617.20,66.97L616.70,67.17L616.20,67.37L615.70,67.57L615.20,67.76L614.70,67.96L614.20,68.16L613.70,68.36L613.20,68.56L612.70,68.76L612.20,68.96L611.70,69.16L611.20,69.36L610.70,69.56L610.20,69.76L609.70,69.96L609.20,70.16L608.70,70.36L608.20,70.56L607.70,70.76L607.20,70.96L606.70,71.17L606.20,71.37L605.70,71.57L605.20,71.77L604.70,71.98L604.20,72.18L603.70,72.39L603.20,72.59L602.70,72.79L602.20,73.00L601.70,73.20L601.20,73.41L600.70,73.61L600.20,73.82L599.70,74.03L599.20,74.23L598.70,74.44L598.20,74.65L597.70,74.85L597.20,75.06L596.70,75.27L596.20,75.48L595.70,75.69L595.20,75.90L594.70,76.10L594.20,76.31L593.70,76.52L593.20,76.74L592.70,76.95L592.20,77.16L591.70,77.37L591.20,77.58L590.70,77.79L590.20,78.01L589.70,78.22L589.20,78.43L588.70,78.65L588.20,78.86L587.70,79.08L587.20,79.29L586.70,79.51L586.20,79.72L585.70,79.94L585.20,80.16L584.70,80.38L584.20,80.59L583.70,80.81L583.20,81.03L582.70,81.25L582.20,81.47L581.70,81.69L581.20,81.91L580.70,82.13L580.20,82.36L579.70,82.58L579.20,82.80L578.70,83.03L578.20,83.25L577.70,83.47L577.20,83.70L576.70,83.93L576.20,84.15L575.70,84.38L575.20,84.61L574.70,84.83L574.20,85.06L573.70,85.29L573.20,85.52L572.70,85.75L572.20,85.98L571.70,86.22L571.20,86.45L570.70,86.68L570.20,86.92L569.70,87.15L569.20,87.39L568.70,87.62L568.20,87.86L567.70,88.10L567.20,88.33L566.70,88.57L566.20,88.81L565.70,89.05L565.20,89.29L564.70,89.54L564.20,89.78L563.70,90.02L563.20,90.27L562.70,90.51L562.20,90.76L561.70,91.01L561.20,91.25L560.70,91.50L560.20,91.75L559.70,92.00L559.20,92.25L558.70,92.51L558.20,92.76L557.70,93.01L557.20,93.27L556.70,93.52L556.20,93.78L555.70,94.04L555.20,94.30L554.70,94.56L554.20,94.82L553.70,95.08L553.20,95.34L552.70,95.61L552.20,95.87L551.70,96.14L551.20,96.41L550.70,96.68L550.20,96.95L549.70,97.22L549.20,97.49L548.70,97.76L548.20,98.04L547.70,98.31L547.20,98.59L546.70,98.87L546.20,99.15L545.70,99.43L545.20,99.71L544.70,100.00L544.20,100.28L543.70,100.57L543.20,100.86L542.70,101.15L542.20,101.44L541.70,101.73L541.20,102.02L540.70,102.32L540.20,102.62L539.70,102.92L539.20,103.22L538.70,103.52L538.20,103.82L537.70,104.13L537.20,104.43L536.70,104.74L536.20,105.05L535.70,105.36L535.20,105.68L534.70,105.99L534.20,106.31L533.70,106.63L533.20,106.95L532.70,107.27L532.20,107.60L531.70,107.93L531.20,108.26L530.70,108.59L530.20,108.92L529.70,109.26L529.20,109.59L528.70,109.93L528.20,110.27L527.70,110.62L527.20,110.96L526.70,111.31L526.20,111.66L525.70,112.02L525.20,112.37L524.70,112.73L524.20,113.09L523.70,113.45L523.20,113.82L522.70,114.19L522.20,114.56L521.70,114.93L521.20,115.31L520.70,115.69L520.20,116.07L519.70,116.45L519.20,116.84L518.70,117.23L518.20,117.63L517.70,118.02L517.20,118.42L516.70,118.83L516.20,119.23L515.70,119.64L515.20,120.05L514.70,120.47L514.20,120.89L513.70,121.31L513.20,121.74L512.70,122.17L512.20,122.60L511.70,123.04L511.20,123.48L510.70,123.92L510.20,124.37L509.70,124.82L509.20,125.28L508.70,125.74L508.20,126.20L507.70,126.67L507.20,127.14L506.70,127.62L506.20,128.10L505.70,128.58L505.20,129.07L504.70,129.57L504.20,130.07L503.70,130.57L503.20,131.08L502.70,131.59L502.20,132.11L501.70,132.64L501.20,133.17L500.70,133.70L500.20,134.24L499.70,134.78L499.20,135.34L498.70,135.89L498.20,136.45L497.70,137.02L497.20,137.59L496.70,138.17L496.20,138.76L495.70,139.35L495.20,139.95L494.70,140.55L494.20,141.17L493.70,141.78L493.20,142.41L492.70,143.04L492.20,143.68L491.70,144.33L491.20,144.98L490.70,145.64L490.20,146.31L489.70,146.98L489.20,147.67L488.70,148.36L488.20,149.06L487.70,149.77L487.20,150.49L486.70,151.21L486.20,151.95L485.70,152.69L485.20,153.44L484.70,154.21L484.20,154.98L483.70,155.76L483.20,156.55L482.70,157.35L482.20,158.16L481.70,158.99L481.20,159.82L480.70,160.66L480.20,161.52L479.70,162.39L479.20,163.26L478.70,164.15L478.20,165.06L477.70,165.97L477.20,166.90L476.70,167.84L476.20,168.80L475.70,169.76L475.20,170.75L474.70,171.74L474.20,172.75L473.70,173.78L473.20,174.82L472.70,175.87L472.20,176.95L471.70,178.04L471.20,179.14L470.70,180.26L470.20,181.41L469.70,182.53L469.20,183.65L468.70,184.80L468.20,185.95L467.70,187.13L467.20,188.33L466.70,189.54L466.20,190.78L465.70,192.04L465.20,193.31L464.70,194.61L464.20,195.94L463.70,197.28L463.20,198.65L462.70,200.05L462.20,201.47L461.70,202.91L461.20,204.39L460.70,205.89L460.20,207.42L459.70,208.99L459.20,210.58L458.70,212.21L458.20,213.87L457.70,215.57L457.20,217.31L456.70,219.08L456.20,220.90L455.70,222.76L455.20,224.68L454.70,226.64L454.20,228.65L453.70,230.73L453.20,232.86L452.70,235.07L452.20,237.36L451.70,239.74L451.20,242.22L450.70,244.84L450.20,247.62L449.70,250.66L449.20,254.40Z" fill="#4fa3c7" fill-opacity="0.25" stroke="none"/>
<rect x="93.9" y="43.50" width="12.3" height="12.4" fill="#7a5cb0" fill-opacity="0.25"/><line x1="94.8" y1="49.70" x2="105.5" y2="49.70" stroke="#7a5cb0" stroke-width="2.0"/><text x="111.4" y="52.10" font-family="&quot;Liberation Sans&quot;, sans-serif" font-size="6.9" fill="#000">Day 0</text><rect x="93.9" y="56.95" width="12.3" height="12.4" fill="#83b363" fill-opacity="0.25"/><line x1="94.8" y1="63.15" x2="105.5" y2="63.15" stroke="#5cb43c" stroke-width="2.0"/><text x="111.4" y="65.55" font-family="&quot;Liberation Sans&quot;, sans-serif" font-size="6.9" fill="#000">Day 1</text><rect x="93.9" y="70.40" width="12.3" height="12.4" fill="#c33717" fill-opacity="0.25"/><line x1="94.8" y1="76.60" x2="105.5" y2="76.60" stroke="#c41e3a" stroke-width="2.0"/><text x="111.4" y="79.00" font-family="&quot;Liberation Sans&quot;, sans-serif" font-size="6.9" fill="#000">Day 2 or later</text><rect x="93.9" y="83.85" width="12.3" height="12.4" fill="#4fa3c7" fill-opacity="0.25"/><line x1="94.8" y1="90.05" x2="105.5" y2="90.05" stroke="#1ba5d2" stroke-width="2.0"/><text x="111.4" y="92.45" font-family="&quot;Liberation Sans&quot;, sans-serif" font-size="6.9" fill="#000">Control</text>
</svg>
</body></html>
